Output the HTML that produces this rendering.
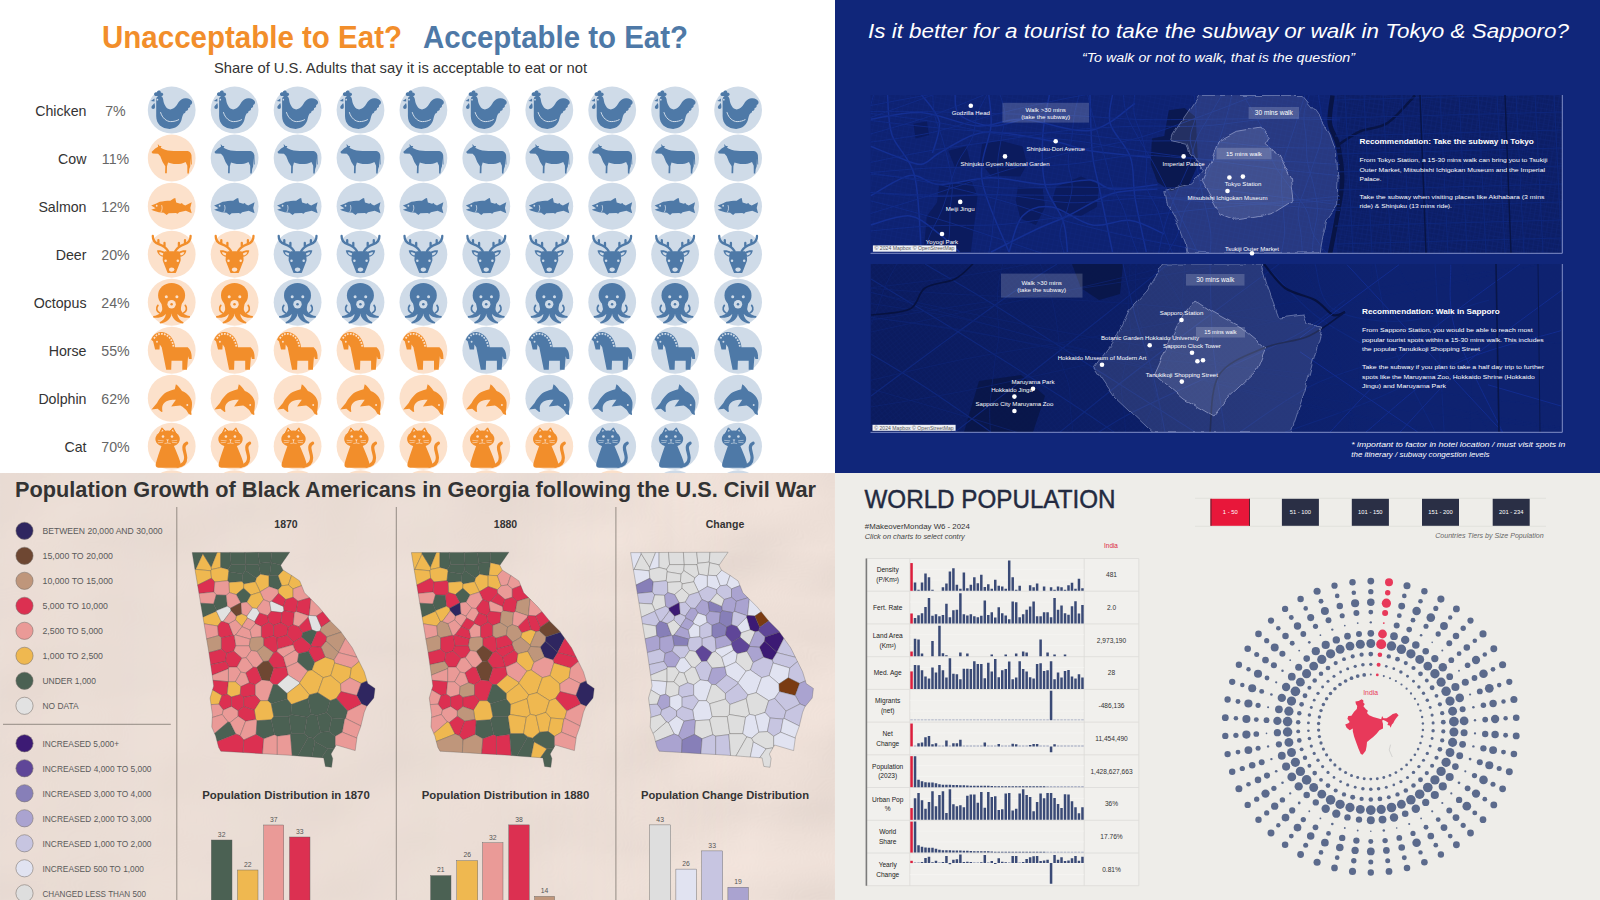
<!DOCTYPE html>
<html><head><meta charset="utf-8"><title>Viz collage</title>
<style>
html,body{margin:0;padding:0;background:#fff;}
body{width:1600px;height:900px;overflow:hidden;font-family:"Liberation Sans",sans-serif;}
svg{display:block;font-family:"Liberation Sans",sans-serif;}
</style></head><body>
<svg width="1600" height="900" viewBox="0 0 1600 900">
<!-- gen_tl -->
<g><rect x="0" y="0" width="835" height="473" fill="#fff"/>
<defs>
<g id="chiB"><ellipse cx="24" cy="24" rx="23.9" ry="23.5" fill="#cfdbe8"/><path fill="#4e79a7" d="M8.5 15C8 11.5 10 9.7 12 9.7C14 9.7 15.2 11 15.5 13.5C16 18 18.5 23.3 22.6 23.3C27 23.3 29 19 31 16C33 13 36 11.8 38.5 12.2C41 12.3 43.5 13.5 44.3 15.5C44.8 17 44 18.5 42.5 19C43 20.5 42 22 40.5 22C40.8 23.8 39.5 25 38 25C38 26.5 37 27.5 36 27.5C35 29 34.5 31 34 33C33 38.5 28 42.8 22 42.8C14 42.8 8.5 38 8.5 30Z"/>
<path fill="#4e79a7" d="M7.6 9.9C6.4 9.6 6 8 6.8 7C7.4 6.2 8.5 6 9.2 6.5C9.3 5.2 10.3 4.4 11.4 4.5C12.6 4.6 13.3 5.6 13.2 6.7C14.2 6.3 15.3 6.9 15.5 8C15.7 9 15 9.8 14.2 9.9Z"/>
<path fill="#4e79a7" d="M6.8 12.4L3.2 14.9L6.8 15.4Z"/>
<path fill="#4e79a7" d="M6.6 16.8C5.5 18.5 3.7 19.6 3.7 21.2A1.8 1.8 0 0 0 7.3 21.2C7.3 19.5 7.2 18 6.6 16.8Z"/>
<circle cx="9.7" cy="13.6" r="0.85" fill="#cfdbe8"/>
<path fill="none" stroke="#cfdbe8" stroke-width="1" stroke-linecap="round" d="M12.9 26.4C14.5 32 19 35.5 23 35.5C26 35.5 29 34.8 31 33.6"/></g>
<g id="chiO"><ellipse cx="24" cy="24" rx="23.9" ry="23.5" fill="#fce1cb"/><path fill="#f28e2b" d="M8.5 15C8 11.5 10 9.7 12 9.7C14 9.7 15.2 11 15.5 13.5C16 18 18.5 23.3 22.6 23.3C27 23.3 29 19 31 16C33 13 36 11.8 38.5 12.2C41 12.3 43.5 13.5 44.3 15.5C44.8 17 44 18.5 42.5 19C43 20.5 42 22 40.5 22C40.8 23.8 39.5 25 38 25C38 26.5 37 27.5 36 27.5C35 29 34.5 31 34 33C33 38.5 28 42.8 22 42.8C14 42.8 8.5 38 8.5 30Z"/>
<path fill="#f28e2b" d="M7.6 9.9C6.4 9.6 6 8 6.8 7C7.4 6.2 8.5 6 9.2 6.5C9.3 5.2 10.3 4.4 11.4 4.5C12.6 4.6 13.3 5.6 13.2 6.7C14.2 6.3 15.3 6.9 15.5 8C15.7 9 15 9.8 14.2 9.9Z"/>
<path fill="#f28e2b" d="M6.8 12.4L3.2 14.9L6.8 15.4Z"/>
<path fill="#f28e2b" d="M6.6 16.8C5.5 18.5 3.7 19.6 3.7 21.2A1.8 1.8 0 0 0 7.3 21.2C7.3 19.5 7.2 18 6.6 16.8Z"/>
<circle cx="9.7" cy="13.6" r="0.85" fill="#fce1cb"/>
<path fill="none" stroke="#fce1cb" stroke-width="1" stroke-linecap="round" d="M12.9 26.4C14.5 32 19 35.5 23 35.5C26 35.5 29 34.8 31 33.6"/></g>
<g id="cowB"><ellipse cx="24" cy="24" rx="23.9" ry="23.5" fill="#cfdbe8"/><path fill="#4e79a7" d="M3.8 18L7.5 14.5L10.4 12.6L10.1 10L11.8 12L13.8 12L13 13.6L14.9 14.7C18 16 22 17 26 17L39.9 17C42 17.5 43.5 19 43.8 21.1L44.1 30.5L43.3 30.5L42.9 24L42.6 32.2L41.6 35L41.1 39.5L39.7 39.3L39.6 31.7L37.9 27.8C35 29.5 32 30 28.8 30C25 30 22.5 29 20.4 28.3L19.3 32.2L19.1 39.2L17.4 39.2L17.6 32.2L14.9 27.8L12.6 22.2L10.4 19.7L4.9 19.5Z"/></g>
<g id="cowO"><ellipse cx="24" cy="24" rx="23.9" ry="23.5" fill="#fce1cb"/><path fill="#f28e2b" d="M3.8 18L7.5 14.5L10.4 12.6L10.1 10L11.8 12L13.8 12L13 13.6L14.9 14.7C18 16 22 17 26 17L39.9 17C42 17.5 43.5 19 43.8 21.1L44.1 30.5L43.3 30.5L42.9 24L42.6 32.2L41.6 35L41.1 39.5L39.7 39.3L39.6 31.7L37.9 27.8C35 29.5 32 30 28.8 30C25 30 22.5 29 20.4 28.3L19.3 32.2L19.1 39.2L17.4 39.2L17.6 32.2L14.9 27.8L12.6 22.2L10.4 19.7L4.9 19.5Z"/></g>
<g id="salB"><ellipse cx="24" cy="24" rx="23.9" ry="23.5" fill="#cfdbe8"/><path fill="#4e79a7" d="M3.5 23.3L8 21.5L12.1 19.7C15 19 19 18.6 22.6 18.6L26 16.3L27.6 15.8L28.5 20.3L32.6 21.7L34.3 20.8L35.1 22.2L37.6 23.3L44 20L42.6 25.8L44 31.1L38.2 28.6L31.5 30L29.9 31.7L28.2 30.8L21 31.1L19 32.8L16 30.6L11 30L6 28.6L3.5 27.5L7.9 26.1Z"/>
<circle cx="9" cy="23.6" r="0.9" fill="#cfdbe8"/>
<path fill="none" stroke="#cfdbe8" stroke-width="0.8" d="M13.9 23C14.8 25.5 14.5 28 13.2 30"/></g>
<g id="salO"><ellipse cx="24" cy="24" rx="23.9" ry="23.5" fill="#fce1cb"/><path fill="#f28e2b" d="M3.5 23.3L8 21.5L12.1 19.7C15 19 19 18.6 22.6 18.6L26 16.3L27.6 15.8L28.5 20.3L32.6 21.7L34.3 20.8L35.1 22.2L37.6 23.3L44 20L42.6 25.8L44 31.1L38.2 28.6L31.5 30L29.9 31.7L28.2 30.8L21 31.1L19 32.8L16 30.6L11 30L6 28.6L3.5 27.5L7.9 26.1Z"/>
<circle cx="9" cy="23.6" r="0.9" fill="#fce1cb"/>
<path fill="none" stroke="#fce1cb" stroke-width="0.8" d="M13.9 23C14.8 25.5 14.5 28 13.2 30"/></g>
<g id="deeB"><ellipse cx="24" cy="24" rx="23.9" ry="23.5" fill="#cfdbe8"/><path fill="none" stroke="#4e79a7" stroke-width="2.3" stroke-linecap="round" stroke-linejoin="round" d="M5.1 5.8C5 10 7 12.5 11 14C15 15.5 18.5 17.5 20.4 21M10.7 10L10.7 13.9M16.8 12.8L16.8 16.7"/>
<g transform="translate(48,0) scale(-1,1)"><path fill="none" stroke="#4e79a7" stroke-width="2.3" stroke-linecap="round" stroke-linejoin="round" d="M5.1 5.8C5 10 7 12.5 11 14C15 15.5 18.5 17.5 20.4 21M10.7 10L10.7 13.9M16.8 12.8L16.8 16.7"/><path fill="#4e79a7" d="M17.5 22C14 20 11 19.8 9.3 20.3C9.8 23.5 12 26 15.5 26.7Z"/><path fill="#cfdbe8" d="M15.8 23.3C13.8 22.1 12.3 21.9 11.3 22.1C11.8 23.8 13 25 15 25.4Z"/></g>
<path fill="#4e79a7" d="M17.5 22C14 20 11 19.8 9.3 20.3C9.8 23.5 12 26 15.5 26.7Z"/><path fill="#cfdbe8" d="M15.8 23.3C13.8 22.1 12.3 21.9 11.3 22.1C11.8 23.8 13 25 15 25.4Z"/>
<path fill="#4e79a7" d="M17.1 21.1L30.9 21.1C32.5 24 33.2 27 32.9 30.5L28.4 42C28.2 42.6 27.8 42.8 27.2 42.8L20.8 42.8C20.2 42.8 19.8 42.6 19.6 42L15.1 30.5C14.8 27 15.5 24 17.1 21.1Z"/>
<circle cx="17.9" cy="30.6" r="1.25" fill="#cfdbe8"/><circle cx="30.1" cy="30.6" r="1.25" fill="#cfdbe8"/>
<ellipse cx="24" cy="39.4" rx="2.7" ry="2.1" fill="#cfdbe8"/></g>
<g id="deeO"><ellipse cx="24" cy="24" rx="23.9" ry="23.5" fill="#fce1cb"/><path fill="none" stroke="#f28e2b" stroke-width="2.3" stroke-linecap="round" stroke-linejoin="round" d="M5.1 5.8C5 10 7 12.5 11 14C15 15.5 18.5 17.5 20.4 21M10.7 10L10.7 13.9M16.8 12.8L16.8 16.7"/>
<g transform="translate(48,0) scale(-1,1)"><path fill="none" stroke="#f28e2b" stroke-width="2.3" stroke-linecap="round" stroke-linejoin="round" d="M5.1 5.8C5 10 7 12.5 11 14C15 15.5 18.5 17.5 20.4 21M10.7 10L10.7 13.9M16.8 12.8L16.8 16.7"/><path fill="#f28e2b" d="M17.5 22C14 20 11 19.8 9.3 20.3C9.8 23.5 12 26 15.5 26.7Z"/><path fill="#fce1cb" d="M15.8 23.3C13.8 22.1 12.3 21.9 11.3 22.1C11.8 23.8 13 25 15 25.4Z"/></g>
<path fill="#f28e2b" d="M17.5 22C14 20 11 19.8 9.3 20.3C9.8 23.5 12 26 15.5 26.7Z"/><path fill="#fce1cb" d="M15.8 23.3C13.8 22.1 12.3 21.9 11.3 22.1C11.8 23.8 13 25 15 25.4Z"/>
<path fill="#f28e2b" d="M17.1 21.1L30.9 21.1C32.5 24 33.2 27 32.9 30.5L28.4 42C28.2 42.6 27.8 42.8 27.2 42.8L20.8 42.8C20.2 42.8 19.8 42.6 19.6 42L15.1 30.5C14.8 27 15.5 24 17.1 21.1Z"/>
<circle cx="17.9" cy="30.6" r="1.25" fill="#fce1cb"/><circle cx="30.1" cy="30.6" r="1.25" fill="#fce1cb"/>
<ellipse cx="24" cy="39.4" rx="2.7" ry="2.1" fill="#fce1cb"/></g>
<g id="octB"><ellipse cx="24" cy="24" rx="23.9" ry="23.5" fill="#cfdbe8"/><ellipse cx="23.9" cy="17.2" rx="13.5" ry="12.5" fill="#4e79a7"/>
<path fill="#4e79a7" d="M13.5 24L34.3 24L32.6 33L30 36L23.9 35.5L17.8 36L15.2 33Z"/>
<path fill="#4e79a7" d="M15 29C15 34 11 37 5.7 37.8C5.2 38.2 5.4 39.4 6.2 39.5C13 40.5 19 37 20 32Z"/><path fill="#4e79a7" d="M18 33C19 38 16 42 12.3 43.8C11.6 44.2 11.9 45.3 12.8 45.2C19 44.5 23.5 40 23.9 35.5L23.9 33Z"/>
<path fill="none" stroke="#4e79a7" stroke-width="1.7" stroke-linecap="round" d="M10.2 27.2C8 30 9 33.5 12 34.8"/>
<g transform="translate(47.8,0) scale(-1,1)"><path fill="#4e79a7" d="M15 29C15 34 11 37 5.7 37.8C5.2 38.2 5.4 39.4 6.2 39.5C13 40.5 19 37 20 32Z"/><path fill="#4e79a7" d="M18 33C19 38 16 42 12.3 43.8C11.6 44.2 11.9 45.3 12.8 45.2C19 44.5 23.5 40 23.9 35.5L23.9 33Z"/><path fill="none" stroke="#4e79a7" stroke-width="1.7" stroke-linecap="round" d="M10.2 27.2C8 30 9 33.5 12 34.8"/></g>
<circle cx="18.6" cy="18.6" r="1.5" fill="#cfdbe8"/><circle cx="29.2" cy="18.6" r="1.5" fill="#cfdbe8"/>
<circle cx="23.9" cy="26" r="4.2" fill="#cfdbe8"/><circle cx="23.9" cy="26" r="1.25" fill="#4e79a7"/></g>
<g id="octO"><ellipse cx="24" cy="24" rx="23.9" ry="23.5" fill="#fce1cb"/><ellipse cx="23.9" cy="17.2" rx="13.5" ry="12.5" fill="#f28e2b"/>
<path fill="#f28e2b" d="M13.5 24L34.3 24L32.6 33L30 36L23.9 35.5L17.8 36L15.2 33Z"/>
<path fill="#f28e2b" d="M15 29C15 34 11 37 5.7 37.8C5.2 38.2 5.4 39.4 6.2 39.5C13 40.5 19 37 20 32Z"/><path fill="#f28e2b" d="M18 33C19 38 16 42 12.3 43.8C11.6 44.2 11.9 45.3 12.8 45.2C19 44.5 23.5 40 23.9 35.5L23.9 33Z"/>
<path fill="none" stroke="#f28e2b" stroke-width="1.7" stroke-linecap="round" d="M10.2 27.2C8 30 9 33.5 12 34.8"/>
<g transform="translate(47.8,0) scale(-1,1)"><path fill="#f28e2b" d="M15 29C15 34 11 37 5.7 37.8C5.2 38.2 5.4 39.4 6.2 39.5C13 40.5 19 37 20 32Z"/><path fill="#f28e2b" d="M18 33C19 38 16 42 12.3 43.8C11.6 44.2 11.9 45.3 12.8 45.2C19 44.5 23.5 40 23.9 35.5L23.9 33Z"/><path fill="none" stroke="#f28e2b" stroke-width="1.7" stroke-linecap="round" d="M10.2 27.2C8 30 9 33.5 12 34.8"/></g>
<circle cx="18.6" cy="18.6" r="1.5" fill="#fce1cb"/><circle cx="29.2" cy="18.6" r="1.5" fill="#fce1cb"/>
<circle cx="23.9" cy="26" r="4.2" fill="#fce1cb"/><circle cx="23.9" cy="26" r="1.25" fill="#f28e2b"/></g>
<g id="horB"><ellipse cx="24" cy="24" rx="23.9" ry="23.5" fill="#cfdbe8"/><path fill="#4e79a7" d="M5.4 15L7.4 23.3L11.8 23.3L12.1 18.3L14 21L18.5 43.6L23.5 43.6L23.8 34.5L34.6 34.5L34.6 43.6L39.3 43.6L40.4 30L41.3 32.8L44 32.8C44.2 28 43.5 24 40 21.1L27.4 21.1C27 13 21 5.8 13.2 5.8C8.5 5.8 5 9.5 3.5 13.6Z"/>
<path fill="none" stroke="#cfdbe8" stroke-width="1.7" stroke-dasharray="1.7 1.25" d="M6.3 12.3C8 9 10.5 7.6 13.5 7.6C20 7.6 25 13.5 25.8 20.8"/>
<circle cx="9.3" cy="15.6" r="0.95" fill="#cfdbe8"/></g>
<g id="horO"><ellipse cx="24" cy="24" rx="23.9" ry="23.5" fill="#fce1cb"/><path fill="#f28e2b" d="M5.4 15L7.4 23.3L11.8 23.3L12.1 18.3L14 21L18.5 43.6L23.5 43.6L23.8 34.5L34.6 34.5L34.6 43.6L39.3 43.6L40.4 30L41.3 32.8L44 32.8C44.2 28 43.5 24 40 21.1L27.4 21.1C27 13 21 5.8 13.2 5.8C8.5 5.8 5 9.5 3.5 13.6Z"/>
<path fill="none" stroke="#fce1cb" stroke-width="1.7" stroke-dasharray="1.7 1.25" d="M6.3 12.3C8 9 10.5 7.6 13.5 7.6C20 7.6 25 13.5 25.8 20.8"/>
<circle cx="9.3" cy="15.6" r="0.95" fill="#fce1cb"/></g>
<g id="dolB"><ellipse cx="24" cy="24" rx="23.9" ry="23.5" fill="#cfdbe8"/><path fill="#4e79a7" d="M3.8 35.3L9.3 28.9C10.5 26 12 24 13.8 22.2C16 19.5 18 18 20.4 17.2C22.5 16.2 25 15.5 27.1 15L28.2 10C30.5 11.5 32.5 14 34.3 16.7C37.5 18 40.5 20 42.1 22.8C43.8 25.5 44.5 28 44.3 30C44.3 33 43.8 35.5 43.5 37.8L43.9 40.2L43.2 40.8C42 40.5 41 39.8 40.4 38.9C39.5 37 38.5 35.5 37.1 34.5C35.5 33 34 32 32.6 31.4L23.5 32.2L28.2 25.6C26.5 25.4 24.8 25.5 23.2 25.8C21 26.2 19 26.8 17.6 27.8C16 29 15 30.5 14.6 32.2C14.3 34 14.5 35.8 14.9 37.2L13.8 37.8L9.9 34.5Z"/>
<circle cx="39.6" cy="30.8" r="0.95" fill="#cfdbe8"/></g>
<g id="dolO"><ellipse cx="24" cy="24" rx="23.9" ry="23.5" fill="#fce1cb"/><path fill="#f28e2b" d="M3.8 35.3L9.3 28.9C10.5 26 12 24 13.8 22.2C16 19.5 18 18 20.4 17.2C22.5 16.2 25 15.5 27.1 15L28.2 10C30.5 11.5 32.5 14 34.3 16.7C37.5 18 40.5 20 42.1 22.8C43.8 25.5 44.5 28 44.3 30C44.3 33 43.8 35.5 43.5 37.8L43.9 40.2L43.2 40.8C42 40.5 41 39.8 40.4 38.9C39.5 37 38.5 35.5 37.1 34.5C35.5 33 34 32 32.6 31.4L23.5 32.2L28.2 25.6C26.5 25.4 24.8 25.5 23.2 25.8C21 26.2 19 26.8 17.6 27.8C16 29 15 30.5 14.6 32.2C14.3 34 14.5 35.8 14.9 37.2L13.8 37.8L9.9 34.5Z"/>
<circle cx="39.6" cy="30.8" r="0.95" fill="#fce1cb"/></g>
<g id="catB"><ellipse cx="24" cy="24" rx="23.9" ry="23.5" fill="#cfdbe8"/><ellipse cx="19.9" cy="16.7" rx="12.2" ry="8.4" fill="#4e79a7"/>
<path fill="#4e79a7" stroke="#4e79a7" stroke-width="1" stroke-linejoin="round" d="M11 12L14.3 5.6L18.5 10Z M21.3 10L25.3 5.6L28.8 12Z"/>
<path fill="#cfdbe8" d="M13.6 9.4L14.6 7.3L15.9 8.8Z M23.9 8.8L25.1 7.3L26.2 9.4Z"/>
<path fill="#4e79a7" d="M14 23.2L26 23.2C28 27.5 30.5 33.5 32.3 39C33.5 42.5 33 45.4 30 45.4L10.8 45.4C8 45.4 7.6 43 8.3 40.5C9.5 36 11.5 30 14 23.2Z"/>
<path fill="none" stroke="#4e79a7" stroke-width="3.2" stroke-linecap="round" d="M30 43.8C35 43.3 38 40.5 38 35.5C38 32 36 28 36.2 25C36.4 22.8 37.6 21.6 39 21"/>
<circle cx="15.3" cy="14.2" r="1.3" fill="#cfdbe8"/><circle cx="24.3" cy="14.2" r="1.3" fill="#cfdbe8"/>
<path fill="none" stroke="#cfdbe8" stroke-width="0.6" d="M10.1 18.1L16 18.6M10.1 20.5L15.2 20.1M24 18.6L29.5 18.1M24.3 20.1L29.5 20.5M19.9 18.6L19.9 20.8M16.8 21.3L19.9 20.8L23 21.3"/>
<path fill="#cfdbe8" d="M18.5 17.2L21.3 17.2L19.9 18.9Z"/></g>
<g id="catO"><ellipse cx="24" cy="24" rx="23.9" ry="23.5" fill="#fce1cb"/><ellipse cx="19.9" cy="16.7" rx="12.2" ry="8.4" fill="#f28e2b"/>
<path fill="#f28e2b" stroke="#f28e2b" stroke-width="1" stroke-linejoin="round" d="M11 12L14.3 5.6L18.5 10Z M21.3 10L25.3 5.6L28.8 12Z"/>
<path fill="#fce1cb" d="M13.6 9.4L14.6 7.3L15.9 8.8Z M23.9 8.8L25.1 7.3L26.2 9.4Z"/>
<path fill="#f28e2b" d="M14 23.2L26 23.2C28 27.5 30.5 33.5 32.3 39C33.5 42.5 33 45.4 30 45.4L10.8 45.4C8 45.4 7.6 43 8.3 40.5C9.5 36 11.5 30 14 23.2Z"/>
<path fill="none" stroke="#f28e2b" stroke-width="3.2" stroke-linecap="round" d="M30 43.8C35 43.3 38 40.5 38 35.5C38 32 36 28 36.2 25C36.4 22.8 37.6 21.6 39 21"/>
<circle cx="15.3" cy="14.2" r="1.3" fill="#fce1cb"/><circle cx="24.3" cy="14.2" r="1.3" fill="#fce1cb"/>
<path fill="none" stroke="#fce1cb" stroke-width="0.6" d="M10.1 18.1L16 18.6M10.1 20.5L15.2 20.1M24 18.6L29.5 18.1M24.3 20.1L29.5 20.5M19.9 18.6L19.9 20.8M16.8 21.3L19.9 20.8L23 21.3"/>
<path fill="#fce1cb" d="M18.5 17.2L21.3 17.2L19.9 18.9Z"/></g>
</defs>
<text x="102.00" y="48.00" font-size="30.5" fill="#f28e2b" font-weight="bold" textLength="300.00" lengthAdjust="spacingAndGlyphs">Unacceptable to Eat?</text>
<text x="423.00" y="48.00" font-size="30.5" fill="#4e79a7" font-weight="bold" textLength="265.00" lengthAdjust="spacingAndGlyphs">Acceptable to Eat?</text>
<text x="214.00" y="73.00" font-size="14.5" fill="#333" textLength="373.00" lengthAdjust="spacingAndGlyphs">Share of U.S. Adults that say it is acceptable to eat or not</text>
<text x="86.50" y="115.50" font-size="14.2" fill="#333" text-anchor="end">Chicken</text>
<text x="115.50" y="115.50" font-size="14.2" fill="#666" text-anchor="middle">7%</text>
<use href="#chiB" x="147.7" y="86.10"/>
<use href="#chiB" x="210.6" y="86.10"/>
<use href="#chiB" x="273.6" y="86.10"/>
<use href="#chiB" x="336.5" y="86.10"/>
<use href="#chiB" x="399.4" y="86.10"/>
<use href="#chiB" x="462.3" y="86.10"/>
<use href="#chiB" x="525.3" y="86.10"/>
<use href="#chiB" x="588.2" y="86.10"/>
<use href="#chiB" x="651.1" y="86.10"/>
<use href="#chiB" x="714.1" y="86.10"/>
<text x="86.50" y="163.52" font-size="14.2" fill="#333" text-anchor="end">Cow</text>
<text x="115.50" y="163.52" font-size="14.2" fill="#666" text-anchor="middle">11%</text>
<use href="#cowO" x="147.7" y="134.12"/>
<use href="#cowB" x="210.6" y="134.12"/>
<use href="#cowB" x="273.6" y="134.12"/>
<use href="#cowB" x="336.5" y="134.12"/>
<use href="#cowB" x="399.4" y="134.12"/>
<use href="#cowB" x="462.3" y="134.12"/>
<use href="#cowB" x="525.3" y="134.12"/>
<use href="#cowB" x="588.2" y="134.12"/>
<use href="#cowB" x="651.1" y="134.12"/>
<use href="#cowB" x="714.1" y="134.12"/>
<text x="86.50" y="211.54" font-size="14.2" fill="#333" text-anchor="end">Salmon</text>
<text x="115.50" y="211.54" font-size="14.2" fill="#666" text-anchor="middle">12%</text>
<use href="#salO" x="147.7" y="182.14"/>
<use href="#salB" x="210.6" y="182.14"/>
<use href="#salB" x="273.6" y="182.14"/>
<use href="#salB" x="336.5" y="182.14"/>
<use href="#salB" x="399.4" y="182.14"/>
<use href="#salB" x="462.3" y="182.14"/>
<use href="#salB" x="525.3" y="182.14"/>
<use href="#salB" x="588.2" y="182.14"/>
<use href="#salB" x="651.1" y="182.14"/>
<use href="#salB" x="714.1" y="182.14"/>
<text x="86.50" y="259.56" font-size="14.2" fill="#333" text-anchor="end">Deer</text>
<text x="115.50" y="259.56" font-size="14.2" fill="#666" text-anchor="middle">20%</text>
<use href="#deeO" x="147.7" y="230.16"/>
<use href="#deeO" x="210.6" y="230.16"/>
<use href="#deeB" x="273.6" y="230.16"/>
<use href="#deeB" x="336.5" y="230.16"/>
<use href="#deeB" x="399.4" y="230.16"/>
<use href="#deeB" x="462.3" y="230.16"/>
<use href="#deeB" x="525.3" y="230.16"/>
<use href="#deeB" x="588.2" y="230.16"/>
<use href="#deeB" x="651.1" y="230.16"/>
<use href="#deeB" x="714.1" y="230.16"/>
<text x="86.50" y="307.58" font-size="14.2" fill="#333" text-anchor="end">Octopus</text>
<text x="115.50" y="307.58" font-size="14.2" fill="#666" text-anchor="middle">24%</text>
<use href="#octO" x="147.7" y="278.18"/>
<use href="#octO" x="210.6" y="278.18"/>
<use href="#octB" x="273.6" y="278.18"/>
<use href="#octB" x="336.5" y="278.18"/>
<use href="#octB" x="399.4" y="278.18"/>
<use href="#octB" x="462.3" y="278.18"/>
<use href="#octB" x="525.3" y="278.18"/>
<use href="#octB" x="588.2" y="278.18"/>
<use href="#octB" x="651.1" y="278.18"/>
<use href="#octB" x="714.1" y="278.18"/>
<text x="86.50" y="355.60" font-size="14.2" fill="#333" text-anchor="end">Horse</text>
<text x="115.50" y="355.60" font-size="14.2" fill="#666" text-anchor="middle">55%</text>
<use href="#horO" x="147.7" y="326.20"/>
<use href="#horO" x="210.6" y="326.20"/>
<use href="#horO" x="273.6" y="326.20"/>
<use href="#horO" x="336.5" y="326.20"/>
<use href="#horO" x="399.4" y="326.20"/>
<use href="#horB" x="462.3" y="326.20"/>
<use href="#horB" x="525.3" y="326.20"/>
<use href="#horB" x="588.2" y="326.20"/>
<use href="#horB" x="651.1" y="326.20"/>
<use href="#horB" x="714.1" y="326.20"/>
<text x="86.50" y="403.62" font-size="14.2" fill="#333" text-anchor="end">Dolphin</text>
<text x="115.50" y="403.62" font-size="14.2" fill="#666" text-anchor="middle">62%</text>
<use href="#dolO" x="147.7" y="374.22"/>
<use href="#dolO" x="210.6" y="374.22"/>
<use href="#dolO" x="273.6" y="374.22"/>
<use href="#dolO" x="336.5" y="374.22"/>
<use href="#dolO" x="399.4" y="374.22"/>
<use href="#dolO" x="462.3" y="374.22"/>
<use href="#dolB" x="525.3" y="374.22"/>
<use href="#dolB" x="588.2" y="374.22"/>
<use href="#dolB" x="651.1" y="374.22"/>
<use href="#dolB" x="714.1" y="374.22"/>
<text x="86.50" y="451.64" font-size="14.2" fill="#333" text-anchor="end">Cat</text>
<text x="115.50" y="451.64" font-size="14.2" fill="#666" text-anchor="middle">70%</text>
<use href="#catO" x="147.7" y="422.24"/>
<use href="#catO" x="210.6" y="422.24"/>
<use href="#catO" x="273.6" y="422.24"/>
<use href="#catO" x="336.5" y="422.24"/>
<use href="#catO" x="399.4" y="422.24"/>
<use href="#catO" x="462.3" y="422.24"/>
<use href="#catO" x="525.3" y="422.24"/>
<use href="#catB" x="588.2" y="422.24"/>
<use href="#catB" x="651.1" y="422.24"/>
<use href="#catB" x="714.1" y="422.24"/>
<circle cx="171.7" cy="494" r="23.7" fill="#fce1cb"/>
<circle cx="234.6" cy="494" r="23.7" fill="#fce1cb"/>
<circle cx="297.6" cy="494" r="23.7" fill="#fce1cb"/>
<circle cx="360.5" cy="494" r="23.7" fill="#fce1cb"/>
<circle cx="423.4" cy="494" r="23.7" fill="#fce1cb"/>
<circle cx="486.3" cy="494" r="23.7" fill="#fce1cb"/>
<circle cx="549.3" cy="494" r="23.7" fill="#fce1cb"/>
<circle cx="612.2" cy="494" r="23.7" fill="#fce1cb"/>
<circle cx="675.1" cy="494" r="23.7" fill="#cfdbe8"/>
<circle cx="738.1" cy="494" r="23.7" fill="#cfdbe8"/></g>
<!-- gen_tr -->
<g><rect x="835" y="0" width="765" height="473" fill="#10267a"/>
<text x="868.00" y="38.00" font-size="19.5" fill="#fff" font-style="italic" textLength="701.00" lengthAdjust="spacingAndGlyphs">Is it better for a tourist to take the subway or walk in Tokyo &amp; Sapporo?</text>
<text x="1082.00" y="61.50" font-size="12.5" fill="#fff" font-style="italic" textLength="273.00" lengthAdjust="spacingAndGlyphs">“To walk or not to walk, that is the question”</text>
<defs>
<pattern id="gridA" width="5" height="5" patternUnits="userSpaceOnUse" patternTransform="rotate(12)"><path d="M0 0H5M0 0V5" stroke="#11287f" stroke-width="0.6" fill="none"/></pattern>
<pattern id="gridB" width="4" height="4" patternUnits="userSpaceOnUse" patternTransform="rotate(-38)"><path d="M0 0H4M0 0V4" stroke="#0e2370" stroke-width="0.55" fill="none"/></pattern>
<pattern id="gridC" width="4.5" height="4.5" patternUnits="userSpaceOnUse" patternTransform="rotate(3)"><path d="M0 0H4.5M0 0V4.5" stroke="#0e2472" stroke-width="0.55" fill="none"/></pattern>
<filter id="jag" x="-5%" y="-5%" width="110%" height="110%"><feTurbulence type="fractalNoise" baseFrequency="0.09" numOctaves="2" seed="3" result="t"/><feDisplacementMap in="SourceGraphic" in2="t" scale="5" xChannelSelector="R" yChannelSelector="G"/></filter>
<clipPath id="clipT"><rect x="870.5" y="95" width="691.5" height="158"/></clipPath>
<clipPath id="clipS"><rect x="870.5" y="264" width="691.5" height="168"/></clipPath>
<linearGradient id="sapG" x1="0" x2="1" y1="0" y2="0"><stop offset="0" stop-color="#0b1b5e"/><stop offset="0.4" stop-color="#0c1e66"/><stop offset="0.75" stop-color="#0e2270"/><stop offset="1" stop-color="#0e2270"/></linearGradient>
</defs>
<g clip-path="url(#clipT)">
<rect x="870.5" y="95" width="691.5" height="158" fill="#0e2272"/><rect x="1337" y="95" width="225" height="158" fill="#0c1e66"/>
<rect x="870.5" y="95" width="691.5" height="158" fill="url(#gridA)"/>

<rect x="1335" y="95" width="227" height="158" fill="url(#gridC)"/>
<polygon points="982.0,144.0 1000.0,140.6 1022.5,146.3 1027.0,164.3 1020.3,176.6 991.0,175.5 979.8,162.0" fill="#0b1b5e"/>
<polygon points="939.3,184.5 970.8,180.0 977.5,195.8 975.3,216.0 970.8,252.0 923.5,252.0 926.9,216.0 937.0,202.5" fill="#0b1b5e"/>
<polygon points="1056.3,186.8 1081.0,176.6 1099.0,184.5 1096.8,207.0 1081.0,216.0 1058.5,211.5 1052.9,198.0" fill="#0b1b5e"/>
<polygon points="1018.0,186.8 1042.8,189.0 1045.0,207.0 1036.0,225.0 1020.3,218.3 1015.8,200.3" fill="#0b1b5e"/>
<polygon points="1151.9,138.4 1164.3,136.1 1168.8,110.3 1184.5,108.0 1195.8,117.0 1198.0,164.3 1189.0,184.5 1171.0,191.3 1157.5,182.3 1150.8,164.3" fill="#0a1850"/>
<polygon points="913.4,123.8 926.9,121.5 929.1,135.0 915.6,138.4" fill="#0b1b5e"/>
<polygon points="948.3,150.8 966.3,146.3 970.8,164.3 955.0,167.6" fill="#0b1b5e"/>
<path d="M1332.5 95.5C1332.1 100.1 1328.9 114.8 1329.8 123.0C1330.7 131.3 1336.0 135.4 1338.0 145.0C1340.1 154.6 1342.4 168.4 1342.1 180.8C1341.9 193.1 1338.7 206.9 1336.6 219.3C1334.6 231.6 1330.9 249.1 1329.8 255.0" fill="none" stroke="#081445" stroke-width="4.5"/>
<path d="M1338.0 145.0C1341.7 142.7 1351.8 134.9 1360.0 131.3C1368.3 127.6 1378.4 129.0 1387.5 123.0C1396.7 117.0 1410.4 100.1 1415.0 95.5" fill="none" stroke="#081445" stroke-width="2.5"/>
<path d="M870.6 146.3C875.3 148.1 890.3 154.5 898.8 157.5C907.2 160.5 914.5 165.0 921.3 164.3C928.0 163.5 930.6 157.9 939.3 153.0C947.9 148.1 962.9 138.4 973.0 135.0C983.1 131.6 986.1 131.6 1000.0 132.8C1013.9 133.9 1041.3 138.8 1056.3 141.8C1071.3 144.8 1074.3 148.1 1090.0 150.8C1105.8 153.4 1140.7 156.4 1150.8 157.5" fill="none" stroke="#142f92" stroke-width="1.5"/>
<path d="M870.6 195.8C877.2 192.4 898.6 177.4 910.0 175.5C921.4 173.6 925.8 184.1 939.3 184.5C952.8 184.9 973.4 177.8 991.0 177.8C1008.6 177.8 1028.5 184.1 1045.0 184.5C1061.5 184.9 1078.8 179.3 1090.0 180.0C1101.3 180.8 1101.3 188.3 1112.5 189.0C1123.8 189.8 1150.0 185.3 1157.5 184.5" fill="none" stroke="#142f92" stroke-width="1.5"/>
<path d="M887.5 94.5C888.3 101.3 887.5 121.5 892.0 135.0C896.5 148.5 909.6 156.0 914.5 175.5C919.4 195.0 920.1 239.3 921.3 252.0" fill="none" stroke="#142f92" stroke-width="1.5"/>
<path d="M988.8 94.5C989.1 99.8 992.1 111.8 991.0 126.0C989.9 140.3 979.0 159.0 982.0 180.0C985.0 201.0 1004.5 240.0 1009.0 252.0" fill="none" stroke="#142f92" stroke-width="1.5"/>
<path d="M1049.5 94.5C1048.4 101.3 1043.5 120.0 1042.8 135.0C1042.0 150.0 1041.6 170.3 1045.0 184.5C1048.4 198.8 1059.3 209.3 1063.0 220.5C1066.8 231.8 1066.8 246.8 1067.5 252.0" fill="none" stroke="#142f92" stroke-width="1.5"/>
<path d="M1090.0 94.5C1090.4 104.3 1090.8 137.6 1092.3 153.0C1093.8 168.4 1095.6 170.3 1099.0 186.8C1102.4 203.3 1110.3 241.1 1112.5 252.0" fill="none" stroke="#142f92" stroke-width="1.5"/>
<path d="M991.0 252.0C998.5 248.3 1023.3 235.5 1036.0 229.5C1048.8 223.5 1054.8 222.0 1067.5 216.0C1080.3 210.0 1097.5 198.0 1112.5 193.5C1127.5 189.0 1150.0 189.8 1157.5 189.0" fill="none" stroke="#142f92" stroke-width="1.5"/>
<path d="M870.6 119.3C879.1 118.1 903.4 111.4 921.3 112.5C939.1 113.6 960.6 124.9 977.5 126.0C994.4 127.1 1003.8 118.5 1022.5 119.3C1041.3 120.0 1071.3 133.1 1090.0 130.5C1108.8 127.9 1127.5 108.0 1135.0 103.5" fill="none" stroke="#142f92" stroke-width="1.5"/>
<path d="M870.6 225.0C877.2 223.5 898.6 214.5 910.0 216.0C921.4 217.5 931.0 228.0 939.3 234.0C947.5 240.0 956.1 249.0 959.5 252.0" fill="none" stroke="#142f92" stroke-width="1.5"/>
<path d="M1112.5 94.5C1112.1 99.4 1107.3 113.3 1110.3 123.8C1113.3 134.3 1126.4 145.1 1130.5 157.5C1134.7 169.9 1132.4 182.3 1135.0 198.0C1137.7 213.8 1144.4 243.0 1146.3 252.0" fill="none" stroke="#142f92" stroke-width="1.5"/>
<path d="M921.3 94.5C924.3 99.0 937.4 111.8 939.3 121.5C941.1 131.3 933.6 147.8 932.5 153.0" fill="none" stroke="#142f92" stroke-width="1.5"/>
<path d="M1009.0 252.0C1011.3 246.0 1015.4 223.5 1022.5 216.0C1029.6 208.5 1040.1 205.5 1051.8 207.0C1063.4 208.5 1079.1 222.8 1092.3 225.0C1105.4 227.3 1118.5 219.0 1130.5 220.5C1142.5 222.0 1158.7 231.8 1164.3 234.0" fill="none" stroke="#142f92" stroke-width="1.5"/>
<path d="M955.0 94.5C955.8 97.9 953.5 109.5 959.5 114.8C965.5 120.0 980.5 125.3 991.0 126.0C1001.5 126.8 1017.3 120.4 1022.5 119.3" fill="none" stroke="#142f92" stroke-width="1.5"/>
<path d="M865.0 119.9C876.3 121.1 910.2 125.3 932.9 127.4C955.5 129.5 978.1 131.5 1000.7 132.5C1023.3 133.5 1046.0 132.0 1068.6 133.4C1091.2 134.7 1113.8 139.2 1136.4 140.5C1159.0 141.8 1181.7 139.9 1204.3 141.0C1226.9 142.1 1249.5 145.9 1272.1 147.1C1294.8 148.3 1328.7 147.9 1340.0 148.1" fill="none" stroke="#122b88" stroke-width="0.9"/>
<path d="M865.0 172.0C876.3 173.9 910.2 178.6 932.9 183.3C955.5 188.0 978.1 193.9 1000.7 200.3C1023.3 206.7 1046.0 215.5 1068.6 221.8C1091.2 228.1 1113.8 233.1 1136.4 238.1C1159.0 243.1 1181.7 245.9 1204.3 251.8C1226.9 257.7 1249.5 268.6 1272.1 273.7C1294.8 278.8 1328.7 281.1 1340.0 282.5" fill="none" stroke="#122b88" stroke-width="0.9"/>
<path d="M989.7 90.0C987.6 94.0 980.3 106.0 977.4 114.0C974.4 122.0 975.4 130.0 972.2 138.0C968.9 146.0 961.8 154.0 958.0 162.0C954.3 170.0 952.3 178.0 949.6 186.0C946.9 194.0 945.1 202.0 941.9 210.0C938.7 218.0 933.8 226.0 930.4 234.0C927.0 242.0 923.0 254.0 921.5 258.0" fill="none" stroke="#122b88" stroke-width="0.9"/>
<path d="M865.0 93.3C876.3 90.8 910.2 83.7 932.9 78.6C955.5 73.4 978.1 67.1 1000.7 62.3C1023.3 57.5 1046.0 54.3 1068.6 49.8C1091.2 45.4 1113.8 40.6 1136.4 35.5C1159.0 30.4 1181.7 23.4 1204.3 19.0C1226.9 14.7 1249.5 12.9 1272.1 9.5C1294.8 6.1 1328.7 0.4 1340.0 -1.4" fill="none" stroke="#122b88" stroke-width="0.9"/>
<path d="M865.0 192.2C876.3 192.9 910.2 196.1 932.9 196.6C955.5 197.0 978.1 193.8 1000.7 194.8C1023.3 195.8 1046.0 202.0 1068.6 202.7C1091.2 203.3 1113.8 199.2 1136.4 198.5C1159.0 197.8 1181.7 197.7 1204.3 198.5C1226.9 199.3 1249.5 203.1 1272.1 203.3C1294.8 203.5 1328.7 200.2 1340.0 199.6" fill="none" stroke="#122b88" stroke-width="0.9"/>
<path d="M865.0 112.7C876.3 114.2 910.2 117.9 932.9 121.6C955.5 125.2 978.1 131.6 1000.7 134.6C1023.3 137.7 1046.0 137.2 1068.6 139.9C1091.2 142.5 1113.8 147.1 1136.4 150.4C1159.0 153.7 1181.7 156.5 1204.3 159.6C1226.9 162.6 1249.5 165.8 1272.1 168.5C1294.8 171.2 1328.7 174.5 1340.0 175.7" fill="none" stroke="#122b88" stroke-width="0.9"/>
<path d="M1310.9 90.0C1309.7 94.0 1304.8 106.0 1304.0 114.0C1303.2 122.0 1305.6 130.0 1306.1 138.0C1306.7 146.0 1306.2 154.0 1307.5 162.0C1308.8 170.0 1312.0 178.0 1313.7 186.0C1315.4 194.0 1317.5 202.0 1317.5 210.0C1317.5 218.0 1314.8 226.0 1313.8 234.0C1312.8 242.0 1311.9 254.0 1311.5 258.0" fill="none" stroke="#122b88" stroke-width="0.9"/>
<path d="M874.8 90.0C873.7 94.0 870.7 106.0 868.4 114.0C866.1 122.0 861.9 130.0 861.2 138.0C860.4 146.0 864.5 154.0 863.9 162.0C863.3 170.0 859.5 178.0 857.7 186.0C855.9 194.0 854.3 202.0 853.1 210.0C851.9 218.0 850.3 226.0 850.6 234.0C850.8 242.0 854.0 254.0 854.7 258.0" fill="none" stroke="#122b88" stroke-width="0.9"/>
<path d="M865.0 173.6C876.3 174.8 910.2 178.0 932.9 180.4C955.5 182.8 978.1 186.7 1000.7 187.8C1023.3 188.9 1046.0 186.9 1068.6 187.0C1091.2 187.1 1113.8 187.9 1136.4 188.1C1159.0 188.4 1181.7 187.1 1204.3 188.4C1226.9 189.8 1249.5 193.4 1272.1 196.1C1294.8 198.8 1328.7 203.4 1340.0 204.8" fill="none" stroke="#122b88" stroke-width="0.9"/>
<path d="M865.0 106.6C876.3 104.5 910.2 98.0 932.9 94.0C955.5 90.0 978.1 87.3 1000.7 82.8C1023.3 78.3 1046.0 72.8 1068.6 67.0C1091.2 61.1 1113.8 53.1 1136.4 47.6C1159.0 42.1 1181.7 38.6 1204.3 34.0C1226.9 29.3 1249.5 24.0 1272.1 19.7C1294.8 15.4 1328.7 10.1 1340.0 8.1" fill="none" stroke="#122b88" stroke-width="0.9"/>
<path d="M1193.1 90.0C1193.6 94.0 1196.5 106.0 1196.0 114.0C1195.5 122.0 1190.2 130.0 1190.2 138.0C1190.2 146.0 1194.5 154.0 1196.2 162.0C1197.9 170.0 1198.9 178.0 1200.6 186.0C1202.2 194.0 1204.5 202.0 1206.2 210.0C1207.9 218.0 1210.2 226.0 1210.8 234.0C1211.4 242.0 1209.9 254.0 1209.7 258.0" fill="none" stroke="#122b88" stroke-width="0.9"/>
<path d="M865.0 111.5C876.3 111.5 910.2 111.3 932.9 111.7C955.5 112.1 978.1 113.2 1000.7 113.8C1023.3 114.4 1046.0 114.4 1068.6 115.3C1091.2 116.3 1113.8 118.7 1136.4 119.4C1159.0 120.0 1181.7 119.5 1204.3 119.3C1226.9 119.2 1249.5 118.5 1272.1 118.6C1294.8 118.7 1328.7 119.7 1340.0 119.9" fill="none" stroke="#122b88" stroke-width="0.9"/>
<path d="M865.0 135.6C876.3 132.2 910.2 123.1 932.9 115.2C955.5 107.3 978.1 96.9 1000.7 88.2C1023.3 79.4 1046.0 70.9 1068.6 62.6C1091.2 54.4 1113.8 46.5 1136.4 38.4C1159.0 30.4 1181.7 23.0 1204.3 14.5C1226.9 5.9 1249.5 -5.4 1272.1 -12.9C1294.8 -20.3 1328.7 -27.2 1340.0 -30.0" fill="none" stroke="#122b88" stroke-width="0.9"/>
<path d="M1080.4 90.0C1079.4 94.0 1075.9 106.0 1074.4 114.0C1073.0 122.0 1072.9 130.0 1071.8 138.0C1070.7 146.0 1068.0 154.0 1068.1 162.0C1068.1 170.0 1072.4 178.0 1072.2 186.0C1072.1 194.0 1069.1 202.0 1067.1 210.0C1065.0 218.0 1060.2 226.0 1059.9 234.0C1059.7 242.0 1064.8 254.0 1065.8 258.0" fill="none" stroke="#122b88" stroke-width="0.9"/>
<path d="M932.7 90.0C933.0 94.0 932.7 106.0 934.3 114.0C935.9 122.0 939.8 130.0 942.1 138.0C944.5 146.0 946.7 154.0 948.4 162.0C950.1 170.0 952.0 178.0 952.3 186.0C952.6 194.0 950.6 202.0 950.1 210.0C949.7 218.0 950.1 226.0 949.4 234.0C948.8 242.0 946.5 254.0 946.0 258.0" fill="none" stroke="#122b88" stroke-width="0.9"/>
<path d="M1122.8 90.0C1123.4 94.0 1123.9 106.0 1126.5 114.0C1129.1 122.0 1134.1 130.0 1138.4 138.0C1142.8 146.0 1148.3 154.0 1152.8 162.0C1157.3 170.0 1161.2 178.0 1165.3 186.0C1169.3 194.0 1173.1 202.0 1177.1 210.0C1181.1 218.0 1185.3 226.0 1189.1 234.0C1193.0 242.0 1198.2 254.0 1200.0 258.0" fill="none" stroke="#122b88" stroke-width="0.9"/>
<path d="M865.0 163.5C876.3 161.3 910.2 154.0 932.9 150.2C955.5 146.3 978.1 143.7 1000.7 140.3C1023.3 137.0 1046.0 132.6 1068.6 130.3C1091.2 127.9 1113.8 127.0 1136.4 126.2C1159.0 125.5 1181.7 127.2 1204.3 125.9C1226.9 124.6 1249.5 119.8 1272.1 118.5C1294.8 117.1 1328.7 118.0 1340.0 117.9" fill="none" stroke="#122b88" stroke-width="0.9"/>
<path d="M1306.5 90.0C1305.2 94.0 1301.6 106.0 1299.0 114.0C1296.4 122.0 1293.7 130.0 1291.1 138.0C1288.5 146.0 1284.9 154.0 1283.3 162.0C1281.7 170.0 1281.4 178.0 1281.4 186.0C1281.4 194.0 1282.8 202.0 1283.3 210.0C1283.8 218.0 1284.9 226.0 1284.4 234.0C1283.9 242.0 1281.1 254.0 1280.4 258.0" fill="none" stroke="#122b88" stroke-width="0.9"/>
<path d="M1232.8 90.0C1231.9 94.0 1229.5 106.0 1227.3 114.0C1225.2 122.0 1222.5 130.0 1220.0 138.0C1217.5 146.0 1215.5 154.0 1212.3 162.0C1209.1 170.0 1205.3 178.0 1200.7 186.0C1196.2 194.0 1188.8 202.0 1185.0 210.0C1181.2 218.0 1181.3 226.0 1177.8 234.0C1174.3 242.0 1166.5 254.0 1164.2 258.0" fill="none" stroke="#122b88" stroke-width="0.9"/>
<path d="M1317.6 90.0C1318.2 94.0 1320.4 106.0 1321.1 114.0C1321.7 122.0 1322.6 130.0 1321.4 138.0C1320.2 146.0 1316.5 154.0 1313.9 162.0C1311.4 170.0 1308.5 178.0 1305.9 186.0C1303.3 194.0 1299.0 202.0 1298.2 210.0C1297.4 218.0 1300.3 226.0 1301.0 234.0C1301.8 242.0 1302.3 254.0 1302.5 258.0" fill="none" stroke="#122b88" stroke-width="0.9"/>
<path d="M865.0 250.1C876.3 253.5 910.2 263.2 932.9 270.4C955.5 277.6 978.1 286.7 1000.7 293.4C1023.3 300.1 1046.0 305.1 1068.6 310.5C1091.2 316.0 1113.8 318.7 1136.4 326.1C1159.0 333.5 1181.7 346.1 1204.3 355.0C1226.9 363.9 1249.5 371.6 1272.1 379.4C1294.8 387.3 1328.7 398.4 1340.0 402.1" fill="none" stroke="#122b88" stroke-width="0.9"/>
<path d="M1086.4 90.0C1087.4 94.0 1090.3 106.0 1092.4 114.0C1094.5 122.0 1096.7 130.0 1099.0 138.0C1101.3 146.0 1103.9 154.0 1106.1 162.0C1108.4 170.0 1109.6 178.0 1112.6 186.0C1115.5 194.0 1120.9 202.0 1123.9 210.0C1126.9 218.0 1128.0 226.0 1130.6 234.0C1133.2 242.0 1138.0 254.0 1139.5 258.0" fill="none" stroke="#122b88" stroke-width="0.9"/>
<path d="M865.0 231.4C876.3 230.5 910.2 226.9 932.9 225.8C955.5 224.6 978.1 226.1 1000.7 224.6C1023.3 223.1 1046.0 218.2 1068.6 216.7C1091.2 215.2 1113.8 217.1 1136.4 215.8C1159.0 214.5 1181.7 211.2 1204.3 209.0C1226.9 206.8 1249.5 204.8 1272.1 202.6C1294.8 200.5 1328.7 197.2 1340.0 196.2" fill="none" stroke="#122b88" stroke-width="0.9"/>
<path d="M865.0 142.9C876.3 141.1 910.2 137.3 932.9 132.3C955.5 127.3 978.1 118.7 1000.7 113.0C1023.3 107.3 1046.0 102.3 1068.6 97.9C1091.2 93.4 1113.8 90.6 1136.4 86.3C1159.0 82.0 1181.7 77.5 1204.3 72.4C1226.9 67.2 1249.5 60.5 1272.1 55.2C1294.8 49.9 1328.7 43.1 1340.0 40.7" fill="none" stroke="#122b88" stroke-width="0.9"/>
<path d="M1224.9 90.0C1222.5 94.0 1215.3 106.0 1210.7 114.0C1206.0 122.0 1200.3 130.0 1196.9 138.0C1193.4 146.0 1192.9 154.0 1190.0 162.0C1187.1 170.0 1182.9 178.0 1179.5 186.0C1176.1 194.0 1172.5 202.0 1169.7 210.0C1166.9 218.0 1164.6 226.0 1162.6 234.0C1160.6 242.0 1158.6 254.0 1157.7 258.0" fill="none" stroke="#122b88" stroke-width="0.9"/>
<path d="M865.0 192.2C876.3 192.7 910.2 194.7 932.9 195.2C955.5 195.6 978.1 194.7 1000.7 194.8C1023.3 194.8 1046.0 195.4 1068.6 195.5C1091.2 195.6 1113.8 194.4 1136.4 195.4C1159.0 196.5 1181.7 200.3 1204.3 201.9C1226.9 203.5 1249.5 203.5 1272.1 204.9C1294.8 206.3 1328.7 209.5 1340.0 210.4" fill="none" stroke="#122b88" stroke-width="0.9"/>
<path d="M998.5 90.0C999.6 94.0 1004.4 106.0 1004.9 114.0C1005.4 122.0 1002.6 130.0 1001.4 138.0C1000.2 146.0 998.2 154.0 997.7 162.0C997.3 170.0 999.1 178.0 998.5 186.0C998.0 194.0 995.2 202.0 994.2 210.0C993.1 218.0 993.2 226.0 992.2 234.0C991.1 242.0 988.5 254.0 987.8 258.0" fill="none" stroke="#122b88" stroke-width="0.9"/>
<path d="M1240.4 90.0C1242.7 94.0 1249.8 106.0 1254.2 114.0C1258.7 122.0 1264.1 130.0 1267.2 138.0C1270.3 146.0 1269.3 154.0 1273.0 162.0C1276.6 170.0 1283.5 178.0 1289.1 186.0C1294.7 194.0 1302.4 202.0 1306.4 210.0C1310.4 218.0 1309.2 226.0 1313.2 234.0C1317.2 242.0 1327.5 254.0 1330.3 258.0" fill="none" stroke="#122b88" stroke-width="0.9"/>
<path d="M865.0 199.4C876.3 202.4 910.2 210.8 932.9 217.5C955.5 224.1 978.1 231.8 1000.7 239.3C1023.3 246.7 1046.0 255.0 1068.6 262.3C1091.2 269.5 1113.8 276.3 1136.4 282.8C1159.0 289.3 1181.7 294.9 1204.3 301.3C1226.9 307.8 1249.5 313.9 1272.1 321.6C1294.8 329.3 1328.7 343.1 1340.0 347.5" fill="none" stroke="#122b88" stroke-width="0.9"/>
<path d="M865.0 173.0C876.3 172.2 910.2 168.9 932.9 167.9C955.5 166.9 978.1 167.5 1000.7 166.9C1023.3 166.3 1046.0 166.2 1068.6 164.3C1091.2 162.4 1113.8 156.2 1136.4 155.4C1159.0 154.6 1181.7 158.5 1204.3 159.4C1226.9 160.3 1249.5 159.8 1272.1 160.7C1294.8 161.5 1328.7 163.9 1340.0 164.5" fill="none" stroke="#122b88" stroke-width="0.9"/>
<path d="M865.0 119.5C876.3 115.4 910.2 103.4 932.9 94.8C955.5 86.3 978.1 76.4 1000.7 68.2C1023.3 60.1 1046.0 52.1 1068.6 45.7C1091.2 39.4 1113.8 35.5 1136.4 30.1C1159.0 24.7 1181.7 20.1 1204.3 13.1C1226.9 6.2 1249.5 -3.1 1272.1 -11.6C1294.8 -20.2 1328.7 -33.6 1340.0 -38.0" fill="none" stroke="#122b88" stroke-width="0.9"/>
<path d="M1135.0 90.0C1134.9 94.0 1133.0 106.0 1134.2 114.0C1135.5 122.0 1140.2 130.0 1142.3 138.0C1144.4 146.0 1146.1 154.0 1146.7 162.0C1147.3 170.0 1144.3 178.0 1146.1 186.0C1148.0 194.0 1154.5 202.0 1157.7 210.0C1160.8 218.0 1162.2 226.0 1165.0 234.0C1167.8 242.0 1173.0 254.0 1174.7 258.0" fill="none" stroke="#122b88" stroke-width="0.9"/>
<path d="M865.0 215.2C876.3 211.7 910.2 201.6 932.9 194.4C955.5 187.2 978.1 179.0 1000.7 172.0C1023.3 165.0 1046.0 158.2 1068.6 152.6C1091.2 147.0 1113.8 144.7 1136.4 138.4C1159.0 132.2 1181.7 123.1 1204.3 115.0C1226.9 106.9 1249.5 97.2 1272.1 89.7C1294.8 82.2 1328.7 73.2 1340.0 69.9" fill="none" stroke="#122b88" stroke-width="0.9"/>
<path d="M865.0 90.3C876.3 86.9 910.2 76.7 932.9 70.3C955.5 64.0 978.1 58.1 1000.7 52.0C1023.3 45.8 1046.0 38.6 1068.6 33.5C1091.2 28.4 1113.8 26.5 1136.4 21.4C1159.0 16.2 1181.7 8.4 1204.3 2.7C1226.9 -3.0 1249.5 -7.0 1272.1 -13.0C1294.8 -19.0 1328.7 -29.9 1340.0 -33.3" fill="none" stroke="#122b88" stroke-width="0.9"/>
<path d="M1345 95L1353 253" stroke="#0f277c" stroke-width="0.9"/>
<path d="M1364 95L1372 253" stroke="#0f277c" stroke-width="0.9"/>
<path d="M1383 95L1391 253" stroke="#0f277c" stroke-width="0.9"/>
<path d="M1402 95L1410 253" stroke="#0f277c" stroke-width="0.9"/>
<path d="M1421 95L1429 253" stroke="#0f277c" stroke-width="0.9"/>
<path d="M1440 95L1448 253" stroke="#0f277c" stroke-width="0.9"/>
<path d="M1459 95L1467 253" stroke="#0f277c" stroke-width="0.9"/>
<path d="M1478 95L1486 253" stroke="#0f277c" stroke-width="0.9"/>
<path d="M1497 95L1505 253" stroke="#0f277c" stroke-width="0.9"/>
<path d="M1516 95L1524 253" stroke="#0f277c" stroke-width="0.9"/>
<path d="M1535 95L1543 253" stroke="#0f277c" stroke-width="0.9"/>
<path d="M1554 95L1562 253" stroke="#0f277c" stroke-width="0.9"/>
<path d="M1335 100L1562 94" stroke="#0f277c" stroke-width="0.9"/>
<path d="M1335 118L1562 112" stroke="#0f277c" stroke-width="0.9"/>
<path d="M1335 136L1562 130" stroke="#0f277c" stroke-width="0.9"/>
<path d="M1335 154L1562 148" stroke="#0f277c" stroke-width="0.9"/>
<path d="M1335 172L1562 166" stroke="#0f277c" stroke-width="0.9"/>
<path d="M1335 190L1562 184" stroke="#0f277c" stroke-width="0.9"/>
<path d="M1335 208L1562 202" stroke="#0f277c" stroke-width="0.9"/>
<path d="M1335 226L1562 220" stroke="#0f277c" stroke-width="0.9"/>
<path d="M1335 244L1562 238" stroke="#0f277c" stroke-width="0.9"/>
<path d="M1420 95L1426 253" stroke="#081445" stroke-width="1.4"/>
<path d="M1505 95L1511 253" stroke="#081445" stroke-width="1.4"/>
<polygon points="1199.1,95.5 1184.0,117.5 1173.0,134.0 1171.6,139.5 1186.8,143.6 1189.5,153.3 1203.3,169.8 1192.3,183.5 1164.8,190.4 1167.5,205.5 1175.8,219.3 1181.3,233.0 1185.4,244.0 1186.8,252.8 1320.1,252.8 1321.5,244.0 1327.0,219.3 1336.6,205.5 1338.0,180.8 1336.6,153.3 1329.8,134.0 1316.0,112.0 1302.3,95.5" fill="#fff" fill-opacity="0.105" stroke="#aab3d8" stroke-opacity="0.7" stroke-width="0.7" filter="url(#jag)"/>
<polygon points="1218.4,140.9 1236.3,131.3 1261.0,127.1 1269.3,136.8 1265.1,143.6 1280.3,156.0 1291.3,178.0 1294.0,200.0 1272.0,213.8 1233.5,219.3 1219.8,213.8 1201.9,180.8 1212.9,156.0" fill="#fff" fill-opacity="0.11" stroke="#b5bde0" stroke-opacity="0.8" stroke-width="0.7" filter="url(#jag)"/>
</g>
<path d="M870.5 253.3H1562.3V95" fill="none" stroke="#8f9bd0" stroke-width="0.9"/>
<rect x="1002.4" y="102.8" width="86.6" height="19.8" fill="#fff" fill-opacity="0.18"/>
<text x="1045.70" y="111.53" font-size="6.2" fill="#fff" text-anchor="middle">Walk &gt;30 mins</text>
<text x="1045.70" y="118.83" font-size="6.2" fill="#fff" text-anchor="middle">(take the subway)</text>
<rect x="1248.6" y="107" width="50.4" height="11.9" fill="#fff" fill-opacity="0.18"/>
<text x="1273.80" y="115.38" font-size="6.6" fill="#fff" text-anchor="middle">30 mins walk</text>
<rect x="1216.5" y="147.8" width="55.0" height="11.5" fill="#fff" fill-opacity="0.18"/>
<text x="1244.00" y="155.83" font-size="6.2" fill="#fff" text-anchor="middle">15 mins walk</text>
<circle cx="970.8" cy="105.8" r="2.3" fill="#fff"/>
<text x="970.80" y="115.20" font-size="6.1" fill="#fff" text-anchor="middle">Godzilla Head</text>
<circle cx="1055.7" cy="141.3" r="2.3" fill="#fff"/>
<text x="1055.70" y="150.80" font-size="6.1" fill="#fff" text-anchor="middle">Shinjuku-Dori Avenue</text>
<circle cx="1005.0" cy="156.4" r="2.3" fill="#fff"/>
<text x="1005.00" y="165.90" font-size="6.1" fill="#fff" text-anchor="middle">Shinjuku Gyoen National Garden</text>
<circle cx="960.2" cy="201.9" r="2.3" fill="#fff"/>
<text x="960.20" y="211.40" font-size="6.1" fill="#fff" text-anchor="middle">Meiji Jingu</text>
<circle cx="942.0" cy="234.0" r="2.3" fill="#fff"/>
<text x="942.00" y="243.50" font-size="6.1" fill="#fff" text-anchor="middle">Yoyogi Park</text>
<circle cx="1183.6" cy="156.4" r="2.3" fill="#fff"/>
<text x="1183.60" y="165.90" font-size="6.1" fill="#fff" text-anchor="middle">Imperial Palace</text>
<circle cx="1229.4" cy="177.5" r="2.3" fill="#fff"/>
<text x="1243.00" y="186.20" font-size="6.1" fill="#fff" text-anchor="middle">Tokyo Station</text>
<circle cx="1242.9" cy="176.6" r="2.3" fill="#fff"/>
<circle cx="1227.5" cy="191.0" r="2.3" fill="#fff"/>
<text x="1227.50" y="200.20" font-size="6.1" fill="#fff" text-anchor="middle">Mitsubishi Ichigokan Museum</text>
<circle cx="1252.0" cy="253.2" r="2.3" fill="#fff"/>
<text x="1252.00" y="251.20" font-size="6.1" fill="#fff" text-anchor="middle">Tsukiji Outer Market</text>
<rect x="872.9" y="245.4" width="83.3" height="6.3" fill="#eef0f6"/>
<text x="874.50" y="250.40" font-size="5" fill="#555" textLength="80.00" lengthAdjust="spacingAndGlyphs">© 2024 Mapbox © OpenStreetMap</text>
<text x="1359.50" y="143.60" font-size="7.6" fill="#fff" font-weight="bold" textLength="174.30" lengthAdjust="spacingAndGlyphs">Recommendation: Take the subway in Tokyo</text>
<text x="1359.50" y="162.10" font-size="6" fill="#fff" textLength="188.10" lengthAdjust="spacingAndGlyphs">From Tokyo Station, a 15-30 mins walk can bring you to Tsukiji</text>
<text x="1359.50" y="171.90" font-size="6" fill="#fff" textLength="185.50" lengthAdjust="spacingAndGlyphs">Outer Market, Mitsubishi Ichigokan Museum and the Imperial</text>
<text x="1359.50" y="180.90" font-size="6" fill="#fff" textLength="22.00" lengthAdjust="spacingAndGlyphs">Palace.</text>
<text x="1359.50" y="198.80" font-size="6" fill="#fff" textLength="185.00" lengthAdjust="spacingAndGlyphs">Take the subway when visiting places like Akihabara (3 mins</text>
<text x="1359.50" y="208.40" font-size="6" fill="#fff" textLength="92.50" lengthAdjust="spacingAndGlyphs">ride) &amp; Shinjuku (13 mins ride).</text>
<g clip-path="url(#clipS)">
<rect x="870.5" y="264" width="691.5" height="168" fill="url(#sapG)"/>
<rect x="870.5" y="264" width="691.5" height="168" fill="url(#gridB)" opacity="0.8"/>
<polygon points="1072.0,264.0 1123.0,264.0 1120.0,294.0 1099.0,300.0 1081.0,288.0" fill="#091648" opacity="0.9"/>
<polygon points="979.0,381.0 1021.0,375.0 1045.0,396.0 1033.0,432.0 964.0,432.0" fill="#091648" opacity="0.9"/>
<path d="M871.0 279.0C885.0 287.5 923.5 310.5 955.0 330.0C986.5 349.5 1033.5 379.0 1060.0 396.0C1086.5 413.0 1105.0 426.0 1114.0 432.0" fill="none" stroke="#0f277c" stroke-width="1.1"/>
<path d="M871.0 354.0C880.0 359.5 905.0 374.0 925.0 387.0C945.0 400.0 980.0 424.5 991.0 432.0" fill="none" stroke="#0f277c" stroke-width="1.1"/>
<path d="M925.0 264.0C936.0 270.5 961.0 284.5 991.0 303.0C1021.0 321.5 1071.0 353.5 1105.0 375.0C1139.0 396.5 1180.0 422.5 1195.0 432.0" fill="none" stroke="#0f277c" stroke-width="1.1"/>
<path d="M871.0 396.0C882.5 387.5 916.0 362.5 940.0 345.0C964.0 327.5 995.5 304.5 1015.0 291.0C1034.5 277.5 1050.0 268.5 1057.0 264.0" fill="none" stroke="#0f277c" stroke-width="1.1"/>
<path d="M955.0 432.0C966.0 423.5 996.0 400.5 1021.0 381.0C1046.0 361.5 1080.5 334.5 1105.0 315.0C1129.5 295.5 1157.5 272.5 1168.0 264.0" fill="none" stroke="#0f277c" stroke-width="1.1"/>
<path d="M1060.0 432.0C1070.5 423.5 1098.0 400.5 1123.0 381.0C1148.0 361.5 1184.0 334.5 1210.0 315.0C1236.0 295.5 1267.5 272.5 1279.0 264.0" fill="none" stroke="#0f277c" stroke-width="1.1"/>
<path d="M1123.0 264.0C1125.0 272.5 1130.0 296.5 1135.0 315.0C1140.0 333.5 1148.0 355.5 1153.0 375.0C1158.0 394.5 1163.0 422.5 1165.0 432.0" fill="none" stroke="#0f277c" stroke-width="1.1"/>
<path d="M1210.0 264.0C1210.5 277.5 1210.5 317.0 1213.0 345.0C1215.5 373.0 1223.0 417.5 1225.0 432.0" fill="none" stroke="#0f277c" stroke-width="1.1"/>
<path d="M1345.0 300.0C1337.5 305.5 1320.0 321.5 1300.0 333.0C1280.0 344.5 1252.5 356.0 1225.0 369.0C1197.5 382.0 1156.0 400.5 1135.0 411.0C1114.0 421.5 1105.0 428.5 1099.0 432.0" fill="none" stroke="#0f277c" stroke-width="1.1"/>
<path d="M1264.0 264.0C1272.5 272.5 1296.5 300.5 1315.0 315.0C1333.5 329.5 1365.1 345.0 1375.1 351.0" fill="none" stroke="#0f277c" stroke-width="1.1"/>
<path d="M1240.0 432.0C1252.5 424.0 1287.5 397.0 1315.0 384.0C1342.5 371.0 1390.1 359.0 1405.1 354.0" fill="none" stroke="#0f277c" stroke-width="1.1"/>
<path d="M1375.1 264.0C1378.1 277.5 1383.1 317.0 1393.1 345.0C1403.1 373.0 1428.1 417.5 1435.1 432.0" fill="none" stroke="#0f277c" stroke-width="1.1"/>
<path d="M1435.1 264.0 L1444.1 432.0" fill="none" stroke="#0f277c" stroke-width="1.1"/>
<path d="M1285.0 432.0C1300.0 426.5 1341.0 413.5 1375.1 399.0C1409.1 384.5 1470.1 354.0 1489.1 345.0" fill="none" stroke="#0f277c" stroke-width="1.1"/>
<path d="M1315.0 264.0C1318.0 271.5 1318.0 299.5 1333.0 309.0C1348.0 318.5 1379.1 322.5 1405.1 321.0C1431.1 319.5 1475.1 303.5 1489.1 300.0" fill="none" stroke="#0f277c" stroke-width="1.1"/>
<path d="M865.0 387.1C881.7 392.0 931.9 406.5 965.3 416.5C998.7 426.4 1032.1 437.3 1065.6 446.7C1099.0 456.1 1132.4 463.6 1165.9 472.9C1199.3 482.2 1232.7 492.4 1266.1 502.4C1299.6 512.4 1333.0 522.6 1366.4 533.0C1399.9 543.5 1433.3 555.7 1466.7 565.3C1500.1 574.9 1550.3 586.4 1567.0 590.6" fill="none" stroke="#0e2472" stroke-width="0.7"/>
<path d="M865.0 302.6C881.7 305.4 931.9 312.3 965.3 319.4C998.7 326.6 1032.1 337.0 1065.6 345.7C1099.0 354.4 1132.4 363.6 1165.9 371.8C1199.3 379.9 1232.7 387.1 1266.1 394.7C1299.6 402.3 1333.0 410.6 1366.4 417.3C1399.9 424.1 1433.3 429.6 1466.7 435.3C1500.1 441.1 1550.3 449.1 1567.0 451.9" fill="none" stroke="#0e2472" stroke-width="0.7"/>
<path d="M899.7 259.0C897.4 263.2 889.9 276.0 886.1 284.4C882.3 292.9 879.9 301.4 876.8 309.9C873.7 318.3 869.8 326.8 867.3 335.3C864.8 343.8 864.2 352.2 861.8 360.7C859.4 369.2 855.8 377.7 853.1 386.1C850.3 394.6 848.3 403.1 845.5 411.6C842.8 420.0 838.1 432.8 836.6 437.0" fill="none" stroke="#0e2472" stroke-width="0.7"/>
<path d="M1185.1 259.0C1184.8 263.2 1184.4 276.0 1183.6 284.4C1182.9 292.9 1181.9 301.4 1180.6 309.9C1179.4 318.3 1178.4 326.8 1176.3 335.3C1174.2 343.8 1171.0 352.2 1168.1 360.7C1165.2 369.2 1161.9 377.7 1159.0 386.1C1156.1 394.6 1153.7 403.1 1150.5 411.6C1147.3 420.0 1141.6 432.8 1139.8 437.0" fill="none" stroke="#0e2472" stroke-width="0.7"/>
<path d="M1155.9 259.0C1158.4 263.2 1165.8 276.0 1170.5 284.4C1175.2 292.9 1180.9 301.4 1183.9 309.9C1187.0 318.3 1186.9 326.8 1188.9 335.3C1190.9 343.8 1192.5 352.2 1196.0 360.7C1199.5 369.2 1206.1 377.7 1210.1 386.1C1214.1 394.6 1215.7 403.1 1219.8 411.6C1223.8 420.0 1232.1 432.8 1234.6 437.0" fill="none" stroke="#0e2472" stroke-width="0.7"/>
<path d="M865.0 288.0C881.7 289.1 931.9 292.8 965.3 294.7C998.7 296.6 1032.1 297.5 1065.6 299.5C1099.0 301.5 1132.4 303.3 1165.9 306.8C1199.3 310.3 1232.7 316.2 1266.1 320.4C1299.6 324.6 1333.0 329.1 1366.4 331.9C1399.9 334.7 1433.3 335.1 1466.7 337.1C1500.1 339.0 1550.3 342.4 1567.0 343.5" fill="none" stroke="#0e2472" stroke-width="0.7"/>
<path d="M865.0 291.4C881.7 294.9 931.9 305.7 965.3 312.5C998.7 319.4 1032.1 326.3 1065.6 332.6C1099.0 338.8 1132.4 343.3 1165.9 350.0C1199.3 356.8 1232.7 366.3 1266.1 372.9C1299.6 379.5 1333.0 383.3 1366.4 389.8C1399.9 396.2 1433.3 405.3 1466.7 411.8C1500.1 418.2 1550.3 425.7 1567.0 428.5" fill="none" stroke="#0e2472" stroke-width="0.7"/>
<path d="M865.0 288.5C881.7 286.4 931.9 280.8 965.3 275.6C998.7 270.5 1032.1 262.8 1065.6 257.8C1099.0 252.8 1132.4 250.8 1165.9 245.7C1199.3 240.5 1232.7 232.8 1266.1 226.9C1299.6 220.9 1333.0 214.8 1366.4 209.9C1399.9 205.0 1433.3 202.0 1466.7 197.5C1500.1 193.0 1550.3 185.4 1567.0 183.0" fill="none" stroke="#0e2472" stroke-width="0.7"/>
<path d="M865.0 407.9C881.7 405.1 931.9 397.3 965.3 390.8C998.7 384.4 1032.1 376.5 1065.6 369.3C1099.0 362.0 1132.4 355.1 1165.9 347.4C1199.3 339.7 1232.7 331.3 1266.1 323.3C1299.6 315.3 1333.0 306.5 1366.4 299.3C1399.9 292.2 1433.3 287.2 1466.7 280.3C1500.1 273.4 1550.3 261.6 1567.0 257.9" fill="none" stroke="#0e2472" stroke-width="0.7"/>
<path d="M1130.5 259.0C1130.2 263.2 1129.3 276.0 1129.0 284.4C1128.6 292.9 1128.1 301.4 1128.4 309.9C1128.6 318.3 1131.0 326.8 1130.7 335.3C1130.3 343.8 1127.7 352.2 1126.1 360.7C1124.6 369.2 1121.7 377.7 1121.3 386.1C1121.0 394.6 1123.3 403.1 1124.1 411.6C1124.8 420.0 1125.6 432.8 1125.9 437.0" fill="none" stroke="#0e2472" stroke-width="0.7"/>
<path d="M865.0 316.9C881.7 319.1 931.9 324.6 965.3 330.4C998.7 336.2 1032.1 344.6 1065.6 351.5C1099.0 358.4 1132.4 365.5 1165.9 371.9C1199.3 378.2 1232.7 383.9 1266.1 389.5C1299.6 395.0 1333.0 400.5 1366.4 405.2C1399.9 410.0 1433.3 413.8 1466.7 417.8C1500.1 421.9 1550.3 427.8 1567.0 429.8" fill="none" stroke="#0e2472" stroke-width="0.7"/>
<path d="M1038.4 259.0C1040.0 263.2 1044.9 276.0 1047.6 284.4C1050.2 292.9 1052.6 301.4 1054.4 309.9C1056.2 318.3 1057.2 326.8 1058.3 335.3C1059.3 343.8 1059.1 352.2 1060.9 360.7C1062.7 369.2 1067.4 377.7 1069.0 386.1C1070.6 394.6 1069.8 403.1 1070.6 411.6C1071.4 420.0 1073.2 432.8 1073.7 437.0" fill="none" stroke="#0e2472" stroke-width="0.7"/>
<path d="M1461.0 259.0C1462.2 263.2 1467.1 276.0 1468.4 284.4C1469.7 292.9 1469.0 301.4 1468.8 309.9C1468.6 318.3 1467.3 326.8 1467.2 335.3C1467.1 343.8 1467.6 352.2 1468.2 360.7C1468.8 369.2 1470.7 377.7 1470.9 386.1C1471.2 394.6 1470.0 403.1 1469.8 411.6C1469.7 420.0 1469.9 432.8 1469.9 437.0" fill="none" stroke="#0e2472" stroke-width="0.7"/>
<path d="M865.0 333.3C881.7 329.7 931.9 318.7 965.3 311.7C998.7 304.6 1032.1 298.4 1065.6 291.0C1099.0 283.5 1132.4 275.0 1165.9 267.1C1199.3 259.1 1232.7 251.5 1266.1 243.5C1299.6 235.4 1333.0 227.8 1366.4 218.8C1399.9 209.9 1433.3 199.6 1466.7 189.7C1500.1 179.9 1550.3 164.6 1567.0 159.6" fill="none" stroke="#0e2472" stroke-width="0.7"/>
<path d="M865.0 435.5C881.7 437.0 931.9 440.5 965.3 444.6C998.7 448.6 1032.1 455.0 1065.6 459.8C1099.0 464.7 1132.4 468.6 1165.9 473.6C1199.3 478.6 1232.7 485.1 1266.1 489.8C1299.6 494.5 1333.0 496.7 1366.4 501.9C1399.9 507.0 1433.3 516.0 1466.7 520.8C1500.1 525.5 1550.3 528.8 1567.0 530.4" fill="none" stroke="#0e2472" stroke-width="0.7"/>
<path d="M1393.9 259.0C1396.2 263.2 1402.8 276.0 1407.5 284.4C1412.1 292.9 1416.9 301.4 1421.9 309.9C1426.9 318.3 1433.3 326.8 1437.6 335.3C1441.9 343.8 1443.7 352.2 1447.6 360.7C1451.5 369.2 1456.2 377.7 1461.0 386.1C1465.8 394.6 1471.4 403.1 1476.6 411.6C1481.7 420.0 1489.3 432.8 1491.8 437.0" fill="none" stroke="#0e2472" stroke-width="0.7"/>
<path d="M865.0 422.7C881.7 427.1 931.9 440.7 965.3 449.1C998.7 457.5 1032.1 464.7 1065.6 473.1C1099.0 481.4 1132.4 490.3 1165.9 499.0C1199.3 507.7 1232.7 517.4 1266.1 525.3C1299.6 533.2 1333.0 538.3 1366.4 546.2C1399.9 554.2 1433.3 563.3 1466.7 572.8C1500.1 582.2 1550.3 597.9 1567.0 602.9" fill="none" stroke="#0e2472" stroke-width="0.7"/>
<path d="M1373.1 259.0C1372.7 263.2 1371.7 276.0 1370.7 284.4C1369.6 292.9 1367.5 301.4 1366.8 309.9C1366.2 318.3 1368.2 326.8 1367.0 335.3C1365.8 343.8 1361.0 352.2 1359.6 360.7C1358.3 369.2 1360.4 377.7 1358.9 386.1C1357.5 394.6 1352.7 403.1 1351.0 411.6C1349.3 420.0 1349.2 432.8 1348.8 437.0" fill="none" stroke="#0e2472" stroke-width="0.7"/>
<path d="M865.0 316.4C881.7 318.9 931.9 325.8 965.3 331.2C998.7 336.7 1032.1 344.3 1065.6 349.2C1099.0 354.0 1132.4 357.1 1165.9 360.5C1199.3 363.8 1232.7 365.9 1266.1 369.3C1299.6 372.7 1333.0 376.5 1366.4 381.0C1399.9 385.6 1433.3 392.2 1466.7 396.5C1500.1 400.9 1550.3 405.5 1567.0 407.3" fill="none" stroke="#0e2472" stroke-width="0.7"/>
<path d="M865.0 426.7C881.7 429.1 931.9 437.6 965.3 441.6C998.7 445.7 1032.1 447.3 1065.6 451.0C1099.0 454.7 1132.4 460.2 1165.9 463.7C1199.3 467.2 1232.7 468.7 1266.1 471.8C1299.6 474.8 1333.0 478.1 1366.4 482.1C1399.9 486.2 1433.3 491.4 1466.7 496.3C1500.1 501.2 1550.3 509.0 1567.0 511.5" fill="none" stroke="#0e2472" stroke-width="0.7"/>
<path d="M1136.6 259.0C1136.4 263.2 1135.1 276.0 1135.3 284.4C1135.5 292.9 1136.3 301.4 1137.7 309.9C1139.0 318.3 1141.5 326.8 1143.5 335.3C1145.4 343.8 1147.6 352.2 1149.3 360.7C1151.1 369.2 1151.9 377.7 1153.8 386.1C1155.7 394.6 1159.6 403.1 1160.7 411.6C1161.9 420.0 1160.9 432.8 1160.9 437.0" fill="none" stroke="#0e2472" stroke-width="0.7"/>
<path d="M865.0 321.3C881.7 318.6 931.9 310.0 965.3 304.9C998.7 299.8 1032.1 295.6 1065.6 290.6C1099.0 285.6 1132.4 280.5 1165.9 275.0C1199.3 269.4 1232.7 262.5 1266.1 257.5C1299.6 252.6 1333.0 249.2 1366.4 245.4C1399.9 241.6 1433.3 239.1 1466.7 234.6C1500.1 230.2 1550.3 221.3 1567.0 218.6" fill="none" stroke="#0e2472" stroke-width="0.7"/>
<path d="M865.0 290.5C881.7 295.2 931.9 309.3 965.3 318.4C998.7 327.5 1032.1 336.5 1065.6 344.9C1099.0 353.3 1132.4 360.0 1165.9 368.8C1199.3 377.6 1232.7 389.2 1266.1 397.5C1299.6 405.8 1333.0 411.3 1366.4 418.5C1399.9 425.7 1433.3 432.7 1466.7 440.7C1500.1 448.6 1550.3 461.8 1567.0 466.0" fill="none" stroke="#0e2472" stroke-width="0.7"/>
<path d="M865.0 381.6C881.7 377.8 931.9 365.5 965.3 358.9C998.7 352.3 1032.1 348.0 1065.6 342.0C1099.0 336.1 1132.4 329.3 1165.9 323.3C1199.3 317.4 1232.7 312.0 1266.1 306.5C1299.6 300.9 1333.0 295.1 1366.4 289.8C1399.9 284.6 1433.3 279.5 1466.7 274.7C1500.1 270.0 1550.3 263.4 1567.0 261.2" fill="none" stroke="#0e2472" stroke-width="0.7"/>
<path d="M1004.0 259.0C1003.1 263.2 999.5 276.0 998.4 284.4C997.3 292.9 997.3 301.4 997.4 309.9C997.5 318.3 999.3 326.8 998.8 335.3C998.4 343.8 996.1 352.2 994.9 360.7C993.8 369.2 992.8 377.7 991.9 386.1C991.0 394.6 989.8 403.1 989.7 411.6C989.5 420.0 990.7 432.8 990.9 437.0" fill="none" stroke="#0e2472" stroke-width="0.7"/>
<path d="M1301.5 259.0C1303.2 263.2 1308.2 276.0 1311.8 284.4C1315.4 292.9 1320.8 301.4 1323.3 309.9C1325.7 318.3 1324.0 326.8 1326.5 335.3C1329.0 343.8 1334.7 352.2 1338.2 360.7C1341.8 369.2 1345.6 377.7 1347.8 386.1C1350.0 394.6 1349.7 403.1 1351.5 411.6C1353.3 420.0 1357.2 432.8 1358.4 437.0" fill="none" stroke="#0e2472" stroke-width="0.7"/>
<path d="M871.0 315.0C877.5 314.0 901.0 313.5 910.0 309.0C919.0 304.5 917.5 293.0 925.0 288.0C932.5 283.0 947.0 283.0 955.0 279.0C963.0 275.0 970.0 266.5 973.0 264.0" fill="none" stroke="#071240" stroke-width="1.6"/>
<path d="M1264.0 264.0C1267.5 268.0 1276.5 282.0 1285.0 288.0C1293.5 294.0 1307.0 295.5 1315.0 300.0C1323.0 304.5 1328.0 313.0 1333.0 315.0C1338.0 317.0 1343.0 312.5 1345.0 312.0" fill="none" stroke="#071240" stroke-width="2.2"/>
<path d="M1345.0 312.0C1339.0 316.0 1322.5 330.0 1309.0 336.0C1295.5 342.0 1279.0 341.5 1264.0 348.0C1249.0 354.5 1228.0 361.0 1219.0 375.0C1210.0 389.0 1211.5 422.5 1210.0 432.0" fill="none" stroke="#081445" stroke-width="1.6"/>
<path d="M1347.0 264.7 L1502.5 432.0" fill="none" stroke="#122c8e" stroke-width="1"/>
<path d="M1450.7 264.7C1451.5 275.7 1446.8 302.7 1455.4 330.6C1464.0 358.5 1494.7 415.1 1502.5 432.0" fill="none" stroke="#122c8e" stroke-width="1"/>
<path d="M1300.0 351.8 L1417.7 432.0" fill="none" stroke="#122c8e" stroke-width="1"/>
<path d="M1399.0 264.7 L1300.0 337.7" fill="none" stroke="#122c8e" stroke-width="1"/>
<path d="M1366.0 432.0C1380.1 421.0 1418.2 382.9 1450.7 366.0C1483.2 349.1 1542.6 336.5 1561.0 330.6" fill="none" stroke="#122c8e" stroke-width="1"/>
<path d="M1488.0 384.8 L1561.0 406.0" fill="none" stroke="#122c8e" stroke-width="1"/>
<path d="M1520.0 264.0C1503.3 276.7 1451.7 312.0 1420.0 340.0C1388.3 368.0 1345.0 416.7 1330.0 432.0" fill="none" stroke="#122c8e" stroke-width="1"/>
<path d="M1562.0 290.0C1546.7 301.7 1497.0 336.3 1470.0 360.0C1443.0 383.7 1411.7 420.0 1400.0 432.0" fill="none" stroke="#122c8e" stroke-width="1"/>
<path d="M1496 264L1499 432" stroke="#091648" stroke-width="1.6"/>
<path d="M1538 264L1540 432" stroke="#0a184e" stroke-width="1"/>
<polygon points="1163.5,264.0 1147.0,291.0 1129.0,310.5 1115.5,339.0 1094.5,367.5 1114.0,396.0 1153.0,432.6 1291.0,432.6 1306.0,387.0 1315.0,354.0 1322.5,327.0 1306.0,324.0 1303.0,315.0 1279.0,318.0 1267.0,285.0 1261.0,264.0" fill="#fff" fill-opacity="0.105" stroke="#aab3d8" stroke-opacity="0.7" stroke-width="0.7" filter="url(#jag)"/>
<polygon points="1195.0,300.0 1213.0,312.0 1240.0,327.0 1265.5,348.0 1256.5,370.5 1229.5,396.0 1213.0,417.0 1183.0,399.0 1154.5,375.0 1168.0,345.0 1183.0,315.0" fill="#fff" fill-opacity="0.11" stroke="#b5bde0" stroke-opacity="0.8" stroke-width="0.7" filter="url(#jag)"/>
</g>
<path d="M870.5 432.3H1562.3V264" fill="none" stroke="#8f9bd0" stroke-width="0.9"/>
<rect x="1001" y="273.6" width="81.5" height="24.0" fill="#fff" fill-opacity="0.18"/>
<text x="1041.70" y="284.53" font-size="6.2" fill="#fff" text-anchor="middle">Walk &gt;30 mins</text>
<text x="1041.70" y="291.83" font-size="6.2" fill="#fff" text-anchor="middle">(take the subway)</text>
<rect x="1186" y="274" width="58.5" height="11.6" fill="#fff" fill-opacity="0.18"/>
<text x="1215.20" y="282.28" font-size="6.6" fill="#fff" text-anchor="middle">30 mins walk</text>
<rect x="1196" y="327" width="49.0" height="10.5" fill="#fff" fill-opacity="0.18"/>
<text x="1220.50" y="334.42" font-size="5.6" fill="#fff" text-anchor="middle">15 mins walk</text>
<circle cx="1181.5" cy="320.0" r="2.3" fill="#fff"/>
<text x="1181.50" y="315.20" font-size="6.1" fill="#fff" text-anchor="middle">Sapporo Station</text>
<circle cx="1149.7" cy="345.3" r="2.3" fill="#fff"/>
<text x="1150.00" y="340.20" font-size="6.1" fill="#fff" text-anchor="middle">Botanic Garden Hokkaido University</text>
<circle cx="1192.0" cy="352.8" r="2.3" fill="#fff"/>
<text x="1192.00" y="348.20" font-size="6.1" fill="#fff" text-anchor="middle">Sapporo Clock Tower</text>
<circle cx="1197.4" cy="361.2" r="2.3" fill="#fff"/>
<circle cx="1203.0" cy="360.3" r="2.3" fill="#fff"/>
<circle cx="1102.0" cy="364.8" r="2.3" fill="#fff"/>
<text x="1102.00" y="360.20" font-size="6.1" fill="#fff" text-anchor="middle">Hokkaido Museum of Modern Art</text>
<circle cx="1181.8" cy="381.6" r="2.3" fill="#fff"/>
<text x="1181.80" y="376.90" font-size="6.1" fill="#fff" text-anchor="middle">Tanukikoji Shopping Street</text>
<circle cx="1033.0" cy="388.8" r="2.3" fill="#fff"/>
<text x="1033.00" y="384.20" font-size="6.1" fill="#fff" text-anchor="middle">Maruyama Park</text>
<circle cx="1014.4" cy="396.6" r="2.3" fill="#fff"/>
<text x="1012.00" y="391.90" font-size="6.1" fill="#fff" text-anchor="middle">Hokkaido Jingu</text>
<circle cx="1014.4" cy="411.0" r="2.3" fill="#fff"/>
<text x="1014.40" y="406.20" font-size="6.1" fill="#fff" text-anchor="middle">Sapporo City Maruyama Zoo</text>
<rect x="872.5" y="424.8" width="83.1" height="6" fill="#eef0f6"/>
<text x="874.20" y="429.60" font-size="5" fill="#555" textLength="79.50" lengthAdjust="spacingAndGlyphs">© 2024 Mapbox © OpenStreetMap</text>
<text x="1362.00" y="313.70" font-size="7.6" fill="#fff" font-weight="bold" textLength="137.70" lengthAdjust="spacingAndGlyphs">Recommendation: Walk in Sapporo</text>
<text x="1362.00" y="332.30" font-size="6" fill="#fff" textLength="170.60" lengthAdjust="spacingAndGlyphs">From Sapporo Station, you would be able to reach most</text>
<text x="1362.00" y="341.70" font-size="6" fill="#fff" textLength="181.70" lengthAdjust="spacingAndGlyphs">popular tourist spots within a 15-30 mins walk. This includes</text>
<text x="1362.00" y="351.10" font-size="6" fill="#fff" textLength="118.00" lengthAdjust="spacingAndGlyphs">the popular Tanukikoji Shopping Street</text>
<text x="1362.00" y="369.20" font-size="6" fill="#fff" textLength="182.00" lengthAdjust="spacingAndGlyphs">Take the subway if you plan to take a half day trip to further</text>
<text x="1362.00" y="378.70" font-size="6" fill="#fff" textLength="172.80" lengthAdjust="spacingAndGlyphs">spots like the Maruyama Zoo, Hokkaido Shrine (Hokkaido</text>
<text x="1362.00" y="388.10" font-size="6" fill="#fff" textLength="84.00" lengthAdjust="spacingAndGlyphs">Jingu) and Maruyama Park</text>
<text x="1351.30" y="447.00" font-size="8" fill="#fff" font-style="italic" textLength="214.00" lengthAdjust="spacingAndGlyphs">* important to factor in hotel location / must visit spots in</text>
<text x="1351.30" y="456.60" font-size="8" fill="#fff" font-style="italic" textLength="138.20" lengthAdjust="spacingAndGlyphs">the itinerary / subway congestion levels</text></g>
<!-- gen_bl -->
<g><defs>
<filter id="paper" x="0" y="0" width="100%" height="100%" color-interpolation-filters="sRGB"><feTurbulence type="fractalNoise" baseFrequency="0.006 0.010" numOctaves="2" seed="8" result="n"/><feDiffuseLighting in="n" lighting-color="#eddfd7" surfaceScale="3.5" diffuseConstant="1.12" result="l"><feDistantLight azimuth="35" elevation="63"/></feDiffuseLighting></filter>
<linearGradient id="texG" x1="0" x2="1" y1="0" y2="0"><stop offset="0" stop-color="#fff" stop-opacity="0.35"/><stop offset="0.6" stop-color="#fff" stop-opacity="0.5"/><stop offset="0.88" stop-color="#fff" stop-opacity="1"/><stop offset="1" stop-color="#fff" stop-opacity="1"/></linearGradient>
<mask id="texM" maskUnits="userSpaceOnUse" x="0" y="473" width="835" height="427"><rect x="0" y="473" width="835" height="427" fill="url(#texG)"/></mask>
<clipPath id="clipBL"><rect x="0" y="473" width="835" height="427"/></clipPath>
</defs>
<rect x="0" y="473" width="835" height="427" fill="#e9dcd4"/>
<g clip-path="url(#clipBL)"><rect x="0" y="473" width="835" height="427" filter="url(#paper)" mask="url(#texM)"/></g>
<text x="15.00" y="497.30" font-size="21.5" fill="#333" font-weight="bold" textLength="801.00" lengthAdjust="spacingAndGlyphs">Population Growth of Black Americans in Georgia following the U.S. Civil War</text>
<path d="M176.8 507V900" stroke="#6f6862" stroke-width="0.7"/>
<path d="M396.3 507V900" stroke="#6f6862" stroke-width="0.7"/>
<path d="M615.9 507V900" stroke="#6f6862" stroke-width="0.7"/>
<path d="M3 724.3H170.8" stroke="#6f6862" stroke-width="0.7"/>
<circle cx="24.5" cy="530.8" r="8.6" fill="#2f2660" stroke="#77706b" stroke-width="0.55"/>
<text x="42.50" y="534.00" font-size="8.6" fill="#5a5a5a" textLength="120.00" lengthAdjust="spacingAndGlyphs">BETWEEN 20,000 AND 30,000</text>
<circle cx="24.5" cy="555.8" r="8.6" fill="#6e4732" stroke="#77706b" stroke-width="0.55"/>
<text x="42.50" y="559.00" font-size="8.6" fill="#5a5a5a" textLength="70.50" lengthAdjust="spacingAndGlyphs">15,000 TO 20,000</text>
<circle cx="24.5" cy="580.8" r="8.6" fill="#bf967b" stroke="#77706b" stroke-width="0.55"/>
<text x="42.50" y="584.00" font-size="8.6" fill="#5a5a5a" textLength="70.50" lengthAdjust="spacingAndGlyphs">10,000 TO 15,000</text>
<circle cx="24.5" cy="605.8" r="8.6" fill="#dc3051" stroke="#77706b" stroke-width="0.55"/>
<text x="42.50" y="609.00" font-size="8.6" fill="#5a5a5a" textLength="65.50" lengthAdjust="spacingAndGlyphs">5,000 TO 10,000</text>
<circle cx="24.5" cy="630.8" r="8.6" fill="#ea9a97" stroke="#77706b" stroke-width="0.55"/>
<text x="42.50" y="634.00" font-size="8.6" fill="#5a5a5a" textLength="60.50" lengthAdjust="spacingAndGlyphs">2,500 TO 5,000</text>
<circle cx="24.5" cy="655.8" r="8.6" fill="#efb850" stroke="#77706b" stroke-width="0.55"/>
<text x="42.50" y="659.00" font-size="8.6" fill="#5a5a5a" textLength="60.50" lengthAdjust="spacingAndGlyphs">1,000 TO 2,500</text>
<circle cx="24.5" cy="680.8" r="8.6" fill="#4b6153" stroke="#77706b" stroke-width="0.55"/>
<text x="42.50" y="684.00" font-size="8.6" fill="#5a5a5a" textLength="53.50" lengthAdjust="spacingAndGlyphs">UNDER 1,000</text>
<circle cx="24.5" cy="705.8" r="8.6" fill="#e2e2e2" stroke="#77706b" stroke-width="0.55"/>
<text x="42.50" y="709.00" font-size="8.6" fill="#5a5a5a" textLength="36.00" lengthAdjust="spacingAndGlyphs">NO DATA</text>
<circle cx="24.5" cy="743.3" r="8.6" fill="#3c1a74" stroke="#77706b" stroke-width="0.55"/>
<text x="42.50" y="746.50" font-size="8.6" fill="#5a5a5a" textLength="76.50" lengthAdjust="spacingAndGlyphs">INCREASED 5,000+</text>
<circle cx="24.5" cy="768.3" r="8.6" fill="#5f4698" stroke="#77706b" stroke-width="0.55"/>
<text x="42.50" y="771.50" font-size="8.6" fill="#5a5a5a" textLength="109.00" lengthAdjust="spacingAndGlyphs">INCREASED 4,000 TO 5,000</text>
<circle cx="24.5" cy="793.3" r="8.6" fill="#877fb8" stroke="#77706b" stroke-width="0.55"/>
<text x="42.50" y="796.50" font-size="8.6" fill="#5a5a5a" textLength="109.00" lengthAdjust="spacingAndGlyphs">INCREASED 3,000 TO 4,000</text>
<circle cx="24.5" cy="818.3" r="8.6" fill="#aaa3d0" stroke="#77706b" stroke-width="0.55"/>
<text x="42.50" y="821.50" font-size="8.6" fill="#5a5a5a" textLength="109.00" lengthAdjust="spacingAndGlyphs">INCREASED 2,000 TO 3,000</text>
<circle cx="24.5" cy="843.3" r="8.6" fill="#c7c5e1" stroke="#77706b" stroke-width="0.55"/>
<text x="42.50" y="846.50" font-size="8.6" fill="#5a5a5a" textLength="109.00" lengthAdjust="spacingAndGlyphs">INCREASED 1,000 TO 2,000</text>
<circle cx="24.5" cy="868.3" r="8.6" fill="#e1e3f1" stroke="#77706b" stroke-width="0.55"/>
<text x="42.50" y="871.50" font-size="8.6" fill="#5a5a5a" textLength="101.50" lengthAdjust="spacingAndGlyphs">INCREASED 500 TO 1,000</text>
<circle cx="24.5" cy="893.3" r="8.6" fill="#dedede" stroke="#77706b" stroke-width="0.55"/>
<text x="42.50" y="896.50" font-size="8.6" fill="#5a5a5a" textLength="103.50" lengthAdjust="spacingAndGlyphs">CHANGED LESS THAN 500</text>
<text x="286.00" y="527.80" font-size="10.5" fill="#333" font-weight="bold" text-anchor="middle">1870</text>
<text x="505.50" y="527.80" font-size="10.5" fill="#333" font-weight="bold" text-anchor="middle">1880</text>
<text x="725.00" y="527.80" font-size="10.5" fill="#333" font-weight="bold" text-anchor="middle">Change</text>
<g transform="translate(0,0)" stroke="#4a4a4a" stroke-width="0.3" stroke-linejoin="round">
<path d="M195.7 569.4L202.9 553.8L202.8 552.6L192.2 552.6L195.0 569.7Z" fill="#4b6153"/>
<path d="M210.8 570.8L211.6 569.5L211.3 567.3L202.9 553.8L195.7 569.4Z" fill="#efb850"/>
<path d="M202.9 553.8L211.3 567.3L217.2 552.5L202.8 552.6Z" fill="#4b6153"/>
<path d="M211.3 567.3L211.6 569.5L220.7 567.5L220.7 552.5L217.2 552.5Z" fill="#efb850"/>
<path d="M220.7 567.5L228.1 569.4L231.2 564.6L230.1 552.4L220.7 552.5Z" fill="#4b6153"/>
<path d="M231.2 564.6L245.9 564.6L245.0 552.4L230.1 552.4Z" fill="#4b6153"/>
<path d="M245.9 564.6L258.6 564.6L259.5 563.3L258.3 552.3L245.0 552.4Z" fill="#4b6153"/>
<path d="M259.5 563.3L270.8 562.1L271.6 552.3L258.3 552.3Z" fill="#4b6153"/>
<path d="M280.9 564.9L289.7 552.2L271.6 552.3L270.8 562.1L271.3 562.8Z" fill="#4b6153"/>
<path d="M242.8 574.1L245.4 570.6L245.9 564.6L231.2 564.6L228.1 569.4L228.8 571.8Z" fill="#4b6153"/>
<path d="M256.4 577.9L260.5 574.2L258.6 564.6L245.9 564.6L245.4 570.6Z" fill="#4b6153"/>
<path d="M260.5 574.2L269.0 575.8L269.7 575.3L271.3 562.8L270.8 562.1L259.5 563.3L258.6 564.6Z" fill="#4b6153"/>
<path d="M271.3 562.8L269.7 575.3L278.2 575.7L283.3 570.2L283.0 570.0L280.6 565.3L280.9 564.9Z" fill="#4b6153"/>
<path d="M211.5 578.2L210.8 570.8L195.7 569.4L195.0 569.7L197.6 585.1Z" fill="#efb850"/>
<path d="M211.5 578.2L214.8 582.0L227.8 580.7L228.8 571.8L228.1 569.4L220.7 567.5L211.6 569.5L210.8 570.8Z" fill="#efb850"/>
<path d="M227.8 580.7L229.1 582.4L242.0 581.6L242.8 574.1L228.8 571.8Z" fill="#4b6153"/>
<path d="M255.4 581.8L256.4 577.9L245.4 570.6L242.8 574.1L242.0 581.6L243.8 583.9Z" fill="#4b6153"/>
<path d="M269.0 586.5L269.0 575.8L260.5 574.2L256.4 577.9L255.4 581.8L260.2 591.8Z" fill="#efb850"/>
<path d="M281.9 585.8L278.2 575.7L269.7 575.3L269.0 575.8L269.0 586.5L278.2 589.7Z" fill="#4b6153"/>
<path d="M291.6 575.4L283.3 570.2L278.2 575.7L281.9 585.8L288.4 585.0Z" fill="#efb850"/>
<path d="M288.4 585.0L293.1 588.9L301.6 585.6L299.7 580.9L292.5 576.0L291.6 575.4Z" fill="#efb850"/>
<path d="M213.9 592.0L214.8 582.0L211.5 578.2L197.6 585.1L198.1 588.0L199.0 593.5Z" fill="#dc3051"/>
<path d="M226.2 595.3L229.5 592.6L229.1 582.4L227.8 580.7L214.8 582.0L213.9 592.0L216.3 594.9Z" fill="#ea9a97"/>
<path d="M243.8 583.9L242.0 581.6L229.1 582.4L229.5 592.6L236.2 594.6L243.6 588.3Z" fill="#efb850"/>
<path d="M250.9 595.0L260.1 592.1L260.2 591.8L255.4 581.8L243.8 583.9L243.6 588.3Z" fill="#efb850"/>
<path d="M246.9 602.1L250.9 595.0L243.6 588.3L236.2 594.6L240.7 602.8L241.0 602.9Z" fill="#4b6153"/>
<path d="M269.7 602.1L271.7 601.2L278.5 593.3L278.2 589.7L269.0 586.5L260.2 591.8L260.1 592.1L263.5 599.6Z" fill="#ea9a97"/>
<path d="M293.1 588.9L288.4 585.0L281.9 585.8L278.2 589.7L278.5 593.3L285.8 599.5L293.1 597.3Z" fill="#efb850"/>
<path d="M293.1 588.9L293.1 597.3L298.0 601.2L309.5 597.8L304.5 592.8L301.6 585.6Z" fill="#ea9a97"/>
<path d="M213.7 604.0L216.3 594.9L213.9 592.0L199.0 593.5L200.6 603.2Z" fill="#ea9a97"/>
<path d="M216.6 610.5L227.3 606.3L226.2 595.3L216.3 594.9L213.7 604.0Z" fill="#4b6153"/>
<path d="M227.3 606.3L230.5 608.2L240.7 602.8L236.2 594.6L229.5 592.6L226.2 595.3Z" fill="#ea9a97"/>
<path d="M260.1 592.1L250.9 595.0L246.9 602.1L252.5 608.1L256.8 608.5L263.5 599.6Z" fill="#efb850"/>
<path d="M271.1 611.3L269.7 602.1L263.5 599.6L256.8 608.5L259.6 613.0L267.7 615.7Z" fill="#ea9a97"/>
<path d="M282.0 612.6L284.0 610.7L283.5 606.4L271.7 601.2L269.7 602.1L271.1 611.3Z" fill="#e2e2e2"/>
<path d="M278.5 593.3L271.7 601.2L283.5 606.4L285.8 599.5Z" fill="#dc3051"/>
<path d="M294.4 612.6L296.2 611.4L298.0 601.2L293.1 597.3L285.8 599.5L283.5 606.4L284.0 610.7Z" fill="#dc3051"/>
<path d="M298.0 601.2L296.2 611.4L308.6 615.7L309.2 615.4L310.9 599.1L309.5 597.8Z" fill="#dc3051"/>
<path d="M322.8 611.8L318.8 607.0L310.9 599.1L309.2 615.4L316.5 616.0Z" fill="#ea9a97"/>
<path d="M216.4 611.2L216.6 610.5L213.7 604.0L200.6 603.2L203.0 617.2Z" fill="#4b6153"/>
<path d="M217.7 626.0L221.2 621.4L216.4 611.2L203.0 617.2L204.1 623.8Z" fill="#efb850"/>
<path d="M223.2 621.4L231.1 610.8L230.5 608.2L227.3 606.3L216.6 610.5L216.4 611.2L221.2 621.4Z" fill="#e2e2e2"/>
<path d="M241.8 614.0L241.0 602.9L240.7 602.8L230.5 608.2L231.1 610.8L236.2 616.2Z" fill="#6e4732"/>
<path d="M252.5 608.1L246.9 602.1L241.0 602.9L241.8 614.0L246.9 616.2Z" fill="#ea9a97"/>
<path d="M247.5 618.0L246.9 616.2L241.8 614.0L236.2 616.2L235.4 619.8L241.9 626.4Z" fill="#efb850"/>
<path d="M259.6 613.0L256.8 608.5L252.5 608.1L246.9 616.2L247.5 618.0L254.6 621.7Z" fill="#e2e2e2"/>
<path d="M261.4 626.4L268.8 622.3L267.7 615.7L259.6 613.0L254.6 621.7L255.3 623.7Z" fill="#dc3051"/>
<path d="M273.6 625.4L281.0 622.7L282.0 612.6L271.1 611.3L267.7 615.7L268.8 622.3Z" fill="#dc3051"/>
<path d="M288.4 627.1L293.2 624.7L294.4 612.6L284.0 610.7L282.0 612.6L281.0 622.7Z" fill="#dc3051"/>
<path d="M293.2 624.7L298.8 626.7L308.2 617.3L308.6 615.7L296.2 611.4L294.4 612.6Z" fill="#ea9a97"/>
<path d="M311.8 629.8L316.8 631.7L320.1 631.0L321.3 627.2L316.5 616.0L309.2 615.4L308.6 615.7L308.2 617.3Z" fill="#e2e2e2"/>
<path d="M316.5 616.0L321.3 627.2L330.3 620.9L322.8 611.8Z" fill="#dc3051"/>
<path d="M218.5 635.6L217.7 626.0L204.1 623.8L204.1 623.9L206.6 638.9Z" fill="#ea9a97"/>
<path d="M228.8 623.6L223.2 621.4L221.2 621.4L217.7 626.0L218.5 635.6L221.4 637.8L233.2 635.3Z" fill="#dc3051"/>
<path d="M235.7 635.0L242.0 626.7L241.9 626.4L235.4 619.8L228.8 623.6L233.2 635.3L234.2 635.7Z" fill="#ea9a97"/>
<path d="M235.4 619.8L236.2 616.2L231.1 610.8L223.2 621.4L228.8 623.6Z" fill="#ea9a97"/>
<path d="M242.0 626.7L250.0 630.1L255.3 623.7L254.6 621.7L247.5 618.0L241.9 626.4Z" fill="#ea9a97"/>
<path d="M250.4 639.2L251.7 637.7L250.0 630.1L242.0 626.7L235.7 635.0Z" fill="#ea9a97"/>
<path d="M251.7 637.7L261.4 636.8L261.4 626.4L255.3 623.7L250.0 630.1Z" fill="#ea9a97"/>
<path d="M261.4 626.4L261.4 636.8L263.8 638.6L273.6 635.9L273.6 625.4L268.8 622.3Z" fill="#dc3051"/>
<path d="M273.6 635.9L276.8 638.2L287.1 635.2L288.4 627.1L281.0 622.7L273.6 625.4Z" fill="#dc3051"/>
<path d="M287.1 635.2L293.4 642.2L301.7 637.3L302.8 632.8L298.8 626.7L293.2 624.7L288.4 627.1Z" fill="#dc3051"/>
<path d="M302.8 632.8L311.8 629.8L308.2 617.3L298.8 626.7Z" fill="#dc3051"/>
<path d="M301.7 637.3L311.0 645.2L316.8 631.7L311.8 629.8L302.8 632.8Z" fill="#4b6153"/>
<path d="M321.3 627.2L320.1 631.0L326.8 637.0L341.2 632.2L340.3 631.0L330.8 621.5L330.3 620.9Z" fill="#bf967b"/>
<path d="M311.4 646.4L321.1 647.3L326.2 641.2L326.8 637.0L320.1 631.0L316.8 631.7L311.0 645.2Z" fill="#dc3051"/>
<path d="M221.4 649.2L221.4 637.8L218.5 635.6L206.6 638.9L208.9 652.5L208.9 652.6Z" fill="#bf967b"/>
<path d="M233.2 635.3L221.4 637.8L221.4 649.2L226.7 653.4L233.7 651.0L235.9 645.8L234.2 635.7Z" fill="#dc3051"/>
<path d="M235.9 645.8L249.3 645.8L250.4 639.2L235.7 635.0L234.2 635.7Z" fill="#ea9a97"/>
<path d="M233.7 651.0L241.9 658.3L246.3 657.6L251.2 650.5L249.3 645.8L235.9 645.8Z" fill="#ea9a97"/>
<path d="M251.2 650.5L257.0 651.5L263.8 645.6L263.8 638.6L261.4 636.8L251.7 637.7L250.4 639.2L249.3 645.8Z" fill="#bf967b"/>
<path d="M277.8 649.1L276.8 638.2L273.6 635.9L263.8 638.6L263.8 645.6L273.7 652.7L276.7 651.4Z" fill="#dc3051"/>
<path d="M293.0 644.8L293.4 642.2L287.1 635.2L276.8 638.2L277.8 649.1Z" fill="#dc3051"/>
<path d="M298.8 653.8L308.5 651.4L311.4 646.4L311.0 645.2L301.7 637.3L293.4 642.2L293.0 644.8L295.1 650.2Z" fill="#dc3051"/>
<path d="M326.8 637.0L326.2 641.2L338.5 652.3L345.5 638.3L341.2 632.2Z" fill="#bf967b"/>
<path d="M333.9 660.0L338.5 652.6L338.5 652.3L326.2 641.2L321.1 647.3L325.2 657.2Z" fill="#bf967b"/>
<path d="M273.7 652.7L263.8 645.6L257.0 651.5L263.2 661.5L268.4 661.1Z" fill="#bf967b"/>
<path d="M283.4 657.3L295.1 650.2L293.0 644.8L277.8 649.1L276.7 651.4Z" fill="#ea9a97"/>
<path d="M338.5 652.3L338.5 652.6L357.0 657.3L357.0 657.3L352.3 647.8L345.5 638.3Z" fill="#ea9a97"/>
<path d="M225.5 661.4L226.7 653.4L221.4 649.2L208.9 652.6L210.7 664.7Z" fill="#dc3051"/>
<path d="M241.9 658.3L233.7 651.0L226.7 653.4L225.5 661.4L229.1 667.1L237.0 667.1Z" fill="#dc3051"/>
<path d="M228.4 668.7L229.1 667.1L225.5 661.4L210.7 664.7L212.2 675.2Z" fill="#dc3051"/>
<path d="M240.9 672.1L245.6 673.0L253.4 667.1L246.3 657.6L241.9 658.3L237.0 667.1Z" fill="#ea9a97"/>
<path d="M256.7 667.6L263.2 661.5L257.0 651.5L251.2 650.5L246.3 657.6L253.4 667.1Z" fill="#ea9a97"/>
<path d="M273.7 652.7L268.4 661.1L273.7 668.2L286.3 667.0L283.4 657.3L276.7 651.4Z" fill="#dc3051"/>
<path d="M283.4 657.3L286.3 667.0L286.5 667.1L297.5 662.1L298.8 653.8L295.1 650.2Z" fill="#ea9a97"/>
<path d="M308.5 651.4L314.7 662.5L325.2 657.2L321.1 647.3L311.4 646.4Z" fill="#dc3051"/>
<path d="M359.1 661.5L357.0 657.3L338.5 652.6L333.9 660.0L334.7 663.0L351.4 668.0Z" fill="#ea9a97"/>
<path d="M314.7 662.5L308.5 651.4L298.8 653.8L297.5 662.1L307.7 671.1L312.0 670.0Z" fill="#4b6153"/>
<path d="M263.2 661.5L256.7 667.6L261.8 679.9L269.6 680.9L273.7 668.2L268.4 661.1Z" fill="#6e4732"/>
<path d="M249.3 682.8L255.3 684.8L261.8 679.9L256.7 667.6L253.4 667.1L245.6 673.0Z" fill="#dc3051"/>
<path d="M229.1 667.1L228.4 668.7L228.4 681.7L228.4 681.8L235.4 681.8L240.9 672.1L237.0 667.1Z" fill="#ea9a97"/>
<path d="M228.4 681.7L228.4 668.7L212.2 675.2L212.9 680.3Z" fill="#ea9a97"/>
<path d="M235.4 681.8L240.9 686.6L249.3 682.8L245.6 673.0L240.9 672.1Z" fill="#ea9a97"/>
<path d="M288.2 675.1L286.5 667.1L286.3 667.0L273.7 668.2L269.6 680.9L273.3 684.5L277.2 684.7Z" fill="#dc3051"/>
<path d="M307.7 671.1L297.5 662.1L286.5 667.1L288.2 675.1L299.8 682.5Z" fill="#ea9a97"/>
<path d="M288.2 675.1L277.2 684.7L287.0 693.5L299.9 683.5L299.8 682.5Z" fill="#e2e2e2"/>
<path d="M323.2 677.7L330.8 675.6L334.7 663.0L333.9 660.0L325.2 657.2L314.7 662.5L312.0 670.0Z" fill="#efb850"/>
<path d="M349.9 677.8L351.4 668.0L334.7 663.0L330.8 675.6L340.6 683.9Z" fill="#efb850"/>
<path d="M351.4 668.0L349.9 677.8L361.2 683.4L367.0 680.9L364.2 671.7L359.1 661.5Z" fill="#efb850"/>
<path d="M323.2 677.7L312.0 670.0L307.7 671.1L299.8 682.5L299.9 683.5L309.5 694.9L317.8 692.7Z" fill="#efb850"/>
<path d="M330.3 700.7L336.3 698.4L341.0 691.6L340.6 683.9L330.8 675.6L323.2 677.7L317.8 692.7Z" fill="#efb850"/>
<path d="M299.9 683.5L287.0 693.5L287.0 699.1L291.5 704.5L307.9 698.6L309.5 694.9Z" fill="#efb850"/>
<path d="M341.0 691.6L356.8 695.5L361.2 683.4L349.9 677.8L340.6 683.9Z" fill="#ea9a97"/>
<path d="M356.8 695.5L361.6 704.0L367.0 706.2L373.8 698.0L375.0 688.4L367.8 683.6L367.0 680.9L361.2 683.4Z" fill="#2f2660"/>
<path d="M336.3 698.4L347.6 711.1L361.6 704.0L356.8 695.5L341.0 691.6Z" fill="#dc3051"/>
<path d="M221.9 695.6L227.2 694.3L228.4 681.8L228.4 681.7L212.9 680.3L213.7 686.0L212.5 689.9Z" fill="#dc3051"/>
<path d="M228.4 681.8L227.2 694.3L231.4 697.0L240.2 694.6L240.9 686.6L235.4 681.8Z" fill="#efb850"/>
<path d="M240.2 694.6L243.7 697.4L255.3 695.1L255.3 684.8L249.3 682.8L240.9 686.6Z" fill="#dc3051"/>
<path d="M255.3 684.8L255.3 695.1L260.4 700.7L267.9 700.7L273.3 684.5L269.6 680.9L261.8 679.9Z" fill="#ea9a97"/>
<path d="M218.9 704.2L221.9 695.6L212.5 689.9L210.1 698.0L211.0 704.6Z" fill="#efb850"/>
<path d="M221.9 695.6L218.9 704.2L223.3 710.0L231.4 706.4L231.4 697.0L227.2 694.3Z" fill="#dc3051"/>
<path d="M243.7 706.6L243.7 697.4L240.2 694.6L231.4 697.0L231.4 706.4L238.2 710.9Z" fill="#dc3051"/>
<path d="M255.3 695.1L243.7 697.4L243.7 706.6L254.3 710.2L260.4 700.7Z" fill="#dc3051"/>
<path d="M277.2 684.7L273.3 684.5L267.9 700.7L271.3 703.8L287.0 699.1L287.0 693.5Z" fill="#4b6153"/>
<path d="M260.4 700.7L254.3 710.2L255.7 719.5L257.1 720.7L271.3 719.8L273.8 716.6L271.3 703.8L267.9 700.7Z" fill="#efb850"/>
<path d="M271.3 703.8L273.8 716.6L288.9 716.6L290.9 714.5L291.5 704.5L287.0 699.1Z" fill="#4b6153"/>
<path d="M290.9 714.5L307.2 717.2L311.2 714.3L307.9 698.6L291.5 704.5Z" fill="#4b6153"/>
<path d="M309.5 694.9L307.9 698.6L311.2 714.3L316.8 715.6L326.6 712.4L330.3 700.7L317.8 692.7Z" fill="#4b6153"/>
<path d="M326.6 712.4L331.7 718.0L344.7 719.1L345.6 718.4L347.6 711.1L336.3 698.4L330.3 700.7Z" fill="#4b6153"/>
<path d="M360.9 726.0L360.9 725.9L364.2 712.4L366.5 706.7L367.0 706.2L361.6 704.0L347.6 711.1L345.6 718.4Z" fill="#ea9a97"/>
<path d="M211.0 704.6L212.4 714.6L212.3 717.5L222.2 714.5L223.3 710.0L218.9 704.2Z" fill="#ea9a97"/>
<path d="M231.4 706.4L223.3 710.0L222.2 714.5L228.0 722.0L230.1 722.5L238.2 716.2L238.2 710.9Z" fill="#ea9a97"/>
<path d="M238.2 716.2L245.6 721.2L255.7 719.5L254.3 710.2L243.7 706.6L238.2 710.9Z" fill="#dc3051"/>
<path d="M228.0 722.0L222.2 714.5L212.3 717.5L211.8 727.0L214.6 733.5Z" fill="#ea9a97"/>
<path d="M235.9 734.0L230.1 722.5L228.0 722.0L214.6 733.5L215.7 736.0L217.1 741.5Z" fill="#4b6153"/>
<path d="M230.1 722.5L235.9 734.0L240.1 735.7L245.6 721.2L238.2 716.2Z" fill="#ea9a97"/>
<path d="M240.1 735.7L243.8 740.0L256.1 734.4L257.1 720.7L255.7 719.5L245.6 721.2Z" fill="#ea9a97"/>
<path d="M271.3 719.8L257.1 720.7L256.1 734.4L263.7 738.8L274.5 734.7Z" fill="#4b6153"/>
<path d="M277.3 736.2L290.5 734.6L291.4 733.7L288.9 716.6L273.8 716.6L271.3 719.8L274.5 734.7Z" fill="#4b6153"/>
<path d="M290.9 714.5L288.9 716.6L291.4 733.7L304.4 733.7L307.2 717.2Z" fill="#4b6153"/>
<path d="M307.2 717.2L304.4 733.7L308.4 736.9L313.3 738.2L320.5 732.2L316.8 715.6L311.2 714.3Z" fill="#4b6153"/>
<path d="M320.5 732.2L329.0 731.6L331.7 718.0L326.6 712.4L316.8 715.6Z" fill="#4b6153"/>
<path d="M342.3 732.2L344.7 719.1L331.7 718.0L329.0 731.6L335.3 736.3Z" fill="#4b6153"/>
<path d="M342.3 732.2L356.9 738.1L357.0 737.0L360.9 726.0L345.6 718.4L344.7 719.1Z" fill="#ea9a97"/>
<path d="M243.8 740.0L240.1 735.7L235.9 734.0L217.1 741.5L218.6 747.2L220.8 751.2L243.2 752.5Z" fill="#dc3051"/>
<path d="M263.7 738.8L256.1 734.4L243.8 740.0L243.2 752.5L262.5 753.7Z" fill="#dc3051"/>
<path d="M277.3 736.2L274.5 734.7L263.7 738.8L262.5 753.7L277.3 754.5Z" fill="#ea9a97"/>
<path d="M290.5 734.6L277.3 736.2L277.3 754.5L290.0 755.3L292.2 755.5Z" fill="#ea9a97"/>
<path d="M291.4 733.7L290.5 734.6L292.2 755.5L297.6 755.9L308.4 736.9L304.4 733.7Z" fill="#4b6153"/>
<path d="M297.6 755.9L311.9 757.0L315.0 741.8L313.3 738.2L308.4 736.9Z" fill="#4b6153"/>
<path d="M311.9 757.0L321.4 757.7L327.7 748.8L315.0 741.8Z" fill="#4b6153"/>
<path d="M335.3 736.3L329.0 731.6L320.5 732.2L313.3 738.2L315.0 741.8L327.7 748.8L334.5 747.9L335.3 746.4Z" fill="#4b6153"/>
<path d="M342.3 732.2L335.3 736.3L335.3 746.4L336.1 745.0L355.2 750.6L356.9 738.1Z" fill="#ea9a97"/>
<path d="M327.7 748.8L321.4 757.7L323.7 757.9L325.4 766.4L331.6 767.3L332.7 758.5L331.0 754.0L334.5 747.9Z" fill="#4b6153"/>
</g>
<g transform="translate(219.2,0)" stroke="#4a4a4a" stroke-width="0.3" stroke-linejoin="round">
<path d="M195.7 569.4L202.9 553.8L202.8 552.6L192.2 552.6L195.0 569.7Z" fill="#efb850"/>
<path d="M210.8 570.8L211.6 569.5L211.3 567.3L202.9 553.8L195.7 569.4Z" fill="#efb850"/>
<path d="M202.9 553.8L211.3 567.3L217.2 552.5L202.8 552.6Z" fill="#4b6153"/>
<path d="M211.3 567.3L211.6 569.5L220.7 567.5L220.7 552.5L217.2 552.5Z" fill="#efb850"/>
<path d="M220.7 567.5L228.1 569.4L231.2 564.6L230.1 552.4L220.7 552.5Z" fill="#4b6153"/>
<path d="M231.2 564.6L245.9 564.6L245.0 552.4L230.1 552.4Z" fill="#4b6153"/>
<path d="M245.9 564.6L258.6 564.6L259.5 563.3L258.3 552.3L245.0 552.4Z" fill="#4b6153"/>
<path d="M259.5 563.3L270.8 562.1L271.6 552.3L258.3 552.3Z" fill="#4b6153"/>
<path d="M280.9 564.9L289.7 552.2L271.6 552.3L270.8 562.1L271.3 562.8Z" fill="#4b6153"/>
<path d="M242.8 574.1L245.4 570.6L245.9 564.6L231.2 564.6L228.1 569.4L228.8 571.8Z" fill="#4b6153"/>
<path d="M256.4 577.9L260.5 574.2L258.6 564.6L245.9 564.6L245.4 570.6Z" fill="#4b6153"/>
<path d="M260.5 574.2L269.0 575.8L269.7 575.3L271.3 562.8L270.8 562.1L259.5 563.3L258.6 564.6Z" fill="#4b6153"/>
<path d="M271.3 562.8L269.7 575.3L278.2 575.7L283.3 570.2L283.0 570.0L280.6 565.3L280.9 564.9Z" fill="#efb850"/>
<path d="M211.5 578.2L210.8 570.8L195.7 569.4L195.0 569.7L197.6 585.1Z" fill="#efb850"/>
<path d="M211.5 578.2L214.8 582.0L227.8 580.7L228.8 571.8L228.1 569.4L220.7 567.5L211.6 569.5L210.8 570.8Z" fill="#efb850"/>
<path d="M227.8 580.7L229.1 582.4L242.0 581.6L242.8 574.1L228.8 571.8Z" fill="#4b6153"/>
<path d="M255.4 581.8L256.4 577.9L245.4 570.6L242.8 574.1L242.0 581.6L243.8 583.9Z" fill="#4b6153"/>
<path d="M269.0 586.5L269.0 575.8L260.5 574.2L256.4 577.9L255.4 581.8L260.2 591.8Z" fill="#efb850"/>
<path d="M281.9 585.8L278.2 575.7L269.7 575.3L269.0 575.8L269.0 586.5L278.2 589.7Z" fill="#efb850"/>
<path d="M291.6 575.4L283.3 570.2L278.2 575.7L281.9 585.8L288.4 585.0Z" fill="#ea9a97"/>
<path d="M288.4 585.0L293.1 588.9L301.6 585.6L299.7 580.9L292.5 576.0L291.6 575.4Z" fill="#ea9a97"/>
<path d="M213.9 592.0L214.8 582.0L211.5 578.2L197.6 585.1L198.1 588.0L199.0 593.5Z" fill="#dc3051"/>
<path d="M226.2 595.3L229.5 592.6L229.1 582.4L227.8 580.7L214.8 582.0L213.9 592.0L216.3 594.9Z" fill="#dc3051"/>
<path d="M243.8 583.9L242.0 581.6L229.1 582.4L229.5 592.6L236.2 594.6L243.6 588.3Z" fill="#efb850"/>
<path d="M250.9 595.0L260.1 592.1L260.2 591.8L255.4 581.8L243.8 583.9L243.6 588.3Z" fill="#efb850"/>
<path d="M246.9 602.1L250.9 595.0L243.6 588.3L236.2 594.6L240.7 602.8L241.0 602.9Z" fill="#4b6153"/>
<path d="M269.7 602.1L271.7 601.2L278.5 593.3L278.2 589.7L269.0 586.5L260.2 591.8L260.1 592.1L263.5 599.6Z" fill="#dc3051"/>
<path d="M293.1 588.9L288.4 585.0L281.9 585.8L278.2 589.7L278.5 593.3L285.8 599.5L293.1 597.3Z" fill="#ea9a97"/>
<path d="M293.1 588.9L293.1 597.3L298.0 601.2L309.5 597.8L304.5 592.8L301.6 585.6Z" fill="#dc3051"/>
<path d="M213.7 604.0L216.3 594.9L213.9 592.0L199.0 593.5L200.6 603.2Z" fill="#ea9a97"/>
<path d="M216.6 610.5L227.3 606.3L226.2 595.3L216.3 594.9L213.7 604.0Z" fill="#4b6153"/>
<path d="M227.3 606.3L230.5 608.2L240.7 602.8L236.2 594.6L229.5 592.6L226.2 595.3Z" fill="#dc3051"/>
<path d="M260.1 592.1L250.9 595.0L246.9 602.1L252.5 608.1L256.8 608.5L263.5 599.6Z" fill="#ea9a97"/>
<path d="M271.1 611.3L269.7 602.1L263.5 599.6L256.8 608.5L259.6 613.0L267.7 615.7Z" fill="#dc3051"/>
<path d="M282.0 612.6L284.0 610.7L283.5 606.4L271.7 601.2L269.7 602.1L271.1 611.3Z" fill="#ea9a97"/>
<path d="M278.5 593.3L271.7 601.2L283.5 606.4L285.8 599.5Z" fill="#dc3051"/>
<path d="M294.4 612.6L296.2 611.4L298.0 601.2L293.1 597.3L285.8 599.5L283.5 606.4L284.0 610.7Z" fill="#dc3051"/>
<path d="M298.0 601.2L296.2 611.4L308.6 615.7L309.2 615.4L310.9 599.1L309.5 597.8Z" fill="#bf967b"/>
<path d="M322.8 611.8L318.8 607.0L310.9 599.1L309.2 615.4L316.5 616.0Z" fill="#ea9a97"/>
<path d="M216.4 611.2L216.6 610.5L213.7 604.0L200.6 603.2L203.0 617.2Z" fill="#4b6153"/>
<path d="M217.7 626.0L221.2 621.4L216.4 611.2L203.0 617.2L204.1 623.8Z" fill="#efb850"/>
<path d="M223.2 621.4L231.1 610.8L230.5 608.2L227.3 606.3L216.6 610.5L216.4 611.2L221.2 621.4Z" fill="#efb850"/>
<path d="M241.8 614.0L241.0 602.9L240.7 602.8L230.5 608.2L231.1 610.8L236.2 616.2Z" fill="#2f2660"/>
<path d="M252.5 608.1L246.9 602.1L241.0 602.9L241.8 614.0L246.9 616.2Z" fill="#ea9a97"/>
<path d="M247.5 618.0L246.9 616.2L241.8 614.0L236.2 616.2L235.4 619.8L241.9 626.4Z" fill="#ea9a97"/>
<path d="M259.6 613.0L256.8 608.5L252.5 608.1L246.9 616.2L247.5 618.0L254.6 621.7Z" fill="#ea9a97"/>
<path d="M261.4 626.4L268.8 622.3L267.7 615.7L259.6 613.0L254.6 621.7L255.3 623.7Z" fill="#dc3051"/>
<path d="M273.6 625.4L281.0 622.7L282.0 612.6L271.1 611.3L267.7 615.7L268.8 622.3Z" fill="#dc3051"/>
<path d="M288.4 627.1L293.2 624.7L294.4 612.6L284.0 610.7L282.0 612.6L281.0 622.7Z" fill="#bf967b"/>
<path d="M293.2 624.7L298.8 626.7L308.2 617.3L308.6 615.7L296.2 611.4L294.4 612.6Z" fill="#ea9a97"/>
<path d="M311.8 629.8L316.8 631.7L320.1 631.0L321.3 627.2L316.5 616.0L309.2 615.4L308.6 615.7L308.2 617.3Z" fill="#dc3051"/>
<path d="M316.5 616.0L321.3 627.2L330.3 620.9L322.8 611.8Z" fill="#dc3051"/>
<path d="M218.5 635.6L217.7 626.0L204.1 623.8L204.1 623.9L206.6 638.9Z" fill="#ea9a97"/>
<path d="M228.8 623.6L223.2 621.4L221.2 621.4L217.7 626.0L218.5 635.6L221.4 637.8L233.2 635.3Z" fill="#bf967b"/>
<path d="M235.7 635.0L242.0 626.7L241.9 626.4L235.4 619.8L228.8 623.6L233.2 635.3L234.2 635.7Z" fill="#ea9a97"/>
<path d="M235.4 619.8L236.2 616.2L231.1 610.8L223.2 621.4L228.8 623.6Z" fill="#ea9a97"/>
<path d="M242.0 626.7L250.0 630.1L255.3 623.7L254.6 621.7L247.5 618.0L241.9 626.4Z" fill="#dc3051"/>
<path d="M250.4 639.2L251.7 637.7L250.0 630.1L242.0 626.7L235.7 635.0Z" fill="#dc3051"/>
<path d="M251.7 637.7L261.4 636.8L261.4 626.4L255.3 623.7L250.0 630.1Z" fill="#ea9a97"/>
<path d="M261.4 626.4L261.4 636.8L263.8 638.6L273.6 635.9L273.6 625.4L268.8 622.3Z" fill="#dc3051"/>
<path d="M273.6 635.9L276.8 638.2L287.1 635.2L288.4 627.1L281.0 622.7L273.6 625.4Z" fill="#bf967b"/>
<path d="M287.1 635.2L293.4 642.2L301.7 637.3L302.8 632.8L298.8 626.7L293.2 624.7L288.4 627.1Z" fill="#bf967b"/>
<path d="M302.8 632.8L311.8 629.8L308.2 617.3L298.8 626.7Z" fill="#dc3051"/>
<path d="M301.7 637.3L311.0 645.2L316.8 631.7L311.8 629.8L302.8 632.8Z" fill="#efb850"/>
<path d="M321.3 627.2L320.1 631.0L326.8 637.0L341.2 632.2L340.3 631.0L330.8 621.5L330.3 620.9Z" fill="#6e4732"/>
<path d="M311.4 646.4L321.1 647.3L326.2 641.2L326.8 637.0L320.1 631.0L316.8 631.7L311.0 645.2Z" fill="#bf967b"/>
<path d="M221.4 649.2L221.4 637.8L218.5 635.6L206.6 638.9L208.9 652.5L208.9 652.6Z" fill="#bf967b"/>
<path d="M233.2 635.3L221.4 637.8L221.4 649.2L226.7 653.4L233.7 651.0L235.9 645.8L234.2 635.7Z" fill="#dc3051"/>
<path d="M235.9 645.8L249.3 645.8L250.4 639.2L235.7 635.0L234.2 635.7Z" fill="#dc3051"/>
<path d="M233.7 651.0L241.9 658.3L246.3 657.6L251.2 650.5L249.3 645.8L235.9 645.8Z" fill="#dc3051"/>
<path d="M251.2 650.5L257.0 651.5L263.8 645.6L263.8 638.6L261.4 636.8L251.7 637.7L250.4 639.2L249.3 645.8Z" fill="#bf967b"/>
<path d="M277.8 649.1L276.8 638.2L273.6 635.9L263.8 638.6L263.8 645.6L273.7 652.7L276.7 651.4Z" fill="#dc3051"/>
<path d="M293.0 644.8L293.4 642.2L287.1 635.2L276.8 638.2L277.8 649.1Z" fill="#dc3051"/>
<path d="M298.8 653.8L308.5 651.4L311.4 646.4L311.0 645.2L301.7 637.3L293.4 642.2L293.0 644.8L295.1 650.2Z" fill="#bf967b"/>
<path d="M326.8 637.0L326.2 641.2L338.5 652.3L345.5 638.3L341.2 632.2Z" fill="#2f2660"/>
<path d="M333.9 660.0L338.5 652.6L338.5 652.3L326.2 641.2L321.1 647.3L325.2 657.2Z" fill="#2f2660"/>
<path d="M273.7 652.7L263.8 645.6L257.0 651.5L263.2 661.5L268.4 661.1Z" fill="#6e4732"/>
<path d="M283.4 657.3L295.1 650.2L293.0 644.8L277.8 649.1L276.7 651.4Z" fill="#dc3051"/>
<path d="M338.5 652.3L338.5 652.6L357.0 657.3L357.0 657.3L352.3 647.8L345.5 638.3Z" fill="#dc3051"/>
<path d="M225.5 661.4L226.7 653.4L221.4 649.2L208.9 652.6L210.7 664.7Z" fill="#dc3051"/>
<path d="M241.9 658.3L233.7 651.0L226.7 653.4L225.5 661.4L229.1 667.1L237.0 667.1Z" fill="#dc3051"/>
<path d="M228.4 668.7L229.1 667.1L225.5 661.4L210.7 664.7L212.2 675.2Z" fill="#bf967b"/>
<path d="M240.9 672.1L245.6 673.0L253.4 667.1L246.3 657.6L241.9 658.3L237.0 667.1Z" fill="#ea9a97"/>
<path d="M256.7 667.6L263.2 661.5L257.0 651.5L251.2 650.5L246.3 657.6L253.4 667.1Z" fill="#ea9a97"/>
<path d="M273.7 652.7L268.4 661.1L273.7 668.2L286.3 667.0L283.4 657.3L276.7 651.4Z" fill="#dc3051"/>
<path d="M283.4 657.3L286.3 667.0L286.5 667.1L297.5 662.1L298.8 653.8L295.1 650.2Z" fill="#dc3051"/>
<path d="M308.5 651.4L314.7 662.5L325.2 657.2L321.1 647.3L311.4 646.4Z" fill="#bf967b"/>
<path d="M359.1 661.5L357.0 657.3L338.5 652.6L333.9 660.0L334.7 663.0L351.4 668.0Z" fill="#dc3051"/>
<path d="M314.7 662.5L308.5 651.4L298.8 653.8L297.5 662.1L307.7 671.1L312.0 670.0Z" fill="#efb850"/>
<path d="M263.2 661.5L256.7 667.6L261.8 679.9L269.6 680.9L273.7 668.2L268.4 661.1Z" fill="#6e4732"/>
<path d="M249.3 682.8L255.3 684.8L261.8 679.9L256.7 667.6L253.4 667.1L245.6 673.0Z" fill="#dc3051"/>
<path d="M229.1 667.1L228.4 668.7L228.4 681.7L228.4 681.8L235.4 681.8L240.9 672.1L237.0 667.1Z" fill="#ea9a97"/>
<path d="M228.4 681.7L228.4 668.7L212.2 675.2L212.9 680.3Z" fill="#ea9a97"/>
<path d="M235.4 681.8L240.9 686.6L249.3 682.8L245.6 673.0L240.9 672.1Z" fill="#ea9a97"/>
<path d="M288.2 675.1L286.5 667.1L286.3 667.0L273.7 668.2L269.6 680.9L273.3 684.5L277.2 684.7Z" fill="#dc3051"/>
<path d="M307.7 671.1L297.5 662.1L286.5 667.1L288.2 675.1L299.8 682.5Z" fill="#ea9a97"/>
<path d="M288.2 675.1L277.2 684.7L287.0 693.5L299.9 683.5L299.8 682.5Z" fill="#efb850"/>
<path d="M323.2 677.7L330.8 675.6L334.7 663.0L333.9 660.0L325.2 657.2L314.7 662.5L312.0 670.0Z" fill="#ea9a97"/>
<path d="M349.9 677.8L351.4 668.0L334.7 663.0L330.8 675.6L340.6 683.9Z" fill="#efb850"/>
<path d="M351.4 668.0L349.9 677.8L361.2 683.4L367.0 680.9L364.2 671.7L359.1 661.5Z" fill="#ea9a97"/>
<path d="M323.2 677.7L312.0 670.0L307.7 671.1L299.8 682.5L299.9 683.5L309.5 694.9L317.8 692.7Z" fill="#efb850"/>
<path d="M330.3 700.7L336.3 698.4L341.0 691.6L340.6 683.9L330.8 675.6L323.2 677.7L317.8 692.7Z" fill="#efb850"/>
<path d="M299.9 683.5L287.0 693.5L287.0 699.1L291.5 704.5L307.9 698.6L309.5 694.9Z" fill="#efb850"/>
<path d="M341.0 691.6L356.8 695.5L361.2 683.4L349.9 677.8L340.6 683.9Z" fill="#ea9a97"/>
<path d="M356.8 695.5L361.6 704.0L367.0 706.2L373.8 698.0L375.0 688.4L367.8 683.6L367.0 680.9L361.2 683.4Z" fill="#2f2660"/>
<path d="M336.3 698.4L347.6 711.1L361.6 704.0L356.8 695.5L341.0 691.6Z" fill="#dc3051"/>
<path d="M221.9 695.6L227.2 694.3L228.4 681.8L228.4 681.7L212.9 680.3L213.7 686.0L212.5 689.9Z" fill="#dc3051"/>
<path d="M228.4 681.8L227.2 694.3L231.4 697.0L240.2 694.6L240.9 686.6L235.4 681.8Z" fill="#ea9a97"/>
<path d="M240.2 694.6L243.7 697.4L255.3 695.1L255.3 684.8L249.3 682.8L240.9 686.6Z" fill="#bf967b"/>
<path d="M255.3 684.8L255.3 695.1L260.4 700.7L267.9 700.7L273.3 684.5L269.6 680.9L261.8 679.9Z" fill="#dc3051"/>
<path d="M218.9 704.2L221.9 695.6L212.5 689.9L210.1 698.0L211.0 704.6Z" fill="#ea9a97"/>
<path d="M221.9 695.6L218.9 704.2L223.3 710.0L231.4 706.4L231.4 697.0L227.2 694.3Z" fill="#dc3051"/>
<path d="M243.7 706.6L243.7 697.4L240.2 694.6L231.4 697.0L231.4 706.4L238.2 710.9Z" fill="#dc3051"/>
<path d="M255.3 695.1L243.7 697.4L243.7 706.6L254.3 710.2L260.4 700.7Z" fill="#dc3051"/>
<path d="M277.2 684.7L273.3 684.5L267.9 700.7L271.3 703.8L287.0 699.1L287.0 693.5Z" fill="#4b6153"/>
<path d="M260.4 700.7L254.3 710.2L255.7 719.5L257.1 720.7L271.3 719.8L273.8 716.6L271.3 703.8L267.9 700.7Z" fill="#efb850"/>
<path d="M271.3 703.8L273.8 716.6L288.9 716.6L290.9 714.5L291.5 704.5L287.0 699.1Z" fill="#4b6153"/>
<path d="M290.9 714.5L307.2 717.2L311.2 714.3L307.9 698.6L291.5 704.5Z" fill="#efb850"/>
<path d="M309.5 694.9L307.9 698.6L311.2 714.3L316.8 715.6L326.6 712.4L330.3 700.7L317.8 692.7Z" fill="#efb850"/>
<path d="M326.6 712.4L331.7 718.0L344.7 719.1L345.6 718.4L347.6 711.1L336.3 698.4L330.3 700.7Z" fill="#efb850"/>
<path d="M360.9 726.0L360.9 725.9L364.2 712.4L366.5 706.7L367.0 706.2L361.6 704.0L347.6 711.1L345.6 718.4Z" fill="#ea9a97"/>
<path d="M211.0 704.6L212.4 714.6L212.3 717.5L222.2 714.5L223.3 710.0L218.9 704.2Z" fill="#ea9a97"/>
<path d="M231.4 706.4L223.3 710.0L222.2 714.5L228.0 722.0L230.1 722.5L238.2 716.2L238.2 710.9Z" fill="#ea9a97"/>
<path d="M238.2 716.2L245.6 721.2L255.7 719.5L254.3 710.2L243.7 706.6L238.2 710.9Z" fill="#bf967b"/>
<path d="M228.0 722.0L222.2 714.5L212.3 717.5L211.8 727.0L214.6 733.5Z" fill="#ea9a97"/>
<path d="M235.9 734.0L230.1 722.5L228.0 722.0L214.6 733.5L215.7 736.0L217.1 741.5Z" fill="#efb850"/>
<path d="M230.1 722.5L235.9 734.0L240.1 735.7L245.6 721.2L238.2 716.2Z" fill="#dc3051"/>
<path d="M240.1 735.7L243.8 740.0L256.1 734.4L257.1 720.7L255.7 719.5L245.6 721.2Z" fill="#dc3051"/>
<path d="M271.3 719.8L257.1 720.7L256.1 734.4L263.7 738.8L274.5 734.7Z" fill="#4b6153"/>
<path d="M277.3 736.2L290.5 734.6L291.4 733.7L288.9 716.6L273.8 716.6L271.3 719.8L274.5 734.7Z" fill="#4b6153"/>
<path d="M290.9 714.5L288.9 716.6L291.4 733.7L304.4 733.7L307.2 717.2Z" fill="#efb850"/>
<path d="M307.2 717.2L304.4 733.7L308.4 736.9L313.3 738.2L320.5 732.2L316.8 715.6L311.2 714.3Z" fill="#efb850"/>
<path d="M320.5 732.2L329.0 731.6L331.7 718.0L326.6 712.4L316.8 715.6Z" fill="#efb850"/>
<path d="M342.3 732.2L344.7 719.1L331.7 718.0L329.0 731.6L335.3 736.3Z" fill="#efb850"/>
<path d="M342.3 732.2L356.9 738.1L357.0 737.0L360.9 726.0L345.6 718.4L344.7 719.1Z" fill="#ea9a97"/>
<path d="M243.8 740.0L240.1 735.7L235.9 734.0L217.1 741.5L218.6 747.2L220.8 751.2L243.2 752.5Z" fill="#bf967b"/>
<path d="M263.7 738.8L256.1 734.4L243.8 740.0L243.2 752.5L262.5 753.7Z" fill="#bf967b"/>
<path d="M277.3 736.2L274.5 734.7L263.7 738.8L262.5 753.7L277.3 754.5Z" fill="#dc3051"/>
<path d="M290.5 734.6L277.3 736.2L277.3 754.5L290.0 755.3L292.2 755.5Z" fill="#dc3051"/>
<path d="M291.4 733.7L290.5 734.6L292.2 755.5L297.6 755.9L308.4 736.9L304.4 733.7Z" fill="#4b6153"/>
<path d="M297.6 755.9L311.9 757.0L315.0 741.8L313.3 738.2L308.4 736.9Z" fill="#4b6153"/>
<path d="M311.9 757.0L321.4 757.7L327.7 748.8L315.0 741.8Z" fill="#efb850"/>
<path d="M335.3 736.3L329.0 731.6L320.5 732.2L313.3 738.2L315.0 741.8L327.7 748.8L334.5 747.9L335.3 746.4Z" fill="#4b6153"/>
<path d="M342.3 732.2L335.3 736.3L335.3 746.4L336.1 745.0L355.2 750.6L356.9 738.1Z" fill="#ea9a97"/>
<path d="M327.7 748.8L321.4 757.7L323.7 757.9L325.4 766.4L331.6 767.3L332.7 758.5L331.0 754.0L334.5 747.9Z" fill="#4b6153"/>
</g>
<g transform="translate(438.4,0)" stroke="#4a4a4a" stroke-width="0.3" stroke-linejoin="round">
<path d="M195.7 569.4L202.9 553.8L202.8 552.6L192.2 552.6L195.0 569.7Z" fill="#e1e3f1"/>
<path d="M210.8 570.8L211.6 569.5L211.3 567.3L202.9 553.8L195.7 569.4Z" fill="#dedede"/>
<path d="M202.9 553.8L211.3 567.3L217.2 552.5L202.8 552.6Z" fill="#dedede"/>
<path d="M211.3 567.3L211.6 569.5L220.7 567.5L220.7 552.5L217.2 552.5Z" fill="#e1e3f1"/>
<path d="M220.7 567.5L228.1 569.4L231.2 564.6L230.1 552.4L220.7 552.5Z" fill="#dedede"/>
<path d="M231.2 564.6L245.9 564.6L245.0 552.4L230.1 552.4Z" fill="#dedede"/>
<path d="M245.9 564.6L258.6 564.6L259.5 563.3L258.3 552.3L245.0 552.4Z" fill="#dedede"/>
<path d="M259.5 563.3L270.8 562.1L271.6 552.3L258.3 552.3Z" fill="#dedede"/>
<path d="M280.9 564.9L289.7 552.2L271.6 552.3L270.8 562.1L271.3 562.8Z" fill="#dedede"/>
<path d="M242.8 574.1L245.4 570.6L245.9 564.6L231.2 564.6L228.1 569.4L228.8 571.8Z" fill="#dedede"/>
<path d="M256.4 577.9L260.5 574.2L258.6 564.6L245.9 564.6L245.4 570.6Z" fill="#dedede"/>
<path d="M260.5 574.2L269.0 575.8L269.7 575.3L271.3 562.8L270.8 562.1L259.5 563.3L258.6 564.6Z" fill="#dedede"/>
<path d="M271.3 562.8L269.7 575.3L278.2 575.7L283.3 570.2L283.0 570.0L280.6 565.3L280.9 564.9Z" fill="#dedede"/>
<path d="M211.5 578.2L210.8 570.8L195.7 569.4L195.0 569.7L197.6 585.1Z" fill="#e1e3f1"/>
<path d="M211.5 578.2L214.8 582.0L227.8 580.7L228.8 571.8L228.1 569.4L220.7 567.5L211.6 569.5L210.8 570.8Z" fill="#dedede"/>
<path d="M227.8 580.7L229.1 582.4L242.0 581.6L242.8 574.1L228.8 571.8Z" fill="#dedede"/>
<path d="M255.4 581.8L256.4 577.9L245.4 570.6L242.8 574.1L242.0 581.6L243.8 583.9Z" fill="#dedede"/>
<path d="M269.0 586.5L269.0 575.8L260.5 574.2L256.4 577.9L255.4 581.8L260.2 591.8Z" fill="#e1e3f1"/>
<path d="M281.9 585.8L278.2 575.7L269.7 575.3L269.0 575.8L269.0 586.5L278.2 589.7Z" fill="#e1e3f1"/>
<path d="M291.6 575.4L283.3 570.2L278.2 575.7L281.9 585.8L288.4 585.0Z" fill="#e1e3f1"/>
<path d="M288.4 585.0L293.1 588.9L301.6 585.6L299.7 580.9L292.5 576.0L291.6 575.4Z" fill="#e1e3f1"/>
<path d="M213.9 592.0L214.8 582.0L211.5 578.2L197.6 585.1L198.1 588.0L199.0 593.5Z" fill="#877fb8"/>
<path d="M226.2 595.3L229.5 592.6L229.1 582.4L227.8 580.7L214.8 582.0L213.9 592.0L216.3 594.9Z" fill="#c7c5e1"/>
<path d="M243.8 583.9L242.0 581.6L229.1 582.4L229.5 592.6L236.2 594.6L243.6 588.3Z" fill="#dedede"/>
<path d="M250.9 595.0L260.1 592.1L260.2 591.8L255.4 581.8L243.8 583.9L243.6 588.3Z" fill="#dedede"/>
<path d="M246.9 602.1L250.9 595.0L243.6 588.3L236.2 594.6L240.7 602.8L241.0 602.9Z" fill="#dedede"/>
<path d="M269.7 602.1L271.7 601.2L278.5 593.3L278.2 589.7L269.0 586.5L260.2 591.8L260.1 592.1L263.5 599.6Z" fill="#c7c5e1"/>
<path d="M293.1 588.9L288.4 585.0L281.9 585.8L278.2 589.7L278.5 593.3L285.8 599.5L293.1 597.3Z" fill="#c7c5e1"/>
<path d="M293.1 588.9L293.1 597.3L298.0 601.2L309.5 597.8L304.5 592.8L301.6 585.6Z" fill="#aaa3d0"/>
<path d="M213.7 604.0L216.3 594.9L213.9 592.0L199.0 593.5L200.6 603.2Z" fill="#c7c5e1"/>
<path d="M216.6 610.5L227.3 606.3L226.2 595.3L216.3 594.9L213.7 604.0Z" fill="#dedede"/>
<path d="M227.3 606.3L230.5 608.2L240.7 602.8L236.2 594.6L229.5 592.6L226.2 595.3Z" fill="#aaa3d0"/>
<path d="M260.1 592.1L250.9 595.0L246.9 602.1L252.5 608.1L256.8 608.5L263.5 599.6Z" fill="#c7c5e1"/>
<path d="M271.1 611.3L269.7 602.1L263.5 599.6L256.8 608.5L259.6 613.0L267.7 615.7Z" fill="#aaa3d0"/>
<path d="M282.0 612.6L284.0 610.7L283.5 606.4L271.7 601.2L269.7 602.1L271.1 611.3Z" fill="#877fb8"/>
<path d="M278.5 593.3L271.7 601.2L283.5 606.4L285.8 599.5Z" fill="#dedede"/>
<path d="M294.4 612.6L296.2 611.4L298.0 601.2L293.1 597.3L285.8 599.5L283.5 606.4L284.0 610.7Z" fill="#aaa3d0"/>
<path d="M298.0 601.2L296.2 611.4L308.6 615.7L309.2 615.4L310.9 599.1L309.5 597.8Z" fill="#aaa3d0"/>
<path d="M322.8 611.8L318.8 607.0L310.9 599.1L309.2 615.4L316.5 616.0Z" fill="#e1e3f1"/>
<path d="M216.4 611.2L216.6 610.5L213.7 604.0L200.6 603.2L203.0 617.2Z" fill="#dedede"/>
<path d="M217.7 626.0L221.2 621.4L216.4 611.2L203.0 617.2L204.1 623.8Z" fill="#c7c5e1"/>
<path d="M223.2 621.4L231.1 610.8L230.5 608.2L227.3 606.3L216.6 610.5L216.4 611.2L221.2 621.4Z" fill="#c7c5e1"/>
<path d="M241.8 614.0L241.0 602.9L240.7 602.8L230.5 608.2L231.1 610.8L236.2 616.2Z" fill="#3c1a74"/>
<path d="M252.5 608.1L246.9 602.1L241.0 602.9L241.8 614.0L246.9 616.2Z" fill="#c7c5e1"/>
<path d="M247.5 618.0L246.9 616.2L241.8 614.0L236.2 616.2L235.4 619.8L241.9 626.4Z" fill="#c7c5e1"/>
<path d="M259.6 613.0L256.8 608.5L252.5 608.1L246.9 616.2L247.5 618.0L254.6 621.7Z" fill="#aaa3d0"/>
<path d="M261.4 626.4L268.8 622.3L267.7 615.7L259.6 613.0L254.6 621.7L255.3 623.7Z" fill="#e1e3f1"/>
<path d="M273.6 625.4L281.0 622.7L282.0 612.6L271.1 611.3L267.7 615.7L268.8 622.3Z" fill="#aaa3d0"/>
<path d="M288.4 627.1L293.2 624.7L294.4 612.6L284.0 610.7L282.0 612.6L281.0 622.7Z" fill="#877fb8"/>
<path d="M293.2 624.7L298.8 626.7L308.2 617.3L308.6 615.7L296.2 611.4L294.4 612.6Z" fill="#c7c5e1"/>
<path d="M311.8 629.8L316.8 631.7L320.1 631.0L321.3 627.2L316.5 616.0L309.2 615.4L308.6 615.7L308.2 617.3Z" fill="#3c1a74"/>
<path d="M316.5 616.0L321.3 627.2L330.3 620.9L322.8 611.8Z" fill="#7a3b12"/>
<path d="M218.5 635.6L217.7 626.0L204.1 623.8L204.1 623.9L206.6 638.9Z" fill="#dedede"/>
<path d="M228.8 623.6L223.2 621.4L221.2 621.4L217.7 626.0L218.5 635.6L221.4 637.8L233.2 635.3Z" fill="#877fb8"/>
<path d="M235.7 635.0L242.0 626.7L241.9 626.4L235.4 619.8L228.8 623.6L233.2 635.3L234.2 635.7Z" fill="#dedede"/>
<path d="M235.4 619.8L236.2 616.2L231.1 610.8L223.2 621.4L228.8 623.6Z" fill="#c7c5e1"/>
<path d="M242.0 626.7L250.0 630.1L255.3 623.7L254.6 621.7L247.5 618.0L241.9 626.4Z" fill="#aaa3d0"/>
<path d="M250.4 639.2L251.7 637.7L250.0 630.1L242.0 626.7L235.7 635.0Z" fill="#aaa3d0"/>
<path d="M251.7 637.7L261.4 636.8L261.4 626.4L255.3 623.7L250.0 630.1Z" fill="#e1e3f1"/>
<path d="M261.4 626.4L261.4 636.8L263.8 638.6L273.6 635.9L273.6 625.4L268.8 622.3Z" fill="#c7c5e1"/>
<path d="M273.6 635.9L276.8 638.2L287.1 635.2L288.4 627.1L281.0 622.7L273.6 625.4Z" fill="#877fb8"/>
<path d="M287.1 635.2L293.4 642.2L301.7 637.3L302.8 632.8L298.8 626.7L293.2 624.7L288.4 627.1Z" fill="#5f4698"/>
<path d="M302.8 632.8L311.8 629.8L308.2 617.3L298.8 626.7Z" fill="#e1e3f1"/>
<path d="M301.7 637.3L311.0 645.2L316.8 631.7L311.8 629.8L302.8 632.8Z" fill="#dedede"/>
<path d="M321.3 627.2L320.1 631.0L326.8 637.0L341.2 632.2L340.3 631.0L330.8 621.5L330.3 620.9Z" fill="#5f4698"/>
<path d="M311.4 646.4L321.1 647.3L326.2 641.2L326.8 637.0L320.1 631.0L316.8 631.7L311.0 645.2Z" fill="#aaa3d0"/>
<path d="M221.4 649.2L221.4 637.8L218.5 635.6L206.6 638.9L208.9 652.5L208.9 652.6Z" fill="#aaa3d0"/>
<path d="M233.2 635.3L221.4 637.8L221.4 649.2L226.7 653.4L233.7 651.0L235.9 645.8L234.2 635.7Z" fill="#aaa3d0"/>
<path d="M235.9 645.8L249.3 645.8L250.4 639.2L235.7 635.0L234.2 635.7Z" fill="#877fb8"/>
<path d="M233.7 651.0L241.9 658.3L246.3 657.6L251.2 650.5L249.3 645.8L235.9 645.8Z" fill="#c7c5e1"/>
<path d="M251.2 650.5L257.0 651.5L263.8 645.6L263.8 638.6L261.4 636.8L251.7 637.7L250.4 639.2L249.3 645.8Z" fill="#c7c5e1"/>
<path d="M277.8 649.1L276.8 638.2L273.6 635.9L263.8 638.6L263.8 645.6L273.7 652.7L276.7 651.4Z" fill="#c7c5e1"/>
<path d="M293.0 644.8L293.4 642.2L287.1 635.2L276.8 638.2L277.8 649.1Z" fill="#aaa3d0"/>
<path d="M298.8 653.8L308.5 651.4L311.4 646.4L311.0 645.2L301.7 637.3L293.4 642.2L293.0 644.8L295.1 650.2Z" fill="#5f4698"/>
<path d="M326.8 637.0L326.2 641.2L338.5 652.3L345.5 638.3L341.2 632.2Z" fill="#3c1a74"/>
<path d="M333.9 660.0L338.5 652.6L338.5 652.3L326.2 641.2L321.1 647.3L325.2 657.2Z" fill="#3c1a74"/>
<path d="M273.7 652.7L263.8 645.6L257.0 651.5L263.2 661.5L268.4 661.1Z" fill="#5f4698"/>
<path d="M283.4 657.3L295.1 650.2L293.0 644.8L277.8 649.1L276.7 651.4Z" fill="#e1e3f1"/>
<path d="M338.5 652.3L338.5 652.6L357.0 657.3L357.0 657.3L352.3 647.8L345.5 638.3Z" fill="#c7c5e1"/>
<path d="M225.5 661.4L226.7 653.4L221.4 649.2L208.9 652.6L210.7 664.7Z" fill="#c7c5e1"/>
<path d="M241.9 658.3L233.7 651.0L226.7 653.4L225.5 661.4L229.1 667.1L237.0 667.1Z" fill="#aaa3d0"/>
<path d="M228.4 668.7L229.1 667.1L225.5 661.4L210.7 664.7L212.2 675.2Z" fill="#c7c5e1"/>
<path d="M240.9 672.1L245.6 673.0L253.4 667.1L246.3 657.6L241.9 658.3L237.0 667.1Z" fill="#e1e3f1"/>
<path d="M256.7 667.6L263.2 661.5L257.0 651.5L251.2 650.5L246.3 657.6L253.4 667.1Z" fill="#dedede"/>
<path d="M273.7 652.7L268.4 661.1L273.7 668.2L286.3 667.0L283.4 657.3L276.7 651.4Z" fill="#dedede"/>
<path d="M283.4 657.3L286.3 667.0L286.5 667.1L297.5 662.1L298.8 653.8L295.1 650.2Z" fill="#e1e3f1"/>
<path d="M308.5 651.4L314.7 662.5L325.2 657.2L321.1 647.3L311.4 646.4Z" fill="#aaa3d0"/>
<path d="M359.1 661.5L357.0 657.3L338.5 652.6L333.9 660.0L334.7 663.0L351.4 668.0Z" fill="#c7c5e1"/>
<path d="M314.7 662.5L308.5 651.4L298.8 653.8L297.5 662.1L307.7 671.1L312.0 670.0Z" fill="#dedede"/>
<path d="M263.2 661.5L256.7 667.6L261.8 679.9L269.6 680.9L273.7 668.2L268.4 661.1Z" fill="#c7c5e1"/>
<path d="M249.3 682.8L255.3 684.8L261.8 679.9L256.7 667.6L253.4 667.1L245.6 673.0Z" fill="#dedede"/>
<path d="M229.1 667.1L228.4 668.7L228.4 681.7L228.4 681.8L235.4 681.8L240.9 672.1L237.0 667.1Z" fill="#dedede"/>
<path d="M228.4 681.7L228.4 668.7L212.2 675.2L212.9 680.3Z" fill="#dedede"/>
<path d="M235.4 681.8L240.9 686.6L249.3 682.8L245.6 673.0L240.9 672.1Z" fill="#dedede"/>
<path d="M288.2 675.1L286.5 667.1L286.3 667.0L273.7 668.2L269.6 680.9L273.3 684.5L277.2 684.7Z" fill="#aaa3d0"/>
<path d="M307.7 671.1L297.5 662.1L286.5 667.1L288.2 675.1L299.8 682.5Z" fill="#e1e3f1"/>
<path d="M288.2 675.1L277.2 684.7L287.0 693.5L299.9 683.5L299.8 682.5Z" fill="#c7c5e1"/>
<path d="M323.2 677.7L330.8 675.6L334.7 663.0L333.9 660.0L325.2 657.2L314.7 662.5L312.0 670.0Z" fill="#c7c5e1"/>
<path d="M349.9 677.8L351.4 668.0L334.7 663.0L330.8 675.6L340.6 683.9Z" fill="#e1e3f1"/>
<path d="M351.4 668.0L349.9 677.8L361.2 683.4L367.0 680.9L364.2 671.7L359.1 661.5Z" fill="#c7c5e1"/>
<path d="M323.2 677.7L312.0 670.0L307.7 671.1L299.8 682.5L299.9 683.5L309.5 694.9L317.8 692.7Z" fill="#e1e3f1"/>
<path d="M330.3 700.7L336.3 698.4L341.0 691.6L340.6 683.9L330.8 675.6L323.2 677.7L317.8 692.7Z" fill="#e1e3f1"/>
<path d="M299.9 683.5L287.0 693.5L287.0 699.1L291.5 704.5L307.9 698.6L309.5 694.9Z" fill="#c7c5e1"/>
<path d="M341.0 691.6L356.8 695.5L361.2 683.4L349.9 677.8L340.6 683.9Z" fill="#7a3b12"/>
<path d="M356.8 695.5L361.6 704.0L367.0 706.2L373.8 698.0L375.0 688.4L367.8 683.6L367.0 680.9L361.2 683.4Z" fill="#aaa3d0"/>
<path d="M336.3 698.4L347.6 711.1L361.6 704.0L356.8 695.5L341.0 691.6Z" fill="#c7c5e1"/>
<path d="M221.9 695.6L227.2 694.3L228.4 681.8L228.4 681.7L212.9 680.3L213.7 686.0L212.5 689.9Z" fill="#e1e3f1"/>
<path d="M228.4 681.8L227.2 694.3L231.4 697.0L240.2 694.6L240.9 686.6L235.4 681.8Z" fill="#dedede"/>
<path d="M240.2 694.6L243.7 697.4L255.3 695.1L255.3 684.8L249.3 682.8L240.9 686.6Z" fill="#c7c5e1"/>
<path d="M255.3 684.8L255.3 695.1L260.4 700.7L267.9 700.7L273.3 684.5L269.6 680.9L261.8 679.9Z" fill="#e1e3f1"/>
<path d="M218.9 704.2L221.9 695.6L212.5 689.9L210.1 698.0L211.0 704.6Z" fill="#dedede"/>
<path d="M221.9 695.6L218.9 704.2L223.3 710.0L231.4 706.4L231.4 697.0L227.2 694.3Z" fill="#aaa3d0"/>
<path d="M243.7 706.6L243.7 697.4L240.2 694.6L231.4 697.0L231.4 706.4L238.2 710.9Z" fill="#e1e3f1"/>
<path d="M255.3 695.1L243.7 697.4L243.7 706.6L254.3 710.2L260.4 700.7Z" fill="#c7c5e1"/>
<path d="M277.2 684.7L273.3 684.5L267.9 700.7L271.3 703.8L287.0 699.1L287.0 693.5Z" fill="#dedede"/>
<path d="M260.4 700.7L254.3 710.2L255.7 719.5L257.1 720.7L271.3 719.8L273.8 716.6L271.3 703.8L267.9 700.7Z" fill="#e1e3f1"/>
<path d="M271.3 703.8L273.8 716.6L288.9 716.6L290.9 714.5L291.5 704.5L287.0 699.1Z" fill="#dedede"/>
<path d="M290.9 714.5L307.2 717.2L311.2 714.3L307.9 698.6L291.5 704.5Z" fill="#dedede"/>
<path d="M309.5 694.9L307.9 698.6L311.2 714.3L316.8 715.6L326.6 712.4L330.3 700.7L317.8 692.7Z" fill="#dedede"/>
<path d="M326.6 712.4L331.7 718.0L344.7 719.1L345.6 718.4L347.6 711.1L336.3 698.4L330.3 700.7Z" fill="#c7c5e1"/>
<path d="M360.9 726.0L360.9 725.9L364.2 712.4L366.5 706.7L367.0 706.2L361.6 704.0L347.6 711.1L345.6 718.4Z" fill="#c7c5e1"/>
<path d="M211.0 704.6L212.4 714.6L212.3 717.5L222.2 714.5L223.3 710.0L218.9 704.2Z" fill="#c7c5e1"/>
<path d="M231.4 706.4L223.3 710.0L222.2 714.5L228.0 722.0L230.1 722.5L238.2 716.2L238.2 710.9Z" fill="#c7c5e1"/>
<path d="M238.2 716.2L245.6 721.2L255.7 719.5L254.3 710.2L243.7 706.6L238.2 710.9Z" fill="#c7c5e1"/>
<path d="M228.0 722.0L222.2 714.5L212.3 717.5L211.8 727.0L214.6 733.5Z" fill="#dedede"/>
<path d="M235.9 734.0L230.1 722.5L228.0 722.0L214.6 733.5L215.7 736.0L217.1 741.5Z" fill="#dedede"/>
<path d="M230.1 722.5L235.9 734.0L240.1 735.7L245.6 721.2L238.2 716.2Z" fill="#e1e3f1"/>
<path d="M240.1 735.7L243.8 740.0L256.1 734.4L257.1 720.7L255.7 719.5L245.6 721.2Z" fill="#aaa3d0"/>
<path d="M271.3 719.8L257.1 720.7L256.1 734.4L263.7 738.8L274.5 734.7Z" fill="#dedede"/>
<path d="M277.3 736.2L290.5 734.6L291.4 733.7L288.9 716.6L273.8 716.6L271.3 719.8L274.5 734.7Z" fill="#dedede"/>
<path d="M290.9 714.5L288.9 716.6L291.4 733.7L304.4 733.7L307.2 717.2Z" fill="#dedede"/>
<path d="M307.2 717.2L304.4 733.7L308.4 736.9L313.3 738.2L320.5 732.2L316.8 715.6L311.2 714.3Z" fill="#e1e3f1"/>
<path d="M320.5 732.2L329.0 731.6L331.7 718.0L326.6 712.4L316.8 715.6Z" fill="#e1e3f1"/>
<path d="M342.3 732.2L344.7 719.1L331.7 718.0L329.0 731.6L335.3 736.3Z" fill="#c7c5e1"/>
<path d="M342.3 732.2L356.9 738.1L357.0 737.0L360.9 726.0L345.6 718.4L344.7 719.1Z" fill="#e1e3f1"/>
<path d="M243.8 740.0L240.1 735.7L235.9 734.0L217.1 741.5L218.6 747.2L220.8 751.2L243.2 752.5Z" fill="#aaa3d0"/>
<path d="M263.7 738.8L256.1 734.4L243.8 740.0L243.2 752.5L262.5 753.7Z" fill="#877fb8"/>
<path d="M277.3 736.2L274.5 734.7L263.7 738.8L262.5 753.7L277.3 754.5Z" fill="#c7c5e1"/>
<path d="M290.5 734.6L277.3 736.2L277.3 754.5L290.0 755.3L292.2 755.5Z" fill="#c7c5e1"/>
<path d="M291.4 733.7L290.5 734.6L292.2 755.5L297.6 755.9L308.4 736.9L304.4 733.7Z" fill="#dedede"/>
<path d="M297.6 755.9L311.9 757.0L315.0 741.8L313.3 738.2L308.4 736.9Z" fill="#dedede"/>
<path d="M311.9 757.0L321.4 757.7L327.7 748.8L315.0 741.8Z" fill="#e1e3f1"/>
<path d="M335.3 736.3L329.0 731.6L320.5 732.2L313.3 738.2L315.0 741.8L327.7 748.8L334.5 747.9L335.3 746.4Z" fill="#dedede"/>
<path d="M342.3 732.2L335.3 736.3L335.3 746.4L336.1 745.0L355.2 750.6L356.9 738.1Z" fill="#e1e3f1"/>
<path d="M327.7 748.8L321.4 757.7L323.7 757.9L325.4 766.4L331.6 767.3L332.7 758.5L331.0 754.0L334.5 747.9Z" fill="#dedede"/>
</g>
<text x="202.25" y="798.80" font-size="10.5" fill="#333" font-weight="bold" textLength="167.50" lengthAdjust="spacingAndGlyphs">Population Distribution in 1870</text>
<text x="421.75" y="798.80" font-size="10.5" fill="#333" font-weight="bold" textLength="167.50" lengthAdjust="spacingAndGlyphs">Population Distribution in 1880</text>
<text x="641.00" y="798.80" font-size="10.5" fill="#333" font-weight="bold" textLength="168.00" lengthAdjust="spacingAndGlyphs">Population Change Distribution</text>
<rect x="211.3" y="840.0" width="20.7" height="65.0" fill="#4b6153" stroke="#5a5a5a" stroke-width="0.4"/>
<text x="221.65" y="836.80" font-size="6.8" fill="#555" text-anchor="middle">32</text>
<rect x="237.5" y="870.0" width="20.5" height="35.0" fill="#efb850" stroke="#5a5a5a" stroke-width="0.4"/>
<text x="247.75" y="866.80" font-size="6.8" fill="#555" text-anchor="middle">22</text>
<rect x="263.8" y="825.0" width="20.0" height="80.0" fill="#ea9a97" stroke="#5a5a5a" stroke-width="0.4"/>
<text x="273.80" y="821.80" font-size="6.8" fill="#555" text-anchor="middle">37</text>
<rect x="289.5" y="837.0" width="20.5" height="68.0" fill="#dc3051" stroke="#5a5a5a" stroke-width="0.4"/>
<text x="299.75" y="833.80" font-size="6.8" fill="#555" text-anchor="middle">33</text>
<rect x="430.6" y="875.6" width="20.4" height="29.4" fill="#4b6153" stroke="#5a5a5a" stroke-width="0.4"/>
<text x="440.80" y="872.36" font-size="6.8" fill="#555" text-anchor="middle">21</text>
<rect x="456.8" y="860.7" width="20.9" height="44.3" fill="#efb850" stroke="#5a5a5a" stroke-width="0.4"/>
<text x="467.25" y="857.46" font-size="6.8" fill="#555" text-anchor="middle">26</text>
<rect x="482.6" y="842.8" width="20.4" height="62.2" fill="#ea9a97" stroke="#5a5a5a" stroke-width="0.4"/>
<text x="492.80" y="839.58" font-size="6.8" fill="#555" text-anchor="middle">32</text>
<rect x="508.8" y="824.9" width="20.4" height="80.1" fill="#dc3051" stroke="#5a5a5a" stroke-width="0.4"/>
<text x="519.00" y="821.70" font-size="6.8" fill="#555" text-anchor="middle">38</text>
<rect x="534.6" y="896.4" width="20.0" height="8.6" fill="#bf967b" stroke="#5a5a5a" stroke-width="0.4"/>
<text x="544.60" y="893.22" font-size="6.8" fill="#555" text-anchor="middle">14</text>
<rect x="649.7" y="824.9" width="20.9" height="80.1" fill="#dedede" stroke="#5a5a5a" stroke-width="0.4"/>
<text x="660.15" y="821.70" font-size="6.8" fill="#555" text-anchor="middle">43</text>
<rect x="675.9" y="869.1" width="20.4" height="35.9" fill="#e1e3f1" stroke="#5a5a5a" stroke-width="0.4"/>
<text x="686.10" y="865.90" font-size="6.8" fill="#555" text-anchor="middle">26</text>
<rect x="701.7" y="850.9" width="20.9" height="54.1" fill="#c7c5e1" stroke="#5a5a5a" stroke-width="0.4"/>
<text x="712.15" y="847.70" font-size="6.8" fill="#555" text-anchor="middle">33</text>
<rect x="727.9" y="887.3" width="20.4" height="17.7" fill="#aaa3d0" stroke="#5a5a5a" stroke-width="0.4"/>
<text x="738.10" y="884.10" font-size="6.8" fill="#555" text-anchor="middle">19</text></g>
<!-- gen_br -->
<g><rect x="835" y="473" width="765" height="427" fill="#eeede9"/>
<text x="864.50" y="508.40" font-size="26" fill="#232a40" textLength="251.00" lengthAdjust="spacingAndGlyphs" stroke="#232a40" stroke-width="0.45">WORLD POPULATION</text>
<text x="864.80" y="528.70" font-size="7.6" fill="#333" textLength="105.00" lengthAdjust="spacingAndGlyphs">#MakeoverMonday W6 - 2024</text>
<text x="864.80" y="539.20" font-size="7" fill="#444" font-style="italic" textLength="100.00" lengthAdjust="spacingAndGlyphs">Click on charts to select contry</text>
<text x="1111.00" y="547.80" font-size="6.4" fill="#dc1e3c" text-anchor="middle">India</text>
<rect x="866.2" y="558.5" width="272.6" height="327.2" fill="#f1f0ed"/>
<path d="M866.2 558.5H1138.8" stroke="#dcdbd8" stroke-width="0.8"/>
<path d="M866.2 591.2H1138.8" stroke="#dcdbd8" stroke-width="0.8"/>
<path d="M866.2 623.9H1138.8" stroke="#dcdbd8" stroke-width="0.8"/>
<path d="M866.2 656.7H1138.8" stroke="#dcdbd8" stroke-width="0.8"/>
<path d="M866.2 689.4H1138.8" stroke="#dcdbd8" stroke-width="0.8"/>
<path d="M866.2 722.1H1138.8" stroke="#dcdbd8" stroke-width="0.8"/>
<path d="M866.2 754.8H1138.8" stroke="#dcdbd8" stroke-width="0.8"/>
<path d="M866.2 787.5H1138.8" stroke="#dcdbd8" stroke-width="0.8"/>
<path d="M866.2 820.3H1138.8" stroke="#dcdbd8" stroke-width="0.8"/>
<path d="M866.2 853.0H1138.8" stroke="#dcdbd8" stroke-width="0.8"/>
<path d="M866.2 885.7H1138.8" stroke="#dcdbd8" stroke-width="0.8"/>
<path d="M909.8 558.5V885.7" stroke="#dcdbd8" stroke-width="0.8"/>
<path d="M1084.2 558.5V885.7" stroke="#dcdbd8" stroke-width="0.8"/>
<path d="M1138.8 558.5V885.7" stroke="#dcdbd8" stroke-width="0.8"/>
<path d="M866.4 558.5V885.7" stroke="#7b7b7b" stroke-width="1.6"/>
<path d="M909.8 569.3H1084.2" stroke="#f7f6f4" stroke-width="0.6"/>
<path d="M909.8 580.1H1084.2" stroke="#f7f6f4" stroke-width="0.6"/>
<text x="887.70" y="572.46" font-size="6.6" fill="#222" text-anchor="middle">Density</text>
<text x="887.70" y="582.06" font-size="6.6" fill="#222" text-anchor="middle">(P/Km²)</text>
<text x="1111.50" y="577.26" font-size="6.6" fill="#333" text-anchor="middle">481</text>
<path d="M913.79 582.38h2.5v8.44h-2.5zM917.28 589.66h2.5v1.16h-2.5zM920.76 582.38h2.5v8.44h-2.5zM924.25 573.48h2.5v17.34h-2.5zM927.74 577.18h2.5v13.64h-2.5zM931.23 589.66h2.5v1.16h-2.5zM941.69 587.35h2.5v3.47h-2.5zM945.18 583.54h2.5v7.28h-2.5zM948.67 571.40h2.5v19.42h-2.5zM952.16 568.27h2.5v22.55h-2.5zM955.64 584.69h2.5v6.13h-2.5zM959.13 588.74h2.5v2.08h-2.5zM962.62 572.55h2.5v18.27h-2.5zM966.11 588.16h2.5v2.66h-2.5zM969.60 584.69h2.5v6.13h-2.5zM973.08 577.18h2.5v13.64h-2.5zM976.57 583.19h2.5v7.63h-2.5zM980.06 574.86h2.5v15.96h-2.5zM983.55 587.00h2.5v3.82h-2.5zM987.04 584.35h2.5v6.47h-2.5zM990.52 588.74h2.5v2.08h-2.5zM994.01 579.84h2.5v10.98h-2.5zM997.50 585.85h2.5v4.97h-2.5zM1000.99 586.43h2.5v4.39h-2.5zM1004.48 588.74h2.5v2.08h-2.5zM1007.96 560.41h2.5v30.41h-2.5zM1011.45 577.18h2.5v13.64h-2.5zM1014.94 589.66h2.5v1.16h-2.5zM1018.43 585.85h2.5v4.97h-2.5zM1028.89 585.27h2.5v5.55h-2.5zM1032.38 587.35h2.5v3.47h-2.5zM1035.87 583.54h2.5v7.28h-2.5zM1042.84 586.43h2.5v4.39h-2.5zM1049.82 587.35h2.5v3.47h-2.5zM1053.31 589.66h2.5v1.16h-2.5zM1056.80 586.43h2.5v4.39h-2.5zM1060.28 587.35h2.5v3.47h-2.5zM1063.77 589.66h2.5v1.16h-2.5zM1067.26 585.27h2.5v5.55h-2.5zM1070.75 582.73h2.5v8.09h-2.5zM1074.24 588.74h2.5v2.08h-2.5zM1077.72 578.68h2.5v12.14h-2.5zM1081.21 588.16h2.5v2.66h-2.5z" fill="#3a4a76"/>
<path d="M910.30 563.07h2.5v27.75h-2.5z" fill="#dc1e3c"/>
<path d="M909.8 602.0H1084.2" stroke="#f7f6f4" stroke-width="0.6"/>
<path d="M909.8 612.8H1084.2" stroke="#f7f6f4" stroke-width="0.6"/>
<text x="887.70" y="609.98" font-size="6.6" fill="#222" text-anchor="middle">Fert. Rate</text>
<text x="1111.50" y="609.98" font-size="6.6" fill="#333" text-anchor="middle">2.0</text>
<path d="M913.79 618.11h2.5v5.43h-2.5zM917.28 615.22h2.5v8.32h-2.5zM920.76 613.13h2.5v10.41h-2.5zM924.25 607.12h2.5v16.42h-2.5zM927.74 598.10h2.5v25.44h-2.5zM931.23 615.79h2.5v7.75h-2.5zM934.72 614.29h2.5v9.25h-2.5zM938.20 616.14h2.5v7.40h-2.5zM941.69 614.98h2.5v8.56h-2.5zM945.18 603.65h2.5v19.89h-2.5zM948.67 617.30h2.5v6.24h-2.5zM952.16 610.36h2.5v13.18h-2.5zM955.64 609.67h2.5v13.87h-2.5zM959.13 593.25h2.5v30.29h-2.5zM962.62 614.29h2.5v9.25h-2.5zM966.11 615.45h2.5v8.09h-2.5zM969.60 614.29h2.5v9.25h-2.5zM973.08 616.14h2.5v7.40h-2.5zM976.57 617.30h2.5v6.24h-2.5zM980.06 615.79h2.5v7.75h-2.5zM983.55 600.42h2.5v23.12h-2.5zM987.04 614.98h2.5v8.56h-2.5zM990.52 612.32h2.5v11.22h-2.5zM994.01 617.53h2.5v6.01h-2.5zM997.50 607.35h2.5v16.19h-2.5zM1000.99 613.13h2.5v10.41h-2.5zM1004.48 615.45h2.5v8.09h-2.5zM1007.96 619.26h2.5v4.28h-2.5zM1011.45 601.57h2.5v21.97h-2.5zM1014.94 602.27h2.5v21.27h-2.5zM1018.43 617.30h2.5v6.24h-2.5zM1021.92 614.29h2.5v9.25h-2.5zM1025.40 609.67h2.5v13.87h-2.5zM1028.89 606.54h2.5v17.00h-2.5zM1032.38 601.57h2.5v21.97h-2.5zM1035.87 616.37h2.5v7.17h-2.5zM1039.36 616.14h2.5v7.40h-2.5zM1042.84 612.32h2.5v11.22h-2.5zM1046.33 612.32h2.5v11.22h-2.5zM1049.82 617.30h2.5v6.24h-2.5zM1053.31 598.10h2.5v25.44h-2.5zM1056.80 609.67h2.5v13.87h-2.5zM1060.28 605.39h2.5v18.15h-2.5zM1063.77 613.13h2.5v10.41h-2.5zM1067.26 614.64h2.5v8.90h-2.5zM1070.75 606.20h2.5v17.34h-2.5zM1074.24 601.34h2.5v22.20h-2.5zM1077.72 613.48h2.5v10.06h-2.5zM1081.21 605.04h2.5v18.50h-2.5z" fill="#3a4a76"/>
<path d="M910.30 613.48h2.5v10.06h-2.5z" fill="#dc1e3c"/>
<path d="M909.8 634.7H1084.2" stroke="#f7f6f4" stroke-width="0.6"/>
<path d="M909.8 645.5H1084.2" stroke="#f7f6f4" stroke-width="0.6"/>
<text x="887.70" y="637.90" font-size="6.6" fill="#222" text-anchor="middle">Land Area</text>
<text x="887.70" y="647.50" font-size="6.6" fill="#222" text-anchor="middle">(Km²)</text>
<text x="1111.50" y="642.70" font-size="6.6" fill="#333" text-anchor="middle">2,973,190</text>
<path d="M913.79 638.80h2.5v17.46h-2.5zM917.28 639.38h2.5v16.88h-2.5zM920.76 653.60h2.5v2.66h-2.5zM931.23 641.11h2.5v15.15h-2.5zM938.20 625.85h2.5v30.41h-2.5zM941.69 653.37h2.5v2.89h-2.5zM945.18 655.34h2.5v0.92h-2.5zM959.13 652.44h2.5v3.82h-2.5zM966.11 653.60h2.5v2.66h-2.5zM990.52 654.53h2.5v1.73h-2.5zM1004.48 654.53h2.5v1.73h-2.5zM1014.94 653.60h2.5v2.66h-2.5zM1021.92 651.52h2.5v4.74h-2.5zM1025.40 652.44h2.5v3.82h-2.5zM1039.36 639.38h2.5v16.88h-2.5zM1046.33 652.44h2.5v3.82h-2.5zM1053.31 654.53h2.5v1.73h-2.5zM1063.77 654.53h2.5v1.73h-2.5z" fill="#3a4a76"/>
<path d="M910.30 651.52h2.5v4.74h-2.5z" fill="#dc1e3c"/>
<path d="M909.8 667.5H1084.2" stroke="#f7f6f4" stroke-width="0.6"/>
<path d="M909.8 678.3H1084.2" stroke="#f7f6f4" stroke-width="0.6"/>
<text x="887.70" y="675.42" font-size="6.6" fill="#222" text-anchor="middle">Med. Age</text>
<text x="1111.50" y="675.42" font-size="6.6" fill="#333" text-anchor="middle">28</text>
<path d="M913.79 665.05h2.5v23.93h-2.5zM917.28 665.28h2.5v23.70h-2.5zM920.76 670.25h2.5v18.73h-2.5zM924.25 676.38h2.5v12.60h-2.5zM927.74 678.57h2.5v10.41h-2.5zM931.23 667.59h2.5v21.39h-2.5zM934.72 672.56h2.5v16.42h-2.5zM938.20 665.05h2.5v23.93h-2.5zM941.69 670.25h2.5v18.73h-2.5zM945.18 677.53h2.5v11.45h-2.5zM948.67 658.34h2.5v30.64h-2.5zM952.16 673.72h2.5v15.26h-2.5zM955.64 674.30h2.5v14.68h-2.5zM959.13 679.15h2.5v9.83h-2.5zM962.62 668.75h2.5v20.23h-2.5zM966.11 668.75h2.5v20.23h-2.5zM969.60 669.09h2.5v19.89h-2.5zM973.08 661.23h2.5v27.75h-2.5zM976.57 664.12h2.5v24.86h-2.5zM980.06 664.12h2.5v24.86h-2.5zM983.55 678.34h2.5v10.64h-2.5zM987.04 662.73h2.5v26.25h-2.5zM990.52 671.41h2.5v17.57h-2.5zM994.01 659.03h2.5v29.95h-2.5zM997.50 677.19h2.5v11.79h-2.5zM1000.99 670.25h2.5v18.73h-2.5zM1004.48 669.09h2.5v19.89h-2.5zM1007.96 661.58h2.5v27.40h-2.5zM1011.45 679.15h2.5v9.83h-2.5zM1014.94 677.53h2.5v11.45h-2.5zM1018.43 661.23h2.5v27.75h-2.5zM1021.92 669.09h2.5v19.89h-2.5zM1025.40 671.41h2.5v17.57h-2.5zM1028.89 677.19h2.5v11.79h-2.5zM1032.38 678.57h2.5v10.41h-2.5zM1035.87 664.12h2.5v24.86h-2.5zM1039.36 663.31h2.5v25.67h-2.5zM1042.84 671.06h2.5v17.92h-2.5zM1046.33 670.25h2.5v18.73h-2.5zM1049.82 661.23h2.5v27.75h-2.5zM1053.31 679.15h2.5v9.83h-2.5zM1056.80 672.56h2.5v16.42h-2.5zM1060.28 677.53h2.5v11.45h-2.5zM1063.77 671.06h2.5v17.92h-2.5zM1067.26 669.90h2.5v19.08h-2.5zM1070.75 676.38h2.5v12.60h-2.5zM1074.24 678.57h2.5v10.41h-2.5zM1077.72 674.30h2.5v14.68h-2.5zM1081.21 677.53h2.5v11.45h-2.5z" fill="#3a4a76"/>
<path d="M910.30 671.41h2.5v17.57h-2.5z" fill="#dc1e3c"/>
<path d="M909.8 700.2H1084.2" stroke="#f7f6f4" stroke-width="0.6"/>
<path d="M909.8 711.0H1084.2" stroke="#f7f6f4" stroke-width="0.6"/>
<text x="887.70" y="703.34" font-size="6.6" fill="#222" text-anchor="middle">Migrants</text>
<text x="887.70" y="712.94" font-size="6.6" fill="#222" text-anchor="middle">(net)</text>
<text x="1111.50" y="708.14" font-size="6.6" fill="#333" text-anchor="middle">-486,136</text>
<path d="M1049.82 690.72h2.5v29.48h-2.5z" fill="#3a4a76"/>
<path d="M910.30 719.40h2.5v0.8h-2.5zM913.79 719.40h2.5v0.8h-2.5zM917.28 719.40h2.5v0.8h-2.5zM920.76 719.40h2.5v0.8h-2.5zM924.25 719.40h2.5v0.8h-2.5zM927.74 719.40h2.5v0.8h-2.5zM931.23 719.40h2.5v0.8h-2.5zM934.72 719.40h2.5v0.8h-2.5zM938.20 719.40h2.5v0.8h-2.5zM941.69 719.40h2.5v0.8h-2.5zM945.18 719.40h2.5v0.8h-2.5zM948.67 719.40h2.5v0.8h-2.5zM952.16 719.40h2.5v0.8h-2.5zM955.64 719.40h2.5v0.8h-2.5zM959.13 719.40h2.5v0.8h-2.5zM962.62 719.40h2.5v0.8h-2.5zM966.11 719.40h2.5v0.8h-2.5zM969.60 719.40h2.5v0.8h-2.5zM973.08 719.40h2.5v0.8h-2.5zM976.57 719.40h2.5v0.8h-2.5zM980.06 719.40h2.5v0.8h-2.5zM983.55 719.40h2.5v0.8h-2.5zM987.04 719.40h2.5v0.8h-2.5zM990.52 719.40h2.5v0.8h-2.5zM994.01 719.40h2.5v0.8h-2.5zM997.50 719.40h2.5v0.8h-2.5zM1000.99 719.40h2.5v0.8h-2.5zM1004.48 719.40h2.5v0.8h-2.5zM1007.96 719.40h2.5v0.8h-2.5zM1011.45 719.40h2.5v0.8h-2.5zM1014.94 719.40h2.5v0.8h-2.5zM1018.43 719.40h2.5v0.8h-2.5zM1021.92 719.40h2.5v0.8h-2.5zM1025.40 719.40h2.5v0.8h-2.5zM1028.89 719.40h2.5v0.8h-2.5zM1032.38 719.40h2.5v0.8h-2.5zM1035.87 719.40h2.5v0.8h-2.5zM1039.36 719.40h2.5v0.8h-2.5zM1042.84 719.40h2.5v0.8h-2.5zM1046.33 719.40h2.5v0.8h-2.5zM1053.31 719.40h2.5v0.8h-2.5zM1056.80 719.40h2.5v0.8h-2.5zM1060.28 719.40h2.5v0.8h-2.5zM1063.77 719.40h2.5v0.8h-2.5zM1067.26 719.40h2.5v0.8h-2.5zM1070.75 719.40h2.5v0.8h-2.5zM1074.24 719.40h2.5v0.8h-2.5zM1077.72 719.40h2.5v0.8h-2.5zM1081.21 719.40h2.5v0.8h-2.5z" fill="#98a0bb"/>
<path d="M909.8 732.9H1084.2" stroke="#f7f6f4" stroke-width="0.6"/>
<path d="M909.8 743.7H1084.2" stroke="#f7f6f4" stroke-width="0.6"/>
<text x="887.70" y="736.06" font-size="6.6" fill="#222" text-anchor="middle">Net</text>
<text x="887.70" y="745.66" font-size="6.6" fill="#222" text-anchor="middle">Change</text>
<text x="1111.50" y="740.86" font-size="6.6" fill="#333" text-anchor="middle">11,454,490</text>
<path d="M917.28 743.18h2.5v3.24h-2.5zM920.76 742.60h2.5v3.82h-2.5zM924.25 737.17h2.5v9.25h-2.5zM927.74 736.01h2.5v10.41h-2.5zM931.23 744.34h2.5v2.08h-2.5zM934.72 743.18h2.5v3.24h-2.5zM945.18 740.52h2.5v5.90h-2.5zM952.16 743.18h2.5v3.24h-2.5zM955.64 743.18h2.5v3.24h-2.5zM959.13 739.71h2.5v6.71h-2.5zM983.55 742.60h2.5v3.82h-2.5zM997.50 743.99h2.5v2.43h-2.5zM1011.45 743.76h2.5v2.66h-2.5zM1014.94 744.34h2.5v2.08h-2.5zM1028.89 744.92h2.5v1.50h-2.5zM1032.38 743.99h2.5v2.43h-2.5zM1035.87 743.99h2.5v2.43h-2.5zM1049.82 746.42h2.5v5.78h-2.5zM1053.31 744.34h2.5v2.08h-2.5z" fill="#3a4a76"/>
<path d="M910.30 723.53h2.5v22.89h-2.5z" fill="#dc1e3c"/>
<path d="M913.79 745.62h2.5v0.8h-2.5zM938.20 745.62h2.5v0.8h-2.5zM941.69 745.62h2.5v0.8h-2.5zM948.67 745.62h2.5v0.8h-2.5zM962.62 745.62h2.5v0.8h-2.5zM966.11 745.62h2.5v0.8h-2.5zM969.60 745.62h2.5v0.8h-2.5zM973.08 745.62h2.5v0.8h-2.5zM976.57 745.62h2.5v0.8h-2.5zM980.06 745.62h2.5v0.8h-2.5zM987.04 745.62h2.5v0.8h-2.5zM990.52 745.62h2.5v0.8h-2.5zM994.01 745.62h2.5v0.8h-2.5zM1000.99 745.62h2.5v0.8h-2.5zM1004.48 745.62h2.5v0.8h-2.5zM1007.96 745.62h2.5v0.8h-2.5zM1018.43 745.62h2.5v0.8h-2.5zM1021.92 745.62h2.5v0.8h-2.5zM1025.40 745.62h2.5v0.8h-2.5zM1039.36 745.62h2.5v0.8h-2.5zM1042.84 745.62h2.5v0.8h-2.5zM1046.33 745.62h2.5v0.8h-2.5zM1056.80 745.62h2.5v0.8h-2.5zM1060.28 745.62h2.5v0.8h-2.5zM1063.77 745.62h2.5v0.8h-2.5zM1067.26 745.62h2.5v0.8h-2.5zM1070.75 745.62h2.5v0.8h-2.5zM1074.24 745.62h2.5v0.8h-2.5zM1077.72 745.62h2.5v0.8h-2.5zM1081.21 745.62h2.5v0.8h-2.5z" fill="#98a0bb"/>
<path d="M909.8 765.6H1084.2" stroke="#f7f6f4" stroke-width="0.6"/>
<path d="M909.8 776.4H1084.2" stroke="#f7f6f4" stroke-width="0.6"/>
<text x="887.70" y="768.78" font-size="6.6" fill="#222" text-anchor="middle">Population</text>
<text x="887.70" y="778.38" font-size="6.6" fill="#222" text-anchor="middle">(2023)</text>
<text x="1111.50" y="773.58" font-size="6.6" fill="#333" text-anchor="middle">1,428,627,663</text>
<path d="M913.79 756.15h2.5v30.99h-2.5zM917.28 779.86h2.5v7.28h-2.5zM920.76 781.24h2.5v5.90h-2.5zM924.25 782.17h2.5v4.97h-2.5zM927.74 782.40h2.5v4.74h-2.5zM931.23 782.40h2.5v4.74h-2.5zM934.72 783.32h2.5v3.82h-2.5zM938.20 784.25h2.5v2.89h-2.5zM941.69 784.71h2.5v2.43h-2.5zM945.18 784.83h2.5v2.31h-2.5zM948.67 784.83h2.5v2.31h-2.5zM952.16 784.94h2.5v2.20h-2.5zM955.64 784.94h2.5v2.20h-2.5zM959.13 785.17h2.5v1.97h-2.5zM962.62 785.29h2.5v1.85h-2.5zM966.11 785.41h2.5v1.73h-2.5zM969.60 785.64h2.5v1.50h-2.5zM973.08 785.75h2.5v1.39h-2.5zM976.57 785.75h2.5v1.39h-2.5zM980.06 785.87h2.5v1.27h-2.5zM983.55 785.87h2.5v1.27h-2.5zM987.04 785.87h2.5v1.27h-2.5zM990.52 786.10h2.5v1.04h-2.5zM994.01 786.22h2.5v0.92h-2.5zM997.50 786.22h2.5v0.92h-2.5zM1000.99 786.22h2.5v0.92h-2.5zM1004.48 786.22h2.5v0.92h-2.5zM1007.96 786.34h2.5v0.8h-2.5zM1011.45 786.34h2.5v0.8h-2.5zM1014.94 786.34h2.5v0.8h-2.5zM1018.43 786.34h2.5v0.8h-2.5zM1021.92 786.34h2.5v0.8h-2.5zM1025.40 786.34h2.5v0.8h-2.5zM1028.89 786.34h2.5v0.8h-2.5zM1032.38 786.34h2.5v0.8h-2.5zM1035.87 786.34h2.5v0.8h-2.5zM1039.36 786.34h2.5v0.8h-2.5zM1042.84 786.34h2.5v0.8h-2.5z" fill="#3a4a76"/>
<path d="M910.30 756.15h2.5v30.99h-2.5z" fill="#dc1e3c"/>
<path d="M1046.33 786.34h2.5v0.8h-2.5zM1049.82 786.34h2.5v0.8h-2.5zM1053.31 786.34h2.5v0.8h-2.5zM1056.80 786.34h2.5v0.8h-2.5zM1060.28 786.34h2.5v0.8h-2.5zM1063.77 786.34h2.5v0.8h-2.5zM1067.26 786.34h2.5v0.8h-2.5zM1070.75 786.34h2.5v0.8h-2.5zM1074.24 786.34h2.5v0.8h-2.5zM1077.72 786.34h2.5v0.8h-2.5zM1081.21 786.34h2.5v0.8h-2.5z" fill="#98a0bb"/>
<path d="M909.8 798.3H1084.2" stroke="#f7f6f4" stroke-width="0.6"/>
<path d="M909.8 809.1H1084.2" stroke="#f7f6f4" stroke-width="0.6"/>
<text x="887.70" y="801.50" font-size="6.6" fill="#222" text-anchor="middle">Urban Pop</text>
<text x="887.70" y="811.10" font-size="6.6" fill="#222" text-anchor="middle">%</text>
<text x="1111.50" y="806.30" font-size="6.6" fill="#333" text-anchor="middle">36%</text>
<path d="M913.79 798.24h2.5v21.62h-2.5zM917.28 793.04h2.5v26.82h-2.5zM920.76 800.32h2.5v19.54h-2.5zM924.25 808.64h2.5v11.22h-2.5zM927.74 801.94h2.5v17.92h-2.5zM931.23 791.30h2.5v28.56h-2.5zM934.72 806.33h2.5v13.53h-2.5zM938.20 795.00h2.5v24.86h-2.5zM941.69 791.30h2.5v28.56h-2.5zM945.18 813.04h2.5v6.82h-2.5zM948.67 789.22h2.5v30.64h-2.5zM952.16 804.25h2.5v15.61h-2.5zM955.64 806.33h2.5v13.53h-2.5zM959.13 805.18h2.5v14.68h-2.5zM962.62 807.26h2.5v12.60h-2.5zM966.11 795.70h2.5v24.16h-2.5zM969.60 794.42h2.5v25.44h-2.5zM973.08 794.42h2.5v25.44h-2.5zM976.57 802.63h2.5v17.23h-2.5zM980.06 792.11h2.5v27.75h-2.5zM983.55 807.72h2.5v12.14h-2.5zM987.04 792.11h2.5v27.75h-2.5zM990.52 797.08h2.5v22.78h-2.5zM994.01 796.16h2.5v23.70h-2.5zM997.50 810.03h2.5v9.83h-2.5zM1000.99 809.22h2.5v10.64h-2.5zM1004.48 793.38h2.5v26.48h-2.5zM1007.96 793.04h2.5v26.82h-2.5zM1011.45 810.38h2.5v9.48h-2.5zM1014.94 808.64h2.5v11.22h-2.5zM1018.43 793.38h2.5v26.48h-2.5zM1021.92 789.22h2.5v30.64h-2.5zM1025.40 795.00h2.5v24.86h-2.5zM1028.89 797.08h2.5v22.78h-2.5zM1032.38 811.30h2.5v8.56h-2.5zM1035.87 801.94h2.5v17.92h-2.5zM1039.36 793.38h2.5v26.48h-2.5zM1042.84 798.24h2.5v21.62h-2.5zM1046.33 793.04h2.5v26.82h-2.5zM1049.82 793.04h2.5v26.82h-2.5zM1053.31 798.01h2.5v21.85h-2.5zM1056.80 804.02h2.5v15.84h-2.5zM1060.28 808.07h2.5v11.79h-2.5zM1063.77 794.19h2.5v25.67h-2.5zM1067.26 794.42h2.5v25.44h-2.5zM1070.75 801.13h2.5v18.73h-2.5zM1074.24 807.26h2.5v12.60h-2.5zM1077.72 813.27h2.5v6.59h-2.5zM1081.21 807.26h2.5v12.60h-2.5z" fill="#3a4a76"/>
<path d="M910.30 808.07h2.5v11.79h-2.5z" fill="#dc1e3c"/>
<path d="M909.8 831.1H1084.2" stroke="#f7f6f4" stroke-width="0.6"/>
<path d="M909.8 841.9H1084.2" stroke="#f7f6f4" stroke-width="0.6"/>
<text x="887.70" y="834.22" font-size="6.6" fill="#222" text-anchor="middle">World</text>
<text x="887.70" y="843.82" font-size="6.6" fill="#222" text-anchor="middle">Share</text>
<text x="1111.50" y="839.02" font-size="6.6" fill="#333" text-anchor="middle">17.76%</text>
<path d="M913.79 821.59h2.5v30.99h-2.5zM917.28 845.30h2.5v7.28h-2.5zM920.76 846.68h2.5v5.90h-2.5zM924.25 847.61h2.5v4.97h-2.5zM927.74 847.84h2.5v4.74h-2.5zM931.23 847.84h2.5v4.74h-2.5zM934.72 848.76h2.5v3.82h-2.5zM938.20 849.69h2.5v2.89h-2.5zM941.69 850.15h2.5v2.43h-2.5zM945.18 850.27h2.5v2.31h-2.5zM948.67 850.27h2.5v2.31h-2.5zM952.16 850.38h2.5v2.20h-2.5zM955.64 850.38h2.5v2.20h-2.5zM959.13 850.61h2.5v1.97h-2.5zM962.62 850.73h2.5v1.85h-2.5zM966.11 850.85h2.5v1.73h-2.5zM969.60 851.08h2.5v1.50h-2.5zM973.08 851.19h2.5v1.39h-2.5zM976.57 851.19h2.5v1.39h-2.5zM980.06 851.31h2.5v1.27h-2.5zM983.55 851.31h2.5v1.27h-2.5zM987.04 851.31h2.5v1.27h-2.5zM990.52 851.54h2.5v1.04h-2.5zM994.01 851.66h2.5v0.92h-2.5zM997.50 851.66h2.5v0.92h-2.5zM1000.99 851.66h2.5v0.92h-2.5zM1004.48 851.66h2.5v0.92h-2.5zM1007.96 851.78h2.5v0.8h-2.5zM1011.45 851.78h2.5v0.8h-2.5zM1014.94 851.78h2.5v0.8h-2.5zM1018.43 851.78h2.5v0.8h-2.5zM1021.92 851.78h2.5v0.8h-2.5zM1025.40 851.78h2.5v0.8h-2.5zM1028.89 851.78h2.5v0.8h-2.5zM1032.38 851.78h2.5v0.8h-2.5zM1035.87 851.78h2.5v0.8h-2.5zM1039.36 851.78h2.5v0.8h-2.5zM1042.84 851.78h2.5v0.8h-2.5z" fill="#3a4a76"/>
<path d="M910.30 821.59h2.5v30.99h-2.5z" fill="#dc1e3c"/>
<path d="M1046.33 851.78h2.5v0.8h-2.5zM1049.82 851.78h2.5v0.8h-2.5zM1053.31 851.78h2.5v0.8h-2.5zM1056.80 851.78h2.5v0.8h-2.5zM1060.28 851.78h2.5v0.8h-2.5zM1063.77 851.78h2.5v0.8h-2.5zM1067.26 851.78h2.5v0.8h-2.5zM1070.75 851.78h2.5v0.8h-2.5zM1074.24 851.78h2.5v0.8h-2.5zM1077.72 851.78h2.5v0.8h-2.5zM1081.21 851.78h2.5v0.8h-2.5z" fill="#98a0bb"/>
<path d="M909.8 863.8H1084.2" stroke="#f7f6f4" stroke-width="0.6"/>
<path d="M909.8 874.6H1084.2" stroke="#f7f6f4" stroke-width="0.6"/>
<text x="887.70" y="866.94" font-size="6.6" fill="#222" text-anchor="middle">Yearly</text>
<text x="887.70" y="876.54" font-size="6.6" fill="#222" text-anchor="middle">Change</text>
<text x="1111.50" y="871.74" font-size="6.6" fill="#333" text-anchor="middle">0.81%</text>
<path d="M920.76 861.94h2.5v1.16h-2.5zM924.25 857.90h2.5v5.20h-2.5zM927.74 856.74h2.5v6.36h-2.5zM931.23 862.18h2.5v0.92h-2.5zM934.72 860.79h2.5v2.31h-2.5zM941.69 861.94h2.5v1.16h-2.5zM945.18 855.93h2.5v7.17h-2.5zM948.67 863.10h2.5v1.16h-2.5zM952.16 859.86h2.5v3.24h-2.5zM955.64 859.28h2.5v3.82h-2.5zM959.13 854.43h2.5v8.67h-2.5zM962.62 861.94h2.5v1.16h-2.5zM966.11 861.71h2.5v1.39h-2.5zM969.60 861.94h2.5v1.16h-2.5zM980.06 862.18h2.5v0.92h-2.5zM983.55 855.01h2.5v8.09h-2.5zM990.52 861.02h2.5v2.08h-2.5zM994.01 863.10h2.5v0.92h-2.5zM997.50 858.13h2.5v4.97h-2.5zM1000.99 861.71h2.5v1.39h-2.5zM1004.48 862.18h2.5v0.92h-2.5zM1011.45 855.93h2.5v7.17h-2.5zM1014.94 855.93h2.5v7.17h-2.5zM1021.92 861.94h2.5v1.16h-2.5zM1025.40 859.05h2.5v4.05h-2.5zM1028.89 857.32h2.5v5.78h-2.5zM1032.38 856.16h2.5v6.94h-2.5zM1035.87 855.93h2.5v7.17h-2.5zM1039.36 861.02h2.5v2.08h-2.5zM1042.84 860.56h2.5v2.54h-2.5zM1046.33 859.63h2.5v3.47h-2.5zM1049.82 863.10h2.5v20.58h-2.5zM1053.31 855.01h2.5v8.09h-2.5zM1056.80 859.63h2.5v3.47h-2.5zM1060.28 857.32h2.5v5.78h-2.5zM1063.77 861.02h2.5v2.08h-2.5zM1067.26 860.56h2.5v2.54h-2.5zM1070.75 858.13h2.5v4.97h-2.5zM1074.24 855.93h2.5v7.17h-2.5zM1077.72 860.79h2.5v2.31h-2.5zM1081.21 856.74h2.5v6.36h-2.5z" fill="#3a4a76"/>
<path d="M910.30 860.79h2.5v2.31h-2.5z" fill="#dc1e3c"/>
<path d="M913.79 862.30h2.5v0.8h-2.5zM917.28 862.30h2.5v0.8h-2.5zM938.20 862.30h2.5v0.8h-2.5zM973.08 862.30h2.5v0.8h-2.5zM976.57 862.30h2.5v0.8h-2.5zM987.04 862.30h2.5v0.8h-2.5zM1007.96 862.30h2.5v0.8h-2.5zM1018.43 862.30h2.5v0.8h-2.5z" fill="#98a0bb"/>
<path d="M1195 498.3H1546M1195 526.3H1546" stroke="#dddcd8" stroke-width="0.7"/>
<rect x="1210.5" y="498.8" width="39.5" height="27" fill="#e8173a"/>
<path d="M1211.0 498.8V525.8M1249.5 498.8V525.8" stroke="#5a2530" stroke-width="1"/>
<text x="1230.25" y="514.40" font-size="5.8" fill="#fff" text-anchor="middle">1 - 50</text>
<rect x="1281.9" y="498.8" width="37.0" height="27" fill="#2a2f45"/>
<text x="1300.40" y="514.40" font-size="5.8" fill="#fff" text-anchor="middle">51 - 100</text>
<rect x="1351.8" y="498.8" width="37.1" height="27" fill="#2a2f45"/>
<text x="1370.35" y="514.40" font-size="5.8" fill="#fff" text-anchor="middle">101 - 150</text>
<rect x="1422" y="498.8" width="37.0" height="27" fill="#2a2f45"/>
<text x="1440.50" y="514.40" font-size="5.8" fill="#fff" text-anchor="middle">151 - 200</text>
<rect x="1492.7" y="498.8" width="37.0" height="27" fill="#2a2f45"/>
<text x="1511.20" y="514.40" font-size="5.8" fill="#fff" text-anchor="middle">201 - 234</text>
<text x="1543.60" y="537.60" font-size="6.4" fill="#666" font-style="italic" text-anchor="end" textLength="108.40" lengthAdjust="spacingAndGlyphs">Countries Tiers by Size Population</text>
<g fill="#5b6a8c"><circle cx="1370.8" cy="674.5" r="1.00"/><circle cx="1370.8" cy="664.3" r="1.67"/><circle cx="1370.8" cy="654.1" r="2.38"/><circle cx="1370.8" cy="643.5" r="4.46"/><circle cx="1370.8" cy="633.3" r="3.34"/><circle cx="1370.8" cy="622.3" r="1.17"/><circle cx="1370.8" cy="612.1" r="2.42"/><circle cx="1370.8" cy="602.2" r="3.76"/><circle cx="1370.8" cy="591.7" r="2.67"/><circle cx="1370.8" cy="581.1" r="3.42"/><circle cx="1383.8" cy="676.1" r="1.04"/><circle cx="1386.3" cy="666.3" r="1.36"/><circle cx="1388.8" cy="656.4" r="2.18"/><circle cx="1391.5" cy="646.1" r="4.75"/><circle cx="1394.0" cy="636.2" r="3.87"/><circle cx="1396.7" cy="625.6" r="3.00"/><circle cx="1399.3" cy="615.7" r="2.41"/><circle cx="1401.7" cy="606.1" r="3.46"/><circle cx="1404.3" cy="595.9" r="2.34"/><circle cx="1407.0" cy="585.7" r="3.56"/><circle cx="1390.0" cy="678.2" r="1.05"/><circle cx="1393.8" cy="668.7" r="1.38"/><circle cx="1397.5" cy="659.2" r="2.38"/><circle cx="1401.4" cy="649.3" r="4.74"/><circle cx="1405.2" cy="639.9" r="4.18"/><circle cx="1409.2" cy="629.6" r="2.79"/><circle cx="1413.0" cy="620.2" r="2.40"/><circle cx="1416.6" cy="610.9" r="4.25"/><circle cx="1420.5" cy="601.2" r="2.30"/><circle cx="1424.4" cy="591.3" r="3.21"/><circle cx="1395.9" cy="681.0" r="1.07"/><circle cx="1400.9" cy="672.0" r="1.74"/><circle cx="1405.8" cy="663.1" r="2.07"/><circle cx="1410.9" cy="653.8" r="4.63"/><circle cx="1415.8" cy="644.9" r="3.75"/><circle cx="1421.1" cy="635.2" r="1.30"/><circle cx="1426.0" cy="626.3" r="2.56"/><circle cx="1430.8" cy="617.6" r="4.33"/><circle cx="1435.8" cy="608.4" r="2.55"/><circle cx="1440.9" cy="599.1" r="3.58"/><circle cx="1401.5" cy="684.5" r="1.09"/><circle cx="1407.5" cy="676.2" r="1.45"/><circle cx="1413.5" cy="668.0" r="2.12"/><circle cx="1419.7" cy="659.4" r="4.49"/><circle cx="1425.7" cy="651.2" r="3.26"/><circle cx="1432.2" cy="642.3" r="0.83"/><circle cx="1438.2" cy="634.0" r="2.64"/><circle cx="1444.0" cy="626.0" r="3.92"/><circle cx="1450.2" cy="617.5" r="2.20"/><circle cx="1456.4" cy="608.9" r="3.44"/><circle cx="1406.6" cy="688.7" r="1.11"/><circle cx="1413.5" cy="681.2" r="1.45"/><circle cx="1420.5" cy="673.8" r="2.39"/><circle cx="1427.8" cy="666.1" r="4.44"/><circle cx="1434.8" cy="658.6" r="3.65"/><circle cx="1442.3" cy="650.6" r="0.99"/><circle cx="1449.3" cy="643.2" r="2.96"/><circle cx="1456.0" cy="636.0" r="3.27"/><circle cx="1463.2" cy="628.3" r="2.69"/><circle cx="1470.5" cy="620.6" r="3.11"/><circle cx="1411.0" cy="693.5" r="1.13"/><circle cx="1418.9" cy="687.0" r="1.72"/><circle cx="1426.8" cy="680.5" r="1.91"/><circle cx="1434.9" cy="673.7" r="4.69"/><circle cx="1442.8" cy="667.2" r="4.28"/><circle cx="1451.3" cy="660.2" r="2.87"/><circle cx="1459.1" cy="653.7" r="2.41"/><circle cx="1466.8" cy="647.4" r="3.26"/><circle cx="1474.8" cy="640.7" r="2.29"/><circle cx="1483.0" cy="633.9" r="3.58"/><circle cx="1414.9" cy="698.8" r="1.14"/><circle cx="1423.5" cy="693.3" r="1.68"/><circle cx="1432.1" cy="687.8" r="2.46"/><circle cx="1441.1" cy="682.2" r="4.58"/><circle cx="1449.7" cy="676.7" r="3.39"/><circle cx="1459.0" cy="670.8" r="0.94"/><circle cx="1467.6" cy="665.3" r="2.82"/><circle cx="1476.0" cy="660.0" r="4.13"/><circle cx="1484.8" cy="654.4" r="2.25"/><circle cx="1493.8" cy="648.7" r="3.47"/><circle cx="1418.1" cy="704.5" r="1.16"/><circle cx="1427.3" cy="700.2" r="1.73"/><circle cx="1436.5" cy="695.8" r="1.92"/><circle cx="1446.1" cy="691.3" r="4.75"/><circle cx="1455.4" cy="687.0" r="4.06"/><circle cx="1465.3" cy="682.3" r="3.54"/><circle cx="1474.5" cy="678.0" r="2.89"/><circle cx="1483.5" cy="673.7" r="4.30"/><circle cx="1493.0" cy="669.3" r="2.37"/><circle cx="1502.6" cy="664.8" r="3.56"/><circle cx="1420.5" cy="710.6" r="1.18"/><circle cx="1430.2" cy="707.5" r="1.46"/><circle cx="1439.9" cy="704.3" r="2.09"/><circle cx="1450.0" cy="701.1" r="4.63"/><circle cx="1459.7" cy="697.9" r="4.28"/><circle cx="1470.1" cy="694.5" r="1.10"/><circle cx="1479.8" cy="691.4" r="2.95"/><circle cx="1489.3" cy="688.3" r="4.40"/><circle cx="1499.2" cy="685.1" r="2.28"/><circle cx="1509.3" cy="681.8" r="3.12"/><circle cx="1422.1" cy="717.0" r="1.20"/><circle cx="1432.1" cy="715.1" r="1.57"/><circle cx="1442.2" cy="713.2" r="2.14"/><circle cx="1452.6" cy="711.2" r="4.46"/><circle cx="1462.6" cy="709.3" r="3.00"/><circle cx="1473.4" cy="707.2" r="1.27"/><circle cx="1483.4" cy="705.3" r="2.76"/><circle cx="1493.1" cy="703.5" r="3.71"/><circle cx="1503.5" cy="701.5" r="2.23"/><circle cx="1513.9" cy="699.5" r="3.56"/><circle cx="1422.9" cy="723.5" r="1.22"/><circle cx="1433.1" cy="722.9" r="1.55"/><circle cx="1443.3" cy="722.2" r="2.40"/><circle cx="1453.9" cy="721.6" r="4.90"/><circle cx="1464.1" cy="720.9" r="4.40"/><circle cx="1475.0" cy="720.2" r="1.18"/><circle cx="1485.2" cy="719.6" r="2.90"/><circle cx="1495.1" cy="719.0" r="4.15"/><circle cx="1505.6" cy="718.3" r="2.25"/><circle cx="1516.2" cy="717.7" r="3.32"/><circle cx="1422.9" cy="730.1" r="1.23"/><circle cx="1433.1" cy="730.7" r="1.72"/><circle cx="1443.3" cy="731.4" r="2.08"/><circle cx="1453.9" cy="732.0" r="4.55"/><circle cx="1464.1" cy="732.7" r="3.52"/><circle cx="1475.0" cy="733.4" r="1.14"/><circle cx="1485.2" cy="734.0" r="3.18"/><circle cx="1495.1" cy="734.6" r="3.74"/><circle cx="1505.6" cy="735.3" r="2.44"/><circle cx="1516.2" cy="735.9" r="3.46"/><circle cx="1422.1" cy="736.6" r="1.25"/><circle cx="1432.1" cy="738.5" r="1.45"/><circle cx="1442.2" cy="740.4" r="2.14"/><circle cx="1452.6" cy="742.4" r="4.54"/><circle cx="1462.6" cy="744.3" r="3.39"/><circle cx="1473.4" cy="746.4" r="1.20"/><circle cx="1483.4" cy="748.3" r="3.17"/><circle cx="1493.1" cy="750.1" r="3.95"/><circle cx="1503.5" cy="752.1" r="2.45"/><circle cx="1513.9" cy="754.1" r="3.27"/><circle cx="1420.5" cy="743.0" r="1.27"/><circle cx="1430.2" cy="746.1" r="1.44"/><circle cx="1439.9" cy="749.3" r="2.37"/><circle cx="1450.0" cy="752.5" r="4.42"/><circle cx="1459.7" cy="755.7" r="3.46"/><circle cx="1470.1" cy="759.1" r="1.39"/><circle cx="1479.8" cy="762.2" r="3.02"/><circle cx="1489.3" cy="765.3" r="4.03"/><circle cx="1499.2" cy="768.5" r="2.53"/><circle cx="1509.3" cy="771.8" r="3.48"/><circle cx="1418.1" cy="749.1" r="1.29"/><circle cx="1427.3" cy="753.4" r="1.65"/><circle cx="1436.5" cy="757.8" r="2.07"/><circle cx="1446.1" cy="762.3" r="4.66"/><circle cx="1455.4" cy="766.6" r="3.34"/><circle cx="1465.3" cy="771.3" r="1.08"/><circle cx="1474.5" cy="775.6" r="2.64"/><circle cx="1483.5" cy="779.9" r="4.33"/><circle cx="1493.0" cy="784.3" r="2.52"/><circle cx="1502.6" cy="788.8" r="3.39"/><circle cx="1414.9" cy="754.8" r="1.31"/><circle cx="1423.5" cy="760.3" r="1.57"/><circle cx="1432.1" cy="765.8" r="2.05"/><circle cx="1441.1" cy="771.4" r="4.66"/><circle cx="1449.7" cy="776.9" r="4.02"/><circle cx="1459.0" cy="782.8" r="1.36"/><circle cx="1467.6" cy="788.3" r="2.92"/><circle cx="1476.0" cy="793.6" r="4.16"/><circle cx="1484.8" cy="799.2" r="2.37"/><circle cx="1493.8" cy="804.9" r="3.42"/><circle cx="1411.0" cy="760.1" r="1.32"/><circle cx="1418.9" cy="766.6" r="1.71"/><circle cx="1426.8" cy="773.1" r="2.11"/><circle cx="1434.9" cy="779.9" r="4.65"/><circle cx="1442.8" cy="786.4" r="4.09"/><circle cx="1451.3" cy="793.4" r="1.08"/><circle cx="1459.1" cy="799.9" r="3.18"/><circle cx="1466.8" cy="806.2" r="4.35"/><circle cx="1474.8" cy="812.9" r="2.46"/><circle cx="1483.0" cy="819.7" r="3.36"/><circle cx="1406.6" cy="764.9" r="1.34"/><circle cx="1413.5" cy="772.4" r="1.72"/><circle cx="1420.5" cy="779.8" r="2.46"/><circle cx="1427.8" cy="787.5" r="4.83"/><circle cx="1434.8" cy="795.0" r="4.09"/><circle cx="1442.3" cy="803.0" r="1.09"/><circle cx="1449.3" cy="810.4" r="2.98"/><circle cx="1456.0" cy="817.6" r="3.41"/><circle cx="1463.2" cy="825.3" r="2.59"/><circle cx="1470.5" cy="833.0" r="3.39"/><circle cx="1401.5" cy="769.1" r="1.36"/><circle cx="1407.5" cy="777.4" r="1.51"/><circle cx="1413.5" cy="785.6" r="2.27"/><circle cx="1419.7" cy="794.2" r="4.77"/><circle cx="1425.7" cy="802.4" r="3.61"/><circle cx="1432.2" cy="811.3" r="1.09"/><circle cx="1438.2" cy="819.6" r="2.42"/><circle cx="1444.0" cy="827.6" r="3.39"/><circle cx="1450.2" cy="836.1" r="2.42"/><circle cx="1456.4" cy="844.7" r="3.43"/><circle cx="1395.9" cy="772.6" r="1.38"/><circle cx="1400.9" cy="781.6" r="1.64"/><circle cx="1405.8" cy="790.5" r="2.28"/><circle cx="1410.9" cy="799.8" r="4.77"/><circle cx="1415.8" cy="808.7" r="4.23"/><circle cx="1421.1" cy="818.4" r="0.89"/><circle cx="1426.0" cy="827.3" r="2.44"/><circle cx="1430.8" cy="836.0" r="3.36"/><circle cx="1435.8" cy="845.2" r="2.36"/><circle cx="1440.9" cy="854.5" r="3.19"/><circle cx="1390.0" cy="775.4" r="1.40"/><circle cx="1393.8" cy="784.9" r="1.32"/><circle cx="1397.5" cy="794.4" r="2.18"/><circle cx="1401.4" cy="804.3" r="4.44"/><circle cx="1405.2" cy="813.7" r="3.31"/><circle cx="1409.2" cy="824.0" r="1.04"/><circle cx="1413.0" cy="833.4" r="2.59"/><circle cx="1416.6" cy="842.7" r="4.28"/><circle cx="1420.5" cy="852.4" r="2.20"/><circle cx="1424.4" cy="862.3" r="3.30"/><circle cx="1383.8" cy="777.5" r="1.41"/><circle cx="1386.3" cy="787.3" r="1.51"/><circle cx="1388.8" cy="797.2" r="1.97"/><circle cx="1391.5" cy="807.5" r="4.80"/><circle cx="1394.0" cy="817.4" r="4.23"/><circle cx="1396.7" cy="828.0" r="0.81"/><circle cx="1399.3" cy="837.9" r="2.89"/><circle cx="1401.7" cy="847.5" r="3.31"/><circle cx="1404.3" cy="857.7" r="2.47"/><circle cx="1407.0" cy="867.9" r="3.27"/><circle cx="1377.3" cy="778.7" r="1.43"/><circle cx="1378.6" cy="788.8" r="1.78"/><circle cx="1379.9" cy="798.9" r="2.39"/><circle cx="1381.2" cy="809.4" r="4.60"/><circle cx="1382.5" cy="819.6" r="3.94"/><circle cx="1383.8" cy="830.5" r="1.24"/><circle cx="1385.1" cy="840.6" r="2.70"/><circle cx="1386.4" cy="850.4" r="3.37"/><circle cx="1387.7" cy="860.8" r="2.50"/><circle cx="1389.0" cy="871.4" r="3.38"/><circle cx="1370.8" cy="779.1" r="1.45"/><circle cx="1370.8" cy="789.3" r="1.78"/><circle cx="1370.8" cy="799.5" r="2.27"/><circle cx="1370.8" cy="810.1" r="4.88"/><circle cx="1370.8" cy="820.3" r="3.99"/><circle cx="1370.8" cy="831.3" r="0.80"/><circle cx="1370.8" cy="841.5" r="2.49"/><circle cx="1370.8" cy="851.4" r="3.88"/><circle cx="1370.8" cy="861.9" r="2.51"/><circle cx="1370.8" cy="872.5" r="3.17"/><circle cx="1364.2" cy="778.7" r="1.47"/><circle cx="1362.9" cy="788.8" r="1.75"/><circle cx="1361.6" cy="798.9" r="2.13"/><circle cx="1360.3" cy="809.4" r="4.47"/><circle cx="1359.0" cy="819.6" r="3.18"/><circle cx="1357.7" cy="830.5" r="0.92"/><circle cx="1356.4" cy="840.6" r="3.18"/><circle cx="1355.1" cy="850.4" r="3.66"/><circle cx="1353.8" cy="860.8" r="2.68"/><circle cx="1352.5" cy="871.4" r="3.56"/><circle cx="1357.7" cy="777.5" r="1.49"/><circle cx="1355.2" cy="787.3" r="1.43"/><circle cx="1352.7" cy="797.2" r="2.49"/><circle cx="1350.0" cy="807.5" r="4.63"/><circle cx="1347.5" cy="817.4" r="3.22"/><circle cx="1344.8" cy="828.0" r="0.93"/><circle cx="1342.2" cy="837.9" r="3.19"/><circle cx="1339.8" cy="847.5" r="3.79"/><circle cx="1337.2" cy="857.7" r="2.34"/><circle cx="1334.5" cy="867.9" r="3.34"/><circle cx="1351.5" cy="775.4" r="1.50"/><circle cx="1347.7" cy="784.9" r="1.61"/><circle cx="1344.0" cy="794.4" r="2.17"/><circle cx="1340.1" cy="804.3" r="4.65"/><circle cx="1336.3" cy="813.7" r="4.16"/><circle cx="1332.3" cy="824.0" r="1.32"/><circle cx="1328.5" cy="833.4" r="2.41"/><circle cx="1324.9" cy="842.7" r="3.84"/><circle cx="1321.0" cy="852.4" r="2.34"/><circle cx="1317.1" cy="862.3" r="3.57"/><circle cx="1345.6" cy="772.6" r="1.52"/><circle cx="1340.6" cy="781.6" r="1.42"/><circle cx="1335.7" cy="790.5" r="2.06"/><circle cx="1330.6" cy="799.8" r="4.83"/><circle cx="1325.7" cy="808.7" r="4.18"/><circle cx="1320.4" cy="818.4" r="0.92"/><circle cx="1315.5" cy="827.3" r="2.89"/><circle cx="1310.7" cy="836.0" r="3.77"/><circle cx="1305.7" cy="845.2" r="2.52"/><circle cx="1300.6" cy="854.5" r="3.40"/><circle cx="1340.0" cy="769.1" r="1.54"/><circle cx="1334.0" cy="777.4" r="1.36"/><circle cx="1328.0" cy="785.6" r="2.36"/><circle cx="1321.8" cy="794.2" r="4.42"/><circle cx="1315.8" cy="802.4" r="3.16"/><circle cx="1309.3" cy="811.3" r="0.93"/><circle cx="1303.3" cy="819.6" r="2.64"/><circle cx="1297.5" cy="827.6" r="3.84"/><circle cx="1291.3" cy="836.1" r="2.43"/><circle cx="1285.1" cy="844.7" r="3.28"/><circle cx="1334.9" cy="764.9" r="1.56"/><circle cx="1328.0" cy="772.4" r="1.60"/><circle cx="1321.0" cy="779.8" r="1.92"/><circle cx="1313.7" cy="787.5" r="4.46"/><circle cx="1306.7" cy="795.0" r="3.26"/><circle cx="1299.2" cy="803.0" r="1.40"/><circle cx="1292.2" cy="810.4" r="3.11"/><circle cx="1285.5" cy="817.6" r="3.85"/><circle cx="1278.3" cy="825.3" r="2.21"/><circle cx="1271.0" cy="833.0" r="3.49"/><circle cx="1330.5" cy="760.1" r="1.58"/><circle cx="1322.6" cy="766.6" r="1.59"/><circle cx="1314.7" cy="773.1" r="2.32"/><circle cx="1306.6" cy="779.9" r="4.83"/><circle cx="1298.7" cy="786.4" r="4.16"/><circle cx="1290.2" cy="793.4" r="1.16"/><circle cx="1282.4" cy="799.9" r="2.71"/><circle cx="1274.7" cy="806.2" r="3.67"/><circle cx="1266.7" cy="812.9" r="2.63"/><circle cx="1258.5" cy="819.7" r="3.20"/><circle cx="1326.6" cy="754.8" r="1.59"/><circle cx="1318.0" cy="760.3" r="1.72"/><circle cx="1309.4" cy="765.8" r="1.94"/><circle cx="1300.4" cy="771.4" r="4.65"/><circle cx="1291.8" cy="776.9" r="4.40"/><circle cx="1282.5" cy="782.8" r="1.28"/><circle cx="1273.9" cy="788.3" r="2.63"/><circle cx="1265.5" cy="793.6" r="4.14"/><circle cx="1256.7" cy="799.2" r="2.66"/><circle cx="1247.7" cy="804.9" r="3.17"/><circle cx="1323.4" cy="749.1" r="1.61"/><circle cx="1314.2" cy="753.4" r="1.57"/><circle cx="1305.0" cy="757.8" r="2.20"/><circle cx="1295.4" cy="762.3" r="4.60"/><circle cx="1286.1" cy="766.6" r="4.06"/><circle cx="1276.2" cy="771.3" r="1.31"/><circle cx="1267.0" cy="775.6" r="3.05"/><circle cx="1258.0" cy="779.9" r="3.28"/><circle cx="1248.5" cy="784.3" r="2.32"/><circle cx="1238.9" cy="788.8" r="3.51"/><circle cx="1321.0" cy="743.0" r="1.63"/><circle cx="1311.3" cy="746.1" r="1.63"/><circle cx="1301.6" cy="749.3" r="1.92"/><circle cx="1291.5" cy="752.5" r="4.47"/><circle cx="1281.8" cy="755.7" r="3.94"/><circle cx="1271.4" cy="759.1" r="1.20"/><circle cx="1261.7" cy="762.2" r="2.96"/><circle cx="1252.2" cy="765.3" r="3.26"/><circle cx="1242.3" cy="768.5" r="2.62"/><circle cx="1232.2" cy="771.8" r="3.21"/><circle cx="1319.4" cy="736.6" r="1.65"/><circle cx="1309.4" cy="738.5" r="1.78"/><circle cx="1299.3" cy="740.4" r="2.33"/><circle cx="1288.9" cy="742.4" r="4.44"/><circle cx="1278.9" cy="744.3" r="3.10"/><circle cx="1268.1" cy="746.4" r="1.17"/><circle cx="1258.1" cy="748.3" r="2.52"/><circle cx="1248.4" cy="750.1" r="3.93"/><circle cx="1238.0" cy="752.1" r="2.41"/><circle cx="1227.6" cy="754.1" r="3.18"/><circle cx="1318.6" cy="730.1" r="1.67"/><circle cx="1308.4" cy="730.7" r="1.32"/><circle cx="1298.2" cy="731.4" r="1.96"/><circle cx="1287.6" cy="732.0" r="4.77"/><circle cx="1277.4" cy="732.7" r="3.65"/><circle cx="1266.5" cy="733.4" r="0.82"/><circle cx="1256.3" cy="734.0" r="2.86"/><circle cx="1246.4" cy="734.6" r="4.09"/><circle cx="1235.9" cy="735.3" r="2.64"/><circle cx="1225.3" cy="735.9" r="3.17"/><circle cx="1318.6" cy="723.5" r="1.68"/><circle cx="1308.4" cy="722.9" r="1.46"/><circle cx="1298.2" cy="722.2" r="2.26"/><circle cx="1287.6" cy="721.6" r="4.79"/><circle cx="1277.4" cy="720.9" r="4.16"/><circle cx="1266.5" cy="720.2" r="2.89"/><circle cx="1256.3" cy="719.6" r="2.44"/><circle cx="1246.4" cy="719.0" r="4.04"/><circle cx="1235.9" cy="718.3" r="2.28"/><circle cx="1225.3" cy="717.7" r="3.42"/><circle cx="1319.4" cy="717.0" r="1.70"/><circle cx="1309.4" cy="715.1" r="1.76"/><circle cx="1299.3" cy="713.2" r="2.23"/><circle cx="1288.9" cy="711.2" r="4.61"/><circle cx="1278.9" cy="709.3" r="3.87"/><circle cx="1268.1" cy="707.2" r="1.02"/><circle cx="1258.1" cy="705.3" r="2.60"/><circle cx="1248.4" cy="703.5" r="4.10"/><circle cx="1238.0" cy="701.5" r="2.46"/><circle cx="1227.6" cy="699.5" r="3.17"/><circle cx="1321.0" cy="710.6" r="1.72"/><circle cx="1311.3" cy="707.5" r="1.49"/><circle cx="1301.6" cy="704.3" r="2.34"/><circle cx="1291.5" cy="701.1" r="4.63"/><circle cx="1281.8" cy="697.9" r="4.18"/><circle cx="1271.4" cy="694.5" r="1.34"/><circle cx="1261.7" cy="691.4" r="2.47"/><circle cx="1252.2" cy="688.3" r="4.00"/><circle cx="1242.3" cy="685.1" r="2.25"/><circle cx="1232.2" cy="681.8" r="3.16"/><circle cx="1323.4" cy="704.5" r="1.74"/><circle cx="1314.2" cy="700.2" r="1.42"/><circle cx="1305.0" cy="695.8" r="2.43"/><circle cx="1295.4" cy="691.3" r="4.83"/><circle cx="1286.1" cy="687.0" r="4.18"/><circle cx="1276.2" cy="682.3" r="1.12"/><circle cx="1267.0" cy="678.0" r="2.42"/><circle cx="1258.0" cy="673.7" r="4.07"/><circle cx="1248.5" cy="669.3" r="2.23"/><circle cx="1238.9" cy="664.8" r="3.18"/><circle cx="1326.6" cy="698.8" r="1.76"/><circle cx="1318.0" cy="693.3" r="1.64"/><circle cx="1309.4" cy="687.8" r="2.03"/><circle cx="1300.4" cy="682.2" r="4.42"/><circle cx="1291.8" cy="676.7" r="3.88"/><circle cx="1282.5" cy="670.8" r="1.25"/><circle cx="1273.9" cy="665.3" r="3.06"/><circle cx="1265.5" cy="660.0" r="3.37"/><circle cx="1256.7" cy="654.4" r="2.51"/><circle cx="1247.7" cy="648.7" r="3.28"/><circle cx="1330.5" cy="693.5" r="1.77"/><circle cx="1322.6" cy="687.0" r="1.47"/><circle cx="1314.7" cy="680.5" r="2.27"/><circle cx="1306.6" cy="673.7" r="4.58"/><circle cx="1298.7" cy="667.2" r="3.53"/><circle cx="1290.2" cy="660.2" r="0.85"/><circle cx="1282.4" cy="653.7" r="3.06"/><circle cx="1274.7" cy="647.4" r="3.98"/><circle cx="1266.7" cy="640.7" r="2.60"/><circle cx="1258.5" cy="633.9" r="3.32"/><circle cx="1334.9" cy="688.7" r="1.79"/><circle cx="1328.0" cy="681.2" r="1.56"/><circle cx="1321.0" cy="673.8" r="2.26"/><circle cx="1313.7" cy="666.1" r="4.46"/><circle cx="1306.7" cy="658.6" r="3.29"/><circle cx="1299.2" cy="650.6" r="0.96"/><circle cx="1292.2" cy="643.2" r="2.48"/><circle cx="1285.5" cy="636.0" r="3.24"/><circle cx="1278.3" cy="628.3" r="2.30"/><circle cx="1271.0" cy="620.6" r="3.12"/><circle cx="1340.0" cy="684.5" r="1.81"/><circle cx="1334.0" cy="676.2" r="1.54"/><circle cx="1328.0" cy="668.0" r="2.36"/><circle cx="1321.8" cy="659.4" r="4.61"/><circle cx="1315.8" cy="651.2" r="4.11"/><circle cx="1309.3" cy="642.3" r="1.34"/><circle cx="1303.3" cy="634.0" r="2.90"/><circle cx="1297.5" cy="626.0" r="3.71"/><circle cx="1291.3" cy="617.5" r="2.43"/><circle cx="1285.1" cy="608.9" r="3.15"/><circle cx="1345.6" cy="681.0" r="1.83"/><circle cx="1340.6" cy="672.0" r="1.38"/><circle cx="1335.7" cy="663.1" r="2.12"/><circle cx="1330.6" cy="653.8" r="4.64"/><circle cx="1325.7" cy="644.9" r="4.09"/><circle cx="1320.4" cy="635.2" r="0.86"/><circle cx="1315.5" cy="626.3" r="2.60"/><circle cx="1310.7" cy="617.6" r="3.53"/><circle cx="1305.7" cy="608.4" r="2.28"/><circle cx="1300.6" cy="599.1" r="3.24"/><circle cx="1351.5" cy="678.2" r="1.85"/><circle cx="1347.7" cy="668.7" r="1.54"/><circle cx="1344.0" cy="659.2" r="1.92"/><circle cx="1340.1" cy="649.3" r="4.49"/><circle cx="1336.3" cy="639.9" r="3.70"/><circle cx="1332.3" cy="629.6" r="1.18"/><circle cx="1328.5" cy="620.2" r="2.95"/><circle cx="1324.9" cy="610.9" r="4.01"/><circle cx="1321.0" cy="601.2" r="2.44"/><circle cx="1317.1" cy="591.3" r="3.57"/><circle cx="1357.7" cy="676.1" r="1.86"/><circle cx="1355.2" cy="666.3" r="1.63"/><circle cx="1352.7" cy="656.4" r="2.07"/><circle cx="1350.0" cy="646.1" r="4.44"/><circle cx="1347.5" cy="636.2" r="3.34"/><circle cx="1344.8" cy="625.6" r="0.87"/><circle cx="1342.2" cy="615.7" r="2.56"/><circle cx="1339.8" cy="606.1" r="3.23"/><circle cx="1337.2" cy="595.9" r="2.32"/><circle cx="1334.5" cy="585.7" r="3.14"/><circle cx="1364.2" cy="674.9" r="1.88"/><circle cx="1362.9" cy="664.8" r="1.79"/><circle cx="1361.6" cy="654.7" r="2.12"/><circle cx="1360.3" cy="644.2" r="4.54"/><circle cx="1359.0" cy="634.0" r="2.99"/><circle cx="1357.7" cy="623.1" r="0.91"/><circle cx="1356.4" cy="613.0" r="2.99"/><circle cx="1355.1" cy="603.2" r="4.06"/><circle cx="1353.8" cy="592.8" r="2.28"/><circle cx="1352.5" cy="582.2" r="3.22"/></g>
<g fill="#e8395a"><circle cx="1377.3" cy="674.9" r="1.40"/><circle cx="1378.6" cy="664.8" r="2.00"/><circle cx="1379.9" cy="654.7" r="2.30"/><circle cx="1381.2" cy="644.2" r="5.00"/><circle cx="1382.5" cy="634.0" r="4.40"/><circle cx="1383.8" cy="623.1" r="0.90"/><circle cx="1385.1" cy="613.0" r="3.00"/><circle cx="1386.4" cy="603.2" r="4.60"/><circle cx="1387.7" cy="592.8" r="2.70"/><circle cx="1389.0" cy="582.2" r="4.00"/></g>
<path fill="#e8395a" d="M1355.4 701.4L1358.6 701.0L1361.7 699.2L1363.4 700.6L1363.3 702.8L1364.8 704.1L1363.4 706.3L1365.7 709.0L1367.9 710.8L1367.0 713.0L1369.2 715.2L1373.2 717.0L1377.7 718.3L1381.2 719.2L1382.1 716.1L1383.4 718.3L1386.6 718.3L1390.1 716.1L1392.8 713.9L1396.3 713.0L1398.6 715.2L1396.3 717.9L1394.6 720.6L1393.2 723.2L1391.9 724.6L1390.6 727.7L1389.7 725.4L1387.4 725.0L1388.3 722.8L1385.7 721.0L1383.4 720.1L1382.1 720.6L1383.0 724.1L1383.0 728.6L1379.4 730.3L1376.8 733.4L1373.2 737.0L1369.7 739.7L1367.0 741.9L1366.6 746.3L1365.7 750.8L1362.6 754.8L1360.8 753.9L1358.6 749.0L1356.3 742.8L1354.1 736.6L1352.8 731.2L1352.8 728.6L1349.7 730.3L1346.6 727.7L1345.2 724.6L1348.3 723.2L1349.7 721.9L1347.4 718.8L1348.3 716.1L1351.4 715.7L1354.1 711.7L1356.8 709.0L1357.2 705.9L1355.9 704.1Z"/>
<path d="M1390.6 744.6L1389.2 750L1392.3 757" stroke="#b8b8b8" stroke-width="0.5" fill="none"/>
<text x="1370.60" y="695.20" font-size="6.8" fill="#e8395a" text-anchor="middle">India</text></g>
</svg>
</body></html>
